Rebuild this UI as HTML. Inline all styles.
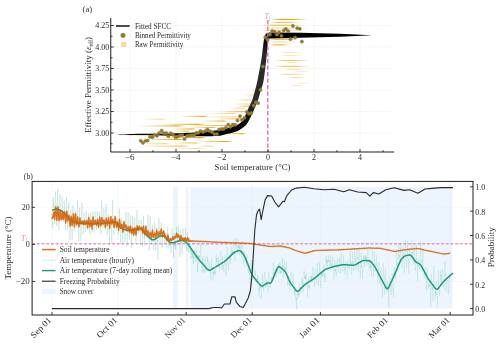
<!DOCTYPE html>
<html><head><meta charset="utf-8"><style>
html,body{margin:0;padding:0;background:#fff;}
svg{display:block;will-change:transform;font-family:"Liberation Serif", serif;}
</style></head><body>
<svg width="500" height="344" viewBox="0 0 500 344">
<rect width="500" height="344" fill="#fff"/>
<line x1="130" y1="18.0" x2="130" y2="152.0" stroke="#e6e6e6" stroke-width="0.6" stroke-dasharray="1.6,1.4"/>
<line x1="176" y1="18.0" x2="176" y2="152.0" stroke="#e6e6e6" stroke-width="0.6" stroke-dasharray="1.6,1.4"/>
<line x1="222" y1="18.0" x2="222" y2="152.0" stroke="#e6e6e6" stroke-width="0.6" stroke-dasharray="1.6,1.4"/>
<line x1="268" y1="18.0" x2="268" y2="152.0" stroke="#e6e6e6" stroke-width="0.6" stroke-dasharray="1.6,1.4"/>
<line x1="314" y1="18.0" x2="314" y2="152.0" stroke="#e6e6e6" stroke-width="0.6" stroke-dasharray="1.6,1.4"/>
<line x1="360" y1="18.0" x2="360" y2="152.0" stroke="#e6e6e6" stroke-width="0.6" stroke-dasharray="1.6,1.4"/>
<line x1="110.75" y1="133" x2="394.0" y2="133" stroke="#e6e6e6" stroke-width="0.6" stroke-dasharray="1.6,1.4"/>
<line x1="110.75" y1="111.5" x2="394.0" y2="111.5" stroke="#e6e6e6" stroke-width="0.6" stroke-dasharray="1.6,1.4"/>
<line x1="110.75" y1="90" x2="394.0" y2="90" stroke="#e6e6e6" stroke-width="0.6" stroke-dasharray="1.6,1.4"/>
<line x1="110.75" y1="68.5" x2="394.0" y2="68.5" stroke="#e6e6e6" stroke-width="0.6" stroke-dasharray="1.6,1.4"/>
<line x1="110.75" y1="47" x2="394.0" y2="47" stroke="#e6e6e6" stroke-width="0.6" stroke-dasharray="1.6,1.4"/>
<line x1="110.75" y1="25.5" x2="394.0" y2="25.5" stroke="#e6e6e6" stroke-width="0.6" stroke-dasharray="1.6,1.4"/>
<defs><linearGradient id="sgL" x1="0" y1="0" x2="1" y2="0"><stop offset="0" stop-color="#e69f00" stop-opacity="0"/><stop offset="0.5" stop-color="#e69f00" stop-opacity="0.6"/><stop offset="0.85" stop-color="#e69f00" stop-opacity="1"/><stop offset="1" stop-color="#e69f00" stop-opacity="0.1"/></linearGradient><linearGradient id="sgC" x1="0" y1="0" x2="1" y2="0"><stop offset="0" stop-color="#e69f00" stop-opacity="0.1"/><stop offset="0.25" stop-color="#e69f00" stop-opacity="0.9"/><stop offset="0.6" stop-color="#e69f00" stop-opacity="0.9"/><stop offset="1" stop-color="#e69f00" stop-opacity="0"/></linearGradient></defs>
<defs><filter id="sb" x="-5%" y="-50%" width="110%" height="200%"><feGaussianBlur stdDeviation="0.4 0.45"/></filter></defs><g filter="url(#sb)">
<rect x="236" y="99.45" width="16" height="1.1" fill="url(#sgL)" opacity="0.56"/>
<rect x="232" y="103.45" width="20" height="1.1" fill="url(#sgL)" opacity="0.48"/>
<rect x="236" y="105.65" width="15" height="1.1" fill="url(#sgL)" opacity="0.80"/>
<rect x="228" y="107.65" width="18" height="1.1" fill="url(#sgL)" opacity="0.48"/>
<rect x="218" y="111.15" width="30" height="1.1" fill="url(#sgL)" opacity="0.80"/>
<rect x="180" y="115.85" width="28" height="1.1" fill="url(#sgL)" opacity="0.88"/>
<rect x="205" y="116.25" width="35" height="1.1" fill="url(#sgL)" opacity="0.48"/>
<rect x="215" y="118.25" width="30" height="1.1" fill="url(#sgL)" opacity="0.80"/>
<rect x="141" y="118.65" width="25" height="1.1" fill="url(#sgL)" opacity="0.40"/>
<rect x="200" y="120.55" width="28" height="1.1" fill="url(#sgL)" opacity="0.80"/>
<rect x="160" y="123.75" width="45" height="1.1" fill="url(#sgL)" opacity="1.00"/>
<rect x="136" y="125.35" width="49" height="1.1" fill="url(#sgL)" opacity="0.96"/>
<rect x="190" y="126.85" width="27" height="1.1" fill="url(#sgL)" opacity="0.80"/>
<rect x="172" y="128.45" width="24" height="1.1" fill="url(#sgL)" opacity="1.00"/>
<rect x="174" y="130.55" width="16" height="1.1" fill="url(#sgL)" opacity="0.80"/>
<rect x="222" y="133.15" width="24" height="1.1" fill="url(#sgL)" opacity="0.96"/>
<rect x="160" y="137.05" width="47" height="1.1" fill="url(#sgL)" opacity="1.00"/>
<rect x="144" y="138.95" width="41" height="1.1" fill="url(#sgL)" opacity="0.96"/>
<rect x="196" y="140.95" width="36" height="1.1" fill="url(#sgL)" opacity="0.96"/>
<rect x="170" y="142.45" width="30" height="1.1" fill="url(#sgL)" opacity="0.72"/>
<rect x="140" y="143.15" width="30" height="1.1" fill="url(#sgL)" opacity="0.48"/>
<rect x="136" y="145.55" width="54" height="1.1" fill="url(#sgL)" opacity="0.72"/>
<rect x="195" y="145.65" width="19" height="1.1" fill="url(#sgL)" opacity="0.48"/>
<rect x="244" y="94.45" width="12" height="1.1" fill="url(#sgL)" opacity="0.48"/>
<rect x="250" y="89.45" width="8" height="1.1" fill="url(#sgL)" opacity="0.40"/>
<rect x="185" y="124.95" width="47" height="1.1" fill="url(#sgL)" opacity="0.72"/>
<rect x="205" y="112.95" width="33" height="1.1" fill="url(#sgL)" opacity="0.48"/>
<rect x="120" y="134.95" width="40" height="1.1" fill="url(#sgL)" opacity="0.40"/>
<rect x="150" y="131.65" width="25" height="1.1" fill="url(#sgL)" opacity="0.48"/>
<rect x="160" y="147.95" width="45" height="1.1" fill="url(#sgL)" opacity="0.40"/>
<rect x="205" y="129.95" width="20" height="1.1" fill="url(#sgL)" opacity="0.56"/>
<rect x="271" y="18.95" width="37" height="1.1" fill="url(#sgC)" opacity="1.00"/>
<rect x="271" y="21.85" width="29" height="1.1" fill="url(#sgC)" opacity="0.75"/>
<rect x="262" y="24.75" width="43" height="1.1" fill="url(#sgC)" opacity="0.75"/>
<rect x="262" y="27.45" width="48" height="1.1" fill="url(#sgC)" opacity="0.44"/>
<rect x="262" y="29.85" width="38" height="1.1" fill="url(#sgC)" opacity="0.50"/>
<rect x="268" y="38.65" width="32" height="1.1" fill="url(#sgC)" opacity="1.00"/>
<rect x="268" y="41.45" width="28" height="1.1" fill="url(#sgC)" opacity="0.44"/>
<rect x="270" y="44.25" width="20" height="1.1" fill="url(#sgC)" opacity="0.88"/>
<rect x="280" y="51.95" width="21" height="1.1" fill="url(#sgC)" opacity="0.31"/>
<rect x="282" y="54.95" width="20" height="1.1" fill="url(#sgC)" opacity="0.28"/>
<rect x="276" y="59.95" width="34" height="1.1" fill="url(#sgC)" opacity="0.62"/>
<rect x="286" y="61.85" width="14" height="1.1" fill="url(#sgC)" opacity="0.28"/>
<rect x="275" y="65.85" width="35" height="1.1" fill="url(#sgC)" opacity="0.69"/>
<rect x="285" y="68.75" width="20" height="1.1" fill="url(#sgC)" opacity="0.38"/>
<rect x="295" y="70.65" width="15" height="1.1" fill="url(#sgC)" opacity="0.25"/>
<rect x="278" y="73.85" width="29" height="1.1" fill="url(#sgC)" opacity="0.38"/>
<rect x="290" y="77.05" width="15" height="1.1" fill="url(#sgC)" opacity="0.44"/>
<rect x="295" y="82.65" width="15" height="1.1" fill="url(#sgC)" opacity="0.25"/>
<rect x="290" y="85.05" width="15" height="1.1" fill="url(#sgC)" opacity="0.25"/>
</g>
<defs><linearGradient id="bg" gradientUnits="userSpaceOnUse" x1="0" y1="30" x2="0" y2="140"><stop offset="0" stop-color="#000"/><stop offset="0.1" stop-color="#050505"/><stop offset="0.22" stop-color="#2a2a2a"/><stop offset="0.68" stop-color="#2a2a2a"/><stop offset="0.86" stop-color="#080808"/><stop offset="1" stop-color="#000"/></linearGradient></defs>
<path d="M118,134.4 C121.67,134.3 131.33,133.97 140,133.8 C148.67,133.63 160.67,133.62 170,133.4 C179.33,133.18 188.33,132.98 196,132.5 C203.67,132.02 211,131.17 216,130.5 C221,129.83 222.67,129.33 226,128.5 C229.33,127.67 233.5,126.53 236,125.5 C238.5,124.47 239.57,123.72 241,122.3 C242.43,120.88 243.38,119.3 244.6,117 C245.82,114.7 247.02,111.33 248.3,108.5 C249.58,105.67 251.18,103 252.3,100 C253.42,97 254.12,93.83 255,90.5 C255.88,87.17 256.55,85.08 257.6,80 C258.65,74.92 260.38,65.67 261.3,60 C262.22,54.33 262.67,49.33 263.1,46 C263.53,42.67 263.62,41.67 263.9,40 C264.18,38.33 264.42,37.07 264.8,36 C265.18,34.93 265.67,34.13 266.2,33.6 C266.73,33.07 267.2,32.98 268,32.8 C268.8,32.62 270.5,32.55 271,32.5 L300,32.7 L340,33.8 L372,35.35 L340,36.7 L300,37.8 L269.5,38.4 L269.5,38.4 C269.28,38.67 268.55,38.4 268.2,40 C267.85,41.6 267.73,44.67 267.4,48 C267.07,51.33 266.82,54.67 266.2,60 C265.58,65.33 264.57,75 263.7,80 C262.83,85 261.95,86.67 261,90 C260.05,93.33 259.03,97 258,100 C256.97,103 256.02,105.17 254.8,108 C253.58,110.83 252.08,114.25 250.7,117 C249.32,119.75 248.12,122.5 246.5,124.5 C244.88,126.5 242.83,127.78 241,129 C239.17,130.22 238.17,130.88 235.5,131.8 C232.83,132.72 228.25,133.78 225,134.5 C221.75,135.22 220.83,135.82 216,136.1 C211.17,136.38 203.67,136.27 196,136.2 C188.33,136.13 179.33,135.88 170,135.7 C160.67,135.52 148.67,135.25 140,135.1 C131.33,134.95 121.67,134.85 118,134.8 Z" fill="url(#bg)"/>
<line x1="267.8" y1="20" x2="267.8" y2="152.0" stroke="#d66fb3" stroke-width="1.3" stroke-dasharray="4.3,2.2"/>
<circle cx="140.8" cy="140.8" r="1.6" fill="#e05e00" stroke="#1b9e77" stroke-width="0.5"/>
<circle cx="143" cy="142.8" r="1.6" fill="#e05e00" stroke="#1b9e77" stroke-width="0.5"/>
<circle cx="145.6" cy="140.8" r="1.6" fill="#e05e00" stroke="#1b9e77" stroke-width="0.5"/>
<circle cx="147.6" cy="140.6" r="1.6" fill="#e05e00" stroke="#1b9e77" stroke-width="0.5"/>
<circle cx="150" cy="136.8" r="1.6" fill="#e05e00" stroke="#1b9e77" stroke-width="0.5"/>
<circle cx="152.4" cy="137.2" r="1.6" fill="#e05e00" stroke="#1b9e77" stroke-width="0.5"/>
<circle cx="154.4" cy="135" r="1.6" fill="#e05e00" stroke="#1b9e77" stroke-width="0.5"/>
<circle cx="157" cy="135.8" r="1.6" fill="#e05e00" stroke="#1b9e77" stroke-width="0.5"/>
<circle cx="159.2" cy="133" r="1.6" fill="#e05e00" stroke="#1b9e77" stroke-width="0.5"/>
<circle cx="161.6" cy="130.6" r="1.6" fill="#e05e00" stroke="#1b9e77" stroke-width="0.5"/>
<circle cx="163.8" cy="133.2" r="1.6" fill="#e05e00" stroke="#1b9e77" stroke-width="0.5"/>
<circle cx="166.2" cy="133.2" r="1.6" fill="#e05e00" stroke="#1b9e77" stroke-width="0.5"/>
<circle cx="168.4" cy="136.2" r="1.6" fill="#e05e00" stroke="#1b9e77" stroke-width="0.5"/>
<circle cx="170.8" cy="133.4" r="1.6" fill="#e05e00" stroke="#1b9e77" stroke-width="0.5"/>
<circle cx="173.2" cy="134.8" r="1.6" fill="#e05e00" stroke="#1b9e77" stroke-width="0.5"/>
<circle cx="175.6" cy="137.2" r="1.6" fill="#e05e00" stroke="#1b9e77" stroke-width="0.5"/>
<circle cx="177.6" cy="136.6" r="1.6" fill="#e05e00" stroke="#1b9e77" stroke-width="0.5"/>
<circle cx="180" cy="135.4" r="1.6" fill="#e05e00" stroke="#1b9e77" stroke-width="0.5"/>
<circle cx="182.4" cy="135" r="1.6" fill="#e05e00" stroke="#1b9e77" stroke-width="0.5"/>
<circle cx="184.5" cy="139" r="1.6" fill="#e05e00" stroke="#1b9e77" stroke-width="0.5"/>
<circle cx="186.9" cy="136" r="1.6" fill="#e05e00" stroke="#1b9e77" stroke-width="0.5"/>
<circle cx="189.3" cy="135.4" r="1.6" fill="#e05e00" stroke="#1b9e77" stroke-width="0.5"/>
<circle cx="191.7" cy="135.2" r="1.6" fill="#e05e00" stroke="#1b9e77" stroke-width="0.5"/>
<circle cx="194" cy="135.2" r="1.6" fill="#e05e00" stroke="#1b9e77" stroke-width="0.5"/>
<circle cx="196.3" cy="132.9" r="1.6" fill="#e05e00" stroke="#1b9e77" stroke-width="0.5"/>
<circle cx="198.4" cy="132.8" r="1.6" fill="#e05e00" stroke="#1b9e77" stroke-width="0.5"/>
<circle cx="200.5" cy="131" r="1.6" fill="#e05e00" stroke="#1b9e77" stroke-width="0.5"/>
<circle cx="203" cy="132" r="1.6" fill="#e05e00" stroke="#1b9e77" stroke-width="0.5"/>
<circle cx="205.5" cy="131" r="1.6" fill="#e05e00" stroke="#1b9e77" stroke-width="0.5"/>
<circle cx="207.5" cy="129.5" r="1.6" fill="#e05e00" stroke="#1b9e77" stroke-width="0.5"/>
<circle cx="209.5" cy="131" r="1.6" fill="#e05e00" stroke="#1b9e77" stroke-width="0.5"/>
<circle cx="212" cy="132" r="1.6" fill="#e05e00" stroke="#1b9e77" stroke-width="0.5"/>
<circle cx="214.5" cy="134" r="1.6" fill="#e05e00" stroke="#1b9e77" stroke-width="0.5"/>
<circle cx="217" cy="134" r="1.6" fill="#e05e00" stroke="#1b9e77" stroke-width="0.5"/>
<circle cx="219" cy="129.5" r="1.6" fill="#e05e00" stroke="#1b9e77" stroke-width="0.5"/>
<circle cx="221.5" cy="129" r="1.6" fill="#e05e00" stroke="#1b9e77" stroke-width="0.5"/>
<circle cx="223.5" cy="129" r="1.6" fill="#e05e00" stroke="#1b9e77" stroke-width="0.5"/>
<circle cx="226" cy="127.5" r="1.6" fill="#e05e00" stroke="#1b9e77" stroke-width="0.5"/>
<circle cx="228.2" cy="124.5" r="1.6" fill="#e05e00" stroke="#1b9e77" stroke-width="0.5"/>
<circle cx="230.5" cy="126.8" r="1.6" fill="#e05e00" stroke="#1b9e77" stroke-width="0.5"/>
<circle cx="232.8" cy="124.5" r="1.6" fill="#e05e00" stroke="#1b9e77" stroke-width="0.5"/>
<circle cx="235.2" cy="124.8" r="1.6" fill="#e05e00" stroke="#1b9e77" stroke-width="0.5"/>
<circle cx="237.5" cy="120.5" r="1.6" fill="#e05e00" stroke="#1b9e77" stroke-width="0.5"/>
<circle cx="240" cy="116.1" r="1.6" fill="#e05e00" stroke="#1b9e77" stroke-width="0.5"/>
<circle cx="242" cy="119.9" r="1.6" fill="#e05e00" stroke="#1b9e77" stroke-width="0.5"/>
<circle cx="244.4" cy="117.8" r="1.6" fill="#e05e00" stroke="#1b9e77" stroke-width="0.5"/>
<circle cx="246.8" cy="111.8" r="1.6" fill="#e05e00" stroke="#1b9e77" stroke-width="0.5"/>
<circle cx="249" cy="113.7" r="1.6" fill="#e05e00" stroke="#1b9e77" stroke-width="0.5"/>
<circle cx="251.3" cy="113" r="1.6" fill="#e05e00" stroke="#1b9e77" stroke-width="0.5"/>
<circle cx="253.7" cy="105.6" r="1.6" fill="#e05e00" stroke="#1b9e77" stroke-width="0.5"/>
<circle cx="255.8" cy="102.3" r="1.6" fill="#e05e00" stroke="#1b9e77" stroke-width="0.5"/>
<circle cx="258.2" cy="103.1" r="1.6" fill="#e05e00" stroke="#1b9e77" stroke-width="0.5"/>
<circle cx="260.5" cy="89.9" r="1.6" fill="#e05e00" stroke="#1b9e77" stroke-width="0.5"/>
<circle cx="262.9" cy="66.5" r="1.6" fill="#e05e00" stroke="#1b9e77" stroke-width="0.5"/>
<circle cx="265.3" cy="37.4" r="1.6" fill="#e05e00" stroke="#1b9e77" stroke-width="0.5"/>
<circle cx="267.6" cy="39.8" r="1.6" fill="#e05e00" stroke="#1b9e77" stroke-width="0.5"/>
<circle cx="270" cy="34.4" r="1.6" fill="#e05e00" stroke="#1b9e77" stroke-width="0.5"/>
<circle cx="272.2" cy="31" r="1.6" fill="#e05e00" stroke="#1b9e77" stroke-width="0.5"/>
<circle cx="274.5" cy="31.7" r="1.6" fill="#e05e00" stroke="#1b9e77" stroke-width="0.5"/>
<circle cx="276.9" cy="34.5" r="1.6" fill="#e05e00" stroke="#1b9e77" stroke-width="0.5"/>
<circle cx="279" cy="32.3" r="1.6" fill="#e05e00" stroke="#1b9e77" stroke-width="0.5"/>
<circle cx="281.4" cy="35.8" r="1.6" fill="#e05e00" stroke="#1b9e77" stroke-width="0.5"/>
<circle cx="283.7" cy="30.5" r="1.6" fill="#e05e00" stroke="#1b9e77" stroke-width="0.5"/>
<circle cx="285.9" cy="28.9" r="1.6" fill="#e05e00" stroke="#1b9e77" stroke-width="0.5"/>
<circle cx="288.3" cy="31.2" r="1.6" fill="#e05e00" stroke="#1b9e77" stroke-width="0.5"/>
<circle cx="290.5" cy="39.2" r="1.6" fill="#e05e00" stroke="#1b9e77" stroke-width="0.5"/>
<circle cx="292.9" cy="25.9" r="1.6" fill="#e05e00" stroke="#1b9e77" stroke-width="0.5"/>
<circle cx="295.1" cy="37.5" r="1.6" fill="#e05e00" stroke="#1b9e77" stroke-width="0.5"/>
<circle cx="297.3" cy="28.2" r="1.6" fill="#e05e00" stroke="#1b9e77" stroke-width="0.5"/>
<circle cx="299.8" cy="28.8" r="1.6" fill="#e05e00" stroke="#1b9e77" stroke-width="0.5"/>
<circle cx="301.9" cy="41.6" r="1.6" fill="#e05e00" stroke="#1b9e77" stroke-width="0.5"/>
<path d="M110.75,18.0 L110.75,152.0 L394.0,152.0" fill="none" stroke="#111" stroke-width="0.95"/>
<line x1="130" y1="152.0" x2="130" y2="149" stroke="#111" stroke-width="0.8"/>
<line x1="153" y1="152.0" x2="153" y2="150.2" stroke="#111" stroke-width="0.8"/>
<line x1="176" y1="152.0" x2="176" y2="149" stroke="#111" stroke-width="0.8"/>
<line x1="199" y1="152.0" x2="199" y2="150.2" stroke="#111" stroke-width="0.8"/>
<line x1="222" y1="152.0" x2="222" y2="149" stroke="#111" stroke-width="0.8"/>
<line x1="245" y1="152.0" x2="245" y2="150.2" stroke="#111" stroke-width="0.8"/>
<line x1="268" y1="152.0" x2="268" y2="149" stroke="#111" stroke-width="0.8"/>
<line x1="291" y1="152.0" x2="291" y2="150.2" stroke="#111" stroke-width="0.8"/>
<line x1="314" y1="152.0" x2="314" y2="149" stroke="#111" stroke-width="0.8"/>
<line x1="337" y1="152.0" x2="337" y2="150.2" stroke="#111" stroke-width="0.8"/>
<line x1="360" y1="152.0" x2="360" y2="149" stroke="#111" stroke-width="0.8"/>
<line x1="383" y1="152.0" x2="383" y2="150.2" stroke="#111" stroke-width="0.8"/>
<line x1="110.75" y1="143.75" x2="112.55" y2="143.75" stroke="#111" stroke-width="0.8"/>
<line x1="110.75" y1="133" x2="113.75" y2="133" stroke="#111" stroke-width="0.8"/>
<line x1="110.75" y1="122.25" x2="112.55" y2="122.25" stroke="#111" stroke-width="0.8"/>
<line x1="110.75" y1="111.5" x2="113.75" y2="111.5" stroke="#111" stroke-width="0.8"/>
<line x1="110.75" y1="100.75" x2="112.55" y2="100.75" stroke="#111" stroke-width="0.8"/>
<line x1="110.75" y1="90" x2="113.75" y2="90" stroke="#111" stroke-width="0.8"/>
<line x1="110.75" y1="79.25" x2="112.55" y2="79.25" stroke="#111" stroke-width="0.8"/>
<line x1="110.75" y1="68.5" x2="113.75" y2="68.5" stroke="#111" stroke-width="0.8"/>
<line x1="110.75" y1="57.75" x2="112.55" y2="57.75" stroke="#111" stroke-width="0.8"/>
<line x1="110.75" y1="47" x2="113.75" y2="47" stroke="#111" stroke-width="0.8"/>
<line x1="110.75" y1="36.25" x2="112.55" y2="36.25" stroke="#111" stroke-width="0.8"/>
<line x1="110.75" y1="25.5" x2="113.75" y2="25.5" stroke="#111" stroke-width="0.8"/>
<text x="129.7" y="160.2" font-size="8" text-anchor="middle" fill="#2b2b2b" textLength="9.6" lengthAdjust="spacingAndGlyphs">−6</text>
<text x="175.7" y="160.2" font-size="8" text-anchor="middle" fill="#2b2b2b" textLength="9.6" lengthAdjust="spacingAndGlyphs">−4</text>
<text x="221.7" y="160.2" font-size="8" text-anchor="middle" fill="#2b2b2b" textLength="9.6" lengthAdjust="spacingAndGlyphs">−2</text>
<text x="268" y="160.2" font-size="8" text-anchor="middle" fill="#2b2b2b">0</text>
<text x="314" y="160.2" font-size="8" text-anchor="middle" fill="#2b2b2b">2</text>
<text x="360" y="160.2" font-size="8" text-anchor="middle" fill="#2b2b2b">4</text>
<text x="109.2" y="135.8" font-size="8" text-anchor="end" fill="#2b2b2b" textLength="14" lengthAdjust="spacingAndGlyphs">3.00</text>
<text x="109.2" y="114.3" font-size="8" text-anchor="end" fill="#2b2b2b" textLength="14" lengthAdjust="spacingAndGlyphs">3.25</text>
<text x="109.2" y="92.8" font-size="8" text-anchor="end" fill="#2b2b2b" textLength="14" lengthAdjust="spacingAndGlyphs">3.50</text>
<text x="109.2" y="71.3" font-size="8" text-anchor="end" fill="#2b2b2b" textLength="14" lengthAdjust="spacingAndGlyphs">3.75</text>
<text x="109.2" y="49.8" font-size="8" text-anchor="end" fill="#2b2b2b" textLength="14" lengthAdjust="spacingAndGlyphs">4.00</text>
<text x="109.2" y="28.3" font-size="8" text-anchor="end" fill="#2b2b2b" textLength="14" lengthAdjust="spacingAndGlyphs">4.25</text>
<text x="252.5" y="170.2" font-size="9" text-anchor="middle" fill="#2b2b2b" textLength="76" lengthAdjust="spacingAndGlyphs">Soil temperature (°C)</text>
<text x="0" y="0" font-size="9" fill="#2b2b2b" text-anchor="middle" transform="translate(91.0 85) rotate(-90)" textLength="96" lengthAdjust="spacingAndGlyphs">Effective Permittivity (<tspan font-style="italic">ε</tspan><tspan font-size="6" dy="1.6">eff</tspan><tspan dy="-1.5">)</tspan></text>
<text x="82.6" y="12.2" font-size="8.5" fill="#2b2b2b" textLength="9.6" lengthAdjust="spacingAndGlyphs">(a)</text>
<text x="264.4" y="19.0" font-size="8" fill="#de8fc2" font-style="italic">T<tspan font-size="5.5" dy="1.3">f</tspan></text>
<line x1="116" y1="26" x2="129.6" y2="26" stroke="#000" stroke-width="1.4"/>
<text x="134.9" y="28.7" font-size="7.6" fill="#2b2b2b" textLength="36.3" lengthAdjust="spacingAndGlyphs">Fitted SFCC</text>
<circle cx="123" cy="35.4" r="2.2" fill="#e05e00" stroke="#1b9e77" stroke-width="0.7"/>
<text x="134.9" y="38" font-size="7.6" fill="#2b2b2b" textLength="56" lengthAdjust="spacingAndGlyphs">Binned Permittivity</text>
<rect x="121.2" y="42.0" width="5" height="5" fill="#f6d9a0"/>
<text x="134.9" y="47.1" font-size="7.6" fill="#2b2b2b" textLength="48.3" lengthAdjust="spacingAndGlyphs">Raw Permittivity</text>
<rect x="173.1" y="186.8" width="4.8" height="121.8" fill="#ecf5fd"/>
<rect x="186.2" y="186.8" width="2.4" height="121.8" fill="#ecf5fd"/>
<rect x="190.5" y="186.8" width="262.1" height="121.8" fill="#ecf5fd"/>
<line x1="52" y1="181.4" x2="52" y2="315.0" stroke="#e6e6e6" stroke-width="0.6" stroke-dasharray="1.6,1.4"/>
<line x1="118" y1="181.4" x2="118" y2="315.0" stroke="#e6e6e6" stroke-width="0.6" stroke-dasharray="1.6,1.4"/>
<line x1="186.2" y1="181.4" x2="186.2" y2="315.0" stroke="#e6e6e6" stroke-width="0.6" stroke-dasharray="1.6,1.4"/>
<line x1="252.2" y1="181.4" x2="252.2" y2="315.0" stroke="#e6e6e6" stroke-width="0.6" stroke-dasharray="1.6,1.4"/>
<line x1="320.4" y1="181.4" x2="320.4" y2="315.0" stroke="#e6e6e6" stroke-width="0.6" stroke-dasharray="1.6,1.4"/>
<line x1="388.6" y1="181.4" x2="388.6" y2="315.0" stroke="#e6e6e6" stroke-width="0.6" stroke-dasharray="1.6,1.4"/>
<line x1="450.2" y1="181.4" x2="450.2" y2="315.0" stroke="#e6e6e6" stroke-width="0.6" stroke-dasharray="1.6,1.4"/>
<line x1="32.1" y1="207.3" x2="473.0" y2="207.3" stroke="#e6e6e6" stroke-width="0.6" stroke-dasharray="1.6,1.4"/>
<line x1="32.1" y1="281.5" x2="473.0" y2="281.5" stroke="#e6e6e6" stroke-width="0.6" stroke-dasharray="1.6,1.4"/>
<polyline points="52,213.83 52.09,216.85 52.18,221.38 52.27,225.78 52.37,227.7 52.46,224.66 52.55,219.62 52.64,215.87 52.73,212.6 52.83,210.72 52.92,209.86 53.01,207.82 53.1,204.08 53.19,199.29 53.28,197.47 53.38,199.82 53.47,202.84 53.56,206.32 53.65,207.14 53.74,207.14 53.83,206.11 53.92,206.13 54.02,205.33 54.11,205.71 54.2,207.83 54.29,211.19 54.38,215.11 54.48,220.98 54.57,223.86 54.66,221.45 54.75,214.39 54.84,208.56 54.93,204.64 55.02,202.67 55.12,202.47 55.21,199.86 55.3,196.43 55.39,193.45 55.48,191.47 55.58,193.32 55.67,197.49 55.76,201.36 55.85,202.76 55.94,203.9 56.03,205.4 56.12,204.44 56.22,205.31 56.31,205.57 56.4,206.99 56.49,211.95 56.58,218.12 56.67,223.14 56.77,225.95 56.86,224.02 56.95,218.27 57.04,213.56 57.13,210.39 57.23,209.32 57.32,208.68 57.41,204.5 57.5,198.49 57.59,191.55 57.68,188.79 57.77,190.97 57.87,197.34 57.96,203.6 58.05,208.11 58.14,210.6 58.23,210.12 58.33,209.73 58.42,210.38 58.51,208.99 58.6,210.72 58.69,214.3 58.78,221.32 58.88,228.28 58.97,230.96 59.06,228.01 59.15,221.67 59.24,217.08 59.33,213.32 59.42,211.47 59.52,210.3 59.61,207.36 59.7,202.44 59.79,196.5 59.88,194.32 59.98,196.44 60.07,202.68 60.16,208.16 60.25,211.11 60.34,212.88 60.43,213.03 60.52,213.99 60.62,214.05 60.71,214.56 60.8,214.51 60.89,216.46 60.98,217.98 61.08,219.46 61.17,220.69 61.26,218.86 61.35,216.22 61.44,215.33 61.53,213.1 61.62,211.73 61.72,210.66 61.81,208.26 61.9,203.38 61.99,198.16 62.08,196.53 62.17,199.32 62.27,203.76 62.36,208.62 62.45,211.59 62.54,212.03 62.63,212.68 62.73,212.2 62.82,213.07 62.91,213.32 63,214.49 63.09,215.96 63.18,219.12 63.27,221.07 63.37,221.86 63.46,220.82 63.55,215.99 63.64,213.69 63.73,210.65 63.83,210.51 63.92,209.12 64.01,208.07 64.1,205.25 64.19,200.95 64.28,200.67 64.38,203.48 64.47,206.94 64.56,210.04 64.65,211.95 64.74,212.15 64.83,213.42 64.92,213.24 65.02,213.41 65.11,213.01 65.2,214.25 65.29,216.21 65.38,222.01 65.47,227.02 65.57,230.15 65.66,228.19 65.75,222.95 65.84,218.32 65.93,215.34 66.03,214.12 66.12,212.5 66.21,209.42 66.3,203.46 66.39,197.62 66.48,196.71 66.58,198.85 66.67,203.75 66.76,209.37 66.85,213.69 66.94,214 67.03,214.44 67.12,214.29 67.22,213.23 67.31,214.11 67.4,215.79 67.49,218.68 67.58,222.71 67.67,227.98 67.77,229.9 67.86,228 67.95,222.8 68.04,217.83 68.13,216.56 68.22,215.14 68.32,214.41 68.41,212.28 68.5,208.26 68.59,203.94 68.68,202.82 68.78,204.7 68.87,209.04 68.96,213.23 69.05,216.66 69.14,218.32 69.23,219.05 69.33,218.83 69.42,217.95 69.51,218.87 69.6,221.5 69.69,224.7 69.78,230.61 69.88,237.06 69.97,240.35 70.06,238.6 70.15,232.61 70.24,228.49 70.33,224.35 70.42,223.48 70.52,222.41 70.61,220.26 70.7,216.99 70.79,213.06 70.88,209.9 70.97,210.81 71.07,216.46 71.16,220.36 71.25,223.12 71.34,224.87 71.43,223.92 71.53,222.39 71.62,222.67 71.71,222.77 71.8,224.43 71.89,227.77 71.98,232.68 72.08,237.51 72.17,240.14 72.26,236.9 72.35,229.91 72.44,224.96 72.53,221.77 72.62,220.67 72.72,218.73 72.81,215.95 72.9,211.34 72.99,206.56 73.08,205.01 73.17,206.55 73.27,211.37 73.36,215.89 73.45,220.03 73.54,220.08 73.63,221.23 73.73,221.38 73.82,221.53 73.91,220.58 74,221.35 74.09,223.81 74.18,226.79 74.28,230.12 74.37,231.43 74.46,231.09 74.55,228.11 74.64,223.67 74.73,221.59 74.83,219.42 74.92,216.39 75.01,214.89 75.1,213.95 75.19,211.85 75.28,210.11 75.38,210.64 75.47,214.08 75.56,216.59 75.65,218.09 75.74,218.73 75.83,219.06 75.92,219.86 76.02,220.42 76.11,220.69 76.2,220.61 76.29,222.26 76.38,223.77 76.48,226.79 76.57,226.83 76.66,225.93 76.75,223.97 76.84,221.14 76.93,221.38 77.03,221.72 77.12,219.85 77.21,216.91 77.3,211.19 77.39,202.76 77.48,200.17 77.58,203.08 77.67,209.71 77.76,215.04 77.85,218.53 77.94,219.98 78.03,221.44 78.12,221.88 78.22,221.98 78.31,223.24 78.4,224.55 78.49,227.38 78.58,231.26 78.67,238.09 78.77,241.35 78.86,239.65 78.95,234.67 79.04,229.6 79.13,226.66 79.23,224.88 79.32,223.1 79.41,219.94 79.5,215.77 79.59,210.46 79.68,207.83 79.78,209.87 79.87,215.03 79.96,221.55 80.05,225.01 80.14,226.24 80.23,226.27 80.33,225.44 80.42,225.38 80.51,226.01 80.6,227.24 80.69,229.89 80.78,234.56 80.88,239.83 80.97,240.9 81.06,238.4 81.15,232.55 81.24,228.37 81.33,224.83 81.42,223.71 81.52,223.04 81.61,218.98 81.7,212.14 81.79,205.5 81.88,202.47 81.98,204.73 82.07,211.89 82.16,219.79 82.25,223.29 82.34,224.63 82.43,224.23 82.53,224.55 82.62,223.57 82.71,222.71 82.8,224.58 82.89,225.5 82.98,229.08 83.08,233.15 83.17,234.59 83.26,233.64 83.35,232.12 83.44,229.1 83.53,226.88 83.62,224.86 83.72,223.81 83.81,222.75 83.9,219.83 83.99,215.19 84.08,212.78 84.18,214.06 84.27,218.09 84.36,221.48 84.45,223.73 84.54,224.79 84.63,224.77 84.72,224.78 84.82,224.94 84.91,224.86 85,225.75 85.09,228.1 85.18,230.06 85.28,231.72 85.37,231.11 85.46,230.6 85.55,227.35 85.64,224.66 85.73,224.34 85.83,224.27 85.92,223.22 86.01,219.87 86.1,216.18 86.19,212.04 86.28,210.95 86.38,214.36 86.47,218.2 86.56,221.05 86.65,222.22 86.74,223.06 86.83,223.23 86.93,222.47 87.02,222.66 87.11,221.88 87.2,223.32 87.29,225.06 87.38,227.39 87.47,228.59 87.57,229.72 87.66,228.98 87.75,227.21 87.84,225.59 87.93,223.8 88.03,222.29 88.12,222.31 88.21,220.73 88.3,218.42 88.39,216.52 88.48,214.04 88.58,214.78 88.67,217.8 88.76,220.79 88.85,222.13 88.94,223.64 89.03,224.07 89.12,223.25 89.22,222.65 89.31,223.4 89.4,224.7 89.49,224.88 89.58,228.64 89.68,231.97 89.77,234.31 89.86,232.84 89.95,229.91 90.04,226.53 90.13,226.98 90.22,226.02 90.32,226.25 90.41,223.61 90.5,220.16 90.59,215.07 90.68,213.12 90.78,215.64 90.87,218.55 90.96,223.03 91.05,225.44 91.14,225.55 91.23,225.5 91.33,225.29 91.42,225.35 91.51,225.03 91.6,225.38 91.69,226.86 91.78,228.93 91.88,231 91.97,232.42 92.06,231.96 92.15,228.02 92.24,225.47 92.33,223.49 92.43,222.02 92.52,221.8 92.61,219.38 92.7,217.02 92.79,212.65 92.88,211.37 92.97,213.1 93.07,216.61 93.16,220.89 93.25,223.09 93.34,224.57 93.43,224.91 93.53,224.26 93.62,224.35 93.71,224.55 93.8,226.2 93.89,227.02 93.98,229.51 94.08,230.87 94.17,232.68 94.26,230.89 94.35,227.16 94.44,224.95 94.53,224.56 94.62,222.82 94.72,221.35 94.81,219.28 94.9,215.76 94.99,213.22 95.08,211.48 95.18,212.58 95.27,216.39 95.36,218.97 95.45,221.27 95.54,221.46 95.63,221 95.72,219.92 95.82,221.65 95.91,221.65 96,222.59 96.09,223.73 96.18,225.66 96.28,227.58 96.37,229.97 96.46,228.58 96.55,225.89 96.64,223.75 96.73,221.98 96.83,222.21 96.92,222.15 97.01,219.63 97.1,215.44 97.19,211.84 97.28,211.56 97.38,211.21 97.47,215.48 97.56,218.27 97.65,221.3 97.74,221.5 97.83,221.76 97.93,220.92 98.02,220.47 98.11,221.84 98.2,223.44 98.29,224.65 98.38,226.4 98.47,227.54 98.57,228.56 98.66,227.77 98.75,225.64 98.84,223.63 98.93,221.68 99.03,221.13 99.12,220.36 99.21,219.48 99.3,217.59 99.39,213.88 99.48,211.77 99.58,213.54 99.67,216.98 99.76,220.09 99.85,222.29 99.94,222.51 100.03,223.41 100.12,223.56 100.22,223.93 100.31,223.95 100.4,224.56 100.49,225.86 100.58,228.99 100.68,232.11 100.77,233.98 100.86,232.68 100.95,228.48 101.04,225.6 101.13,222.84 101.22,221.43 101.32,219.78 101.41,214.85 101.5,209.19 101.59,203.17 101.68,200.44 101.78,203.18 101.87,209.5 101.96,214.96 102.05,218.5 102.14,219.73 102.23,220.43 102.33,219.81 102.42,220.24 102.51,220.56 102.6,221.23 102.69,222.13 102.78,224.53 102.88,225.34 102.97,226.74 103.06,226.27 103.15,224.76 103.24,223.44 103.33,221.98 103.43,221.22 103.52,220.71 103.61,218.63 103.7,214.64 103.79,209.03 103.88,207.55 103.97,210.59 104.07,216 104.16,220.51 104.25,221.9 104.34,223.72 104.43,223.96 104.53,222.14 104.62,222.56 104.71,221.53 104.8,221.45 104.89,222.53 104.98,226.04 105.08,228.43 105.17,229.88 105.26,230.18 105.35,228.9 105.44,226.44 105.53,224.77 105.62,222.84 105.72,220.79 105.81,217.69 105.9,212.19 105.99,206.07 106.08,204.09 106.18,206.28 106.27,212.48 106.36,218.89 106.45,222.77 106.54,224.96 106.63,225.62 106.72,225.41 106.82,225.64 106.91,224.83 107,224.72 107.09,227.3 107.18,230.85 107.28,234.92 107.37,235.33 107.46,233.39 107.55,229.16 107.64,224.97 107.73,221.19 107.83,220.09 107.92,220.21 108.01,219.41 108.1,217.1 108.19,215.11 108.28,214.85 108.38,213.72 108.47,215.82 108.56,218.3 108.65,220.06 108.74,221.88 108.83,222.9 108.93,223.16 109.02,223.36 109.11,223.91 109.2,225.28 109.29,228.55 109.38,234.91 109.47,242.43 109.57,244.9 109.66,242.03 109.75,235.95 109.84,231.12 109.93,227.54 110.03,226.95 110.12,224.95 110.21,222.86 110.3,219.64 110.39,216.99 110.48,216.27 110.58,216.35 110.67,218.65 110.76,221.73 110.85,222.83 110.94,222.28 111.03,223.23 111.12,223.58 111.22,223.89 111.31,223.46 111.4,226.07 111.49,229.25 111.58,235.85 111.68,241.31 111.77,243.37 111.86,240.72 111.95,233.9 112.04,228.54 112.13,225.18 112.22,222.61 112.32,220.73 112.41,216.63 112.5,210.96 112.59,203.65 112.68,200.25 112.78,204.15 112.87,212.56 112.96,220.29 113.05,223.91 113.14,225.43 113.23,226.89 113.33,226.7 113.42,225.79 113.51,225.72 113.6,227.03 113.69,228.25 113.78,230.28 113.88,232.74 113.97,234.83 114.06,232.56 114.15,228.76 114.24,225.48 114.33,223.88 114.43,222.63 114.52,222.27 114.61,220.35 114.7,218.08 114.79,215.19 114.88,215.12 114.97,215.99 115.07,217.47 115.16,219.13 115.25,220.1 115.34,221.1 115.43,219.99 115.53,219.23 115.62,218.97 115.71,220.94 115.8,222.28 115.89,223.29 115.98,225.75 116.08,229.46 116.17,230.22 116.26,229.05 116.35,227.92 116.44,226.37 116.53,225.73 116.63,224.75 116.72,225.62 116.81,225.64 116.9,223.91 116.99,222.13 117.08,219.52 117.17,221.01 117.27,223.12 117.36,225.57 117.45,227.34 117.54,227.59 117.63,226.47 117.73,226.84 117.82,226.35 117.91,226.17 118,226.67 118.09,228.11 118.18,229.16 118.28,233.14 118.37,234.75 118.46,234.43 118.55,233.14 118.64,230.49 118.73,227.5 118.83,225.95 118.92,223.87 119.01,220.9 119.1,216.53 119.19,210.26 119.28,208.57 119.38,209.81 119.47,215.18 119.56,219.92 119.65,222.62 119.74,223.89 119.83,224.03 119.92,223.88 120.02,222.85 120.11,223.05 120.2,226.21 120.29,230.72 120.38,236.64 120.48,242.39 120.57,244.22 120.66,243.11 120.75,237.98 120.84,233.17 120.93,230.13 121.03,228.9 121.12,227.48 121.21,225.39 121.3,221.17 121.39,217.29 121.48,217.51 121.58,219.18 121.67,222.8 121.76,226.78 121.85,229.44 121.94,229.46 122.03,229.61 122.13,230.44 122.22,230.71 122.31,230.85 122.4,233.19 122.49,234.7 122.58,238.21 122.67,241.49 122.77,244.28 122.86,241.16 122.95,237.03 123.04,233.25 123.13,231.77 123.23,231.25 123.32,231.39 123.41,228.38 123.5,226.03 123.59,222.66 123.68,220.77 123.78,222.63 123.87,225.13 123.96,226.58 124.05,228.16 124.14,227.85 124.23,227.72 124.33,228.23 124.42,228.63 124.51,230 124.6,231.35 124.69,232.81 124.78,236.66 124.88,240.68 124.97,241.96 125.06,240.44 125.15,235.53 125.24,229.91 125.33,228.07 125.42,226.8 125.52,225.76 125.61,223.01 125.7,218.65 125.79,213.48 125.88,212.17 125.98,214.95 126.07,220.64 126.16,225.99 126.25,227.87 126.34,229.04 126.43,229.28 126.53,229.61 126.62,228.68 126.71,230.04 126.8,231.85 126.89,234.01 126.98,237.91 127.08,243.29 127.17,245.77 127.26,242.88 127.35,237.57 127.44,232.04 127.53,229.48 127.63,227.46 127.72,225.99 127.81,223.82 127.9,220.86 127.99,214.77 128.08,212.07 128.18,213.82 128.27,219.8 128.36,223.93 128.45,226.55 128.54,227.79 128.63,227.46 128.73,226.9 128.82,226.65 128.91,225.17 129,225.76 129.09,228.42 129.18,233.45 129.28,238.56 129.37,239.64 129.46,237.27 129.55,233.05 129.64,228.94 129.73,226.23 129.82,224.4 129.92,224.06 130.01,222.01 130.1,218.38 130.19,214.86 130.28,214.8 130.38,216.53 130.47,220.69 130.56,223.37 130.65,225.94 130.74,226.27 130.83,226.46 130.93,228.51 131.02,229.15 131.11,228.81 131.2,230.66 131.29,234.35 131.38,241.09 131.48,246.89 131.57,248.32 131.66,245.4 131.75,239.28 131.84,233.6 131.93,231.14 132.03,229.66 132.12,228.73 132.21,225 132.3,220.94 132.39,217.48 132.48,215.75 132.57,218.05 132.67,223.04 132.76,228.94 132.85,230.81 132.94,231.69 133.03,232.2 133.12,232.67 133.22,232.17 133.31,232.24 133.4,232.44 133.49,233.42 133.58,234.93 133.68,235.8 133.77,236.52 133.86,236.27 133.95,233.56 134.04,231.53 134.13,230.88 134.23,229.27 134.32,228.21 134.41,224.78 134.5,221.3 134.59,218.41 134.68,217.78 134.78,219.47 134.87,224.46 134.96,228.67 135.05,231.08 135.14,233.1 135.23,232.17 135.32,232.85 135.42,232.62 135.51,233.5 135.6,234.34 135.69,235.3 135.78,238.17 135.88,241.58 135.97,242.75 136.06,241.57 136.15,237.91 136.24,233.22 136.33,232 136.43,231.27 136.52,229.57 136.61,225.89 136.7,220.54 136.79,213.63 136.88,210.05 136.98,212.55 137.07,219.62 137.16,224.3 137.25,228.54 137.34,229.3 137.43,228.72 137.53,229.65 137.62,229.44 137.71,228.32 137.8,228.42 137.89,229.91 137.98,232.2 138.07,233.33 138.17,234.25 138.26,233.99 138.35,231.8 138.44,230.5 138.53,229.47 138.62,228.47 138.72,227.42 138.81,226.17 138.9,224.04 138.99,221.31 139.08,219.94 139.18,221.76 139.27,224.1 139.36,226.81 139.45,228.87 139.54,229.7 139.63,231.44 139.73,230.66 139.82,231.12 139.91,230.71 140,233.28 140.09,236.83 140.18,239.23 140.28,242.71 140.37,245.09 140.46,243.74 140.55,239.96 140.64,235.8 140.73,233.66 140.82,232.9 140.92,231.73 141.01,230.5 141.1,225.49 141.19,222.54 141.28,220.2 141.38,222.42 141.47,225.6 141.56,228.06 141.65,230.22 141.74,230.28 141.83,229.82 141.93,228.73 142.02,228.81 142.11,229.32 142.2,231.66 142.29,234.28 142.38,239.66 142.48,244.56 142.57,246.7 142.66,245.06 142.75,241.12 142.84,236.39 142.93,233.54 143.03,232.08 143.12,230.76 143.21,227.27 143.3,223.36 143.39,218.02 143.48,216.2 143.57,217.93 143.67,223.44 143.76,228.64 143.85,231.23 143.94,234.02 144.03,234.68 144.12,236.15 144.22,236.9 144.31,236.39 144.4,236.96 144.49,238.87 144.58,241.56 144.68,244.41 144.77,245.46 144.86,242.86 144.95,239.94 145.04,235.7 145.13,234.54 145.23,233.33 145.32,232.3 145.41,231.18 145.5,229.74 145.59,226.87 145.68,224.86 145.78,225.11 145.87,225.7 145.96,227.03 146.05,229.6 146.14,229.48 146.23,230.38 146.32,229.62 146.42,230.14 146.51,230.16 146.6,230.9 146.69,232.53 146.78,235.7 146.88,237.73 146.97,238.77 147.06,237.45 147.15,236.4 147.24,234.8 147.33,234.61 147.43,233.97 147.52,233.95 147.61,229.06 147.7,223.09 147.79,217.62 147.88,214.72 147.98,217.11 148.07,223.44 148.16,228.53 148.25,232.36 148.34,235.89 148.43,237.36 148.53,236.75 148.62,236.27 148.71,236.17 148.8,238.36 148.89,240.09 148.98,243.47 149.07,248.31 149.17,250.91 149.26,248.99 149.35,244.3 149.44,239.55 149.53,236.93 149.62,234.11 149.72,233.14 149.81,229.08 149.9,223.28 149.99,218.11 150.08,216.14 150.18,218.45 150.27,226.09 150.36,233.48 150.45,236.76 150.54,237.67 150.63,238.16 150.73,237.16 150.82,238.47 150.91,236.78 151,236.83 151.09,238.12 151.18,240.32 151.28,242.96 151.37,244.4 151.46,243.43 151.55,242.22 151.64,238.62 151.73,237.54 151.82,236.48 151.92,235.84 152.01,234.11 152.1,229.97 152.19,225.82 152.28,224.93 152.38,227.08 152.47,230.57 152.56,235.88 152.65,239.86 152.74,239.64 152.83,240.19 152.93,242.22 153.02,242.82 153.11,242.97 153.2,243.51 153.29,244.39 153.38,246.44 153.48,248.38 153.57,249.98 153.66,248.58 153.75,245.82 153.84,242.65 153.93,241.22 154.03,239.64 154.12,238.07 154.21,235.68 154.3,230.56 154.39,225.19 154.48,222.9 154.57,225.49 154.67,231.13 154.76,236.25 154.85,239.98 154.94,240.41 155.03,241.77 155.12,241.78 155.22,241.12 155.31,240.69 155.4,241.11 155.49,243 155.58,245.48 155.68,249.6 155.77,250.38 155.86,247.12 155.95,243.28 156.04,238.69 156.13,236.9 156.23,236.85 156.32,236.46 156.41,233.63 156.5,230.07 156.59,228.26 156.68,227.09 156.78,228.55 156.87,232.6 156.96,237.47 157.05,240.15 157.14,240.85 157.23,241.18 157.32,241.54 157.42,240.89 157.51,239.91 157.6,241.67 157.69,244.16 157.78,249.7 157.88,255.74 157.97,260.1 158.06,256.61 158.15,250.37 158.24,244.48 158.33,241.32 158.43,240.28 158.52,238.02 158.61,233.84 158.7,226.78 158.79,219.94 158.88,217.63 158.98,220.35 159.07,225.63 159.16,231.02 159.25,234.38 159.34,236.12 159.43,236.03 159.53,235.91 159.62,234.52 159.71,233.69 159.8,235.9 159.89,235.92 159.98,238.55 160.07,241.8 160.17,242.91 160.26,241.02 160.35,238.06 160.44,235.35 160.53,233.69 160.62,231.5 160.72,230.7 160.81,228.56 160.9,225.61 160.99,223.08 161.08,222.44 161.18,224.53 161.27,227.11 161.36,230.59 161.45,233.12 161.54,234.65 161.63,235.88 161.73,235.77 161.82,235.6 161.91,236.18 162,236.48 162.09,239.22 162.18,243.16 162.28,247.51 162.37,248.26 162.46,245.61 162.55,241.1 162.64,237.6 162.73,235.9 162.82,234.8 162.92,234.13 163.01,232.77 163.1,231.91 163.19,230.46 163.28,230.4 163.38,232.37 163.47,233.66 163.56,233.75 163.65,233.85 163.74,233.08 163.83,232.32 163.93,233.44 164.02,233.69 164.11,232.6 164.2,234.09 164.29,236.73 164.38,239.23 164.48,241.67 164.57,242.78 164.66,241.78 164.75,239.46 164.84,237.72 164.93,237.07 165.03,237.26 165.12,237.8 165.21,237.3 165.3,234.42 165.39,232.54 165.48,232.04 165.57,232.65 165.67,235.28 165.76,236.8 165.85,237.18 165.94,238.78 166.03,239.47 166.12,239.71 166.22,240.46 166.31,241.28 166.4,242.42 166.49,242.16 166.58,244.45 166.68,247.12 166.77,247.74 166.86,246.65 166.95,244.68 167.04,241.58 167.13,239.1 167.23,239.84 167.32,238.52 167.41,235.54 167.5,232.33 167.59,229.03 167.68,226.94 167.78,229.3 167.87,232.72 167.96,235.59 168.05,237.89 168.14,239.42 168.23,239.28 168.32,239.7 168.42,239.73 168.51,241.98 168.6,241.99 168.69,244.04 168.78,245.62 168.88,247.26 168.97,248.59 169.06,248.51 169.15,247.76 169.24,246.39 169.33,244.95 169.43,244.07 169.52,244.04 169.61,243.64 169.7,243.28 169.79,242.05 169.88,242.15 169.98,243.94 170.07,245.41 170.16,245.48 170.25,245.25 170.34,244.35 170.43,245.57 170.53,244.82 170.62,245.67 170.71,245.99 170.8,247.72 170.89,249.33 170.98,250.78 171.07,252.29 171.17,252.99 171.26,252.12 171.35,249.68 171.44,247.74 171.53,247.71 171.62,245.46 171.72,244.22 171.81,240.49 171.9,235.63 171.99,230.95 172.08,228.46 172.18,231.23 172.27,235.04 172.36,240.6 172.45,242.83 172.54,244.31 172.63,244.64 172.73,242.61 172.82,241.99 172.91,242.14 173,244.58 173.09,247.07 173.18,251.14 173.28,254.19 173.37,257.09 173.46,256.5 173.55,252.19 173.64,247.96 173.73,244.25 173.82,243.67 173.92,244.48 174.01,242.64 174.1,239.72 174.19,235.98 174.28,233.28 174.38,235.89 174.47,238.7 174.56,242.05 174.65,244.27 174.74,245.66 174.83,246.06 174.93,246.22 175.02,245.45 175.11,244.29 175.2,245.02 175.29,245.83 175.38,247.25 175.48,248.9 175.57,249.67 175.66,247 175.75,243.26 175.84,239.51 175.93,238.19 176.03,237.74 176.12,238.34 176.21,235.17 176.3,231.32 176.39,228.47 176.48,226.76 176.57,228.2 176.67,233.21 176.76,236.37 176.85,237.53 176.94,237.4 177.03,237.99 177.12,238.35 177.22,237.38 177.31,236.72 177.4,237.88 177.49,239.57 177.58,241.1 177.68,243.75 177.77,245.19 177.86,242.97 177.95,240.78 178.04,239.27 178.13,237.74 178.23,235.52 178.32,234.5 178.41,233.18 178.5,231.07 178.59,225.82 178.68,226.34 178.78,227.22 178.87,231.72 178.96,236.17 179.05,238.97 179.14,239.91 179.23,239.28 179.32,239.85 179.42,239.33 179.51,237.44 179.6,241.09 179.69,244.2 179.78,249.89 179.88,253.75 179.97,256.88 180.06,256 180.15,252.55 180.24,248.15 180.33,244.59 180.43,243.2 180.52,240.5 180.61,237.5 180.7,234.87 180.79,231.22 180.88,229.86 180.97,231.13 181.07,235.61 181.16,239.36 181.25,240.91 181.34,242.51 181.43,242.05 181.53,241.8 181.62,242.53 181.71,241.52 181.8,242.55 181.89,243.74 181.98,247.68 182.08,253.09 182.17,254.25 182.26,252.64 182.35,247.87 182.44,243.17 182.53,239.93 182.63,240.05 182.72,240.87 182.81,238.91 182.9,234.4 182.99,230.85 183.08,228.7 183.18,231.16 183.27,235.45 183.36,239.44 183.45,242.12 183.54,242.42 183.63,242.24 183.72,240.73 183.82,240.32 183.91,239.09 184,239.51 184.09,239.74 184.18,241.59 184.28,243.85 184.37,243.48 184.46,242.1 184.55,239.65 184.64,238.82 184.73,239.44 184.83,239.65 184.92,238.51 185.01,237.9 185.1,233.27 185.19,231.17 185.28,229.05 185.38,228.17 185.47,234.2 185.56,238.95 185.65,239.93 185.74,240.88 185.83,240.93 185.93,241.1 186.02,239.75 186.11,239.18 186.2,240.37 186.29,241.9 186.38,245.18 186.47,247.54 186.57,250.76 186.66,249.06 186.75,247.05 186.84,243.16 186.93,240.77 187.03,241.46 187.12,239.91 187.21,239.02 187.3,236.57 187.39,233.04 187.48,231.65 187.58,232.46 187.67,234.74 187.76,238.05 187.85,240.23 187.94,240.37 188.03,239.81 188.13,240.33 188.22,240.43 188.31,241.61 188.4,245.12 188.49,247.44 188.58,249.87 188.68,252.32 188.77,252.65 188.86,250.67 188.95,247.21 189.04,244.55 189.13,242.85 189.22,243.08 189.32,242.21 189.41,241.02 189.5,238.03 189.59,237.82 189.68,237.56 189.78,240.42 189.87,243.37 189.96,246.84 190.05,247.72 190.14,248.9 190.23,251.77 190.33,250.43 190.42,251.58 190.51,253.25 190.6,253.97 190.69,255.36 190.78,257.76 190.88,258.19 190.97,259.08 191.06,257.47 191.15,255.39 191.24,253.47 191.33,252.57 191.43,252.33 191.52,252.37 191.61,249.92 191.7,250.6 191.79,250.24 191.88,250.24 191.97,250.44 192.07,251.82 192.16,253.81 192.25,255.03 192.34,253.4 192.43,254.29 192.53,257.49 192.62,255.32 192.71,256.38 192.8,257.37 192.89,258.32 192.98,261.76 193.08,262.44 193.17,263.49 193.26,264.15 193.35,261.76 193.44,259.25 193.53,258.13 193.63,256.96 193.72,258.07 193.81,255.72 193.9,254.65 193.99,250.98 194.08,250.76 194.18,251.56 194.27,250.7 194.36,252.78 194.45,252.8 194.54,252.87 194.63,254.91 194.72,253.69 194.82,252.56 194.91,254.38 195,255.1 195.09,257.91 195.18,259.86 195.28,260.48 195.37,261.17 195.46,261.94 195.55,261.4 195.64,259.81 195.73,258.88 195.83,258.18 195.92,256.83 196.01,257.87 196.1,255.69 196.19,252.02 196.28,250.44 196.38,252.38 196.47,255.43 196.56,257.37 196.65,257.8 196.74,258.36 196.83,256.48 196.93,254.99 197.02,256.12 197.11,255.65 197.2,257.24 197.29,260.66 197.38,264.61 197.47,267.97 197.57,272.15 197.66,271.53 197.75,267.8 197.84,265.65 197.93,264.32 198.03,262.41 198.12,262.01 198.21,261.06 198.3,257.4 198.39,256.03 198.48,255.25 198.58,255.46 198.67,254.88 198.76,255.91 198.85,256.85 198.94,257.55 199.03,256.44 199.13,257.58 199.22,256.31 199.31,256.36 199.4,258.71 199.49,258.7 199.58,259.38 199.68,262.2 199.77,262.48 199.86,261.93 199.95,261.48 200.04,262.16" fill="none" stroke="#1b9e77" stroke-opacity="0.25" stroke-width="0.6"/>
<polyline points="200.04,262.16 200.13,258.9 200.22,257.68 200.32,255.88 200.41,252.82 200.5,248.7 200.59,244.41 200.68,243.67 200.78,244.65 200.87,249.01 200.96,253.48 201.05,255.03 201.14,256.49 201.23,259.3 201.33,260.13 201.42,259.63 201.51,259.9 201.6,260.21 201.69,263.07 201.78,268.13 201.88,271.22 201.97,273 202.06,273.07 202.15,268.85 202.24,265.77 202.33,262.57 202.43,260.85 202.52,259.84 202.61,261.81 202.7,259.7 202.79,257.35 202.88,256.07 202.97,257.07 203.07,260.2 203.16,262.59 203.25,266.58 203.34,267.5 203.43,269.66 203.53,270.17 203.62,271.07 203.71,269.31 203.8,269.77 203.89,270.68 203.98,271.94 204.08,270.88 204.17,272.93 204.26,271.98 204.35,270.15 204.44,268.66 204.53,267.75 204.63,267.98 204.72,265.84 204.81,263.35 204.9,261.39 204.99,259.05 205.08,257.61 205.18,258.42 205.27,260.44 205.36,263.33 205.45,266.7 205.54,266.26 205.63,268.7 205.72,270.06 205.82,269.68 205.91,270.89 206,269.75 206.09,268.76 206.18,269.08 206.28,270.68 206.37,271.4 206.46,270.27 206.55,268.93 206.64,264.87 206.73,264.9 206.83,263 206.92,262.2 207.01,261.41 207.1,259.22 207.19,256.72 207.28,255.43 207.38,256.51 207.47,259.03 207.56,261.39 207.65,261.25 207.74,261.01 207.83,260.43 207.93,261.54 208.02,259.44 208.11,261.58 208.2,261.76 208.29,261.81 208.38,263.69 208.47,266.5 208.57,267.82 208.66,269.13 208.75,268.67 208.84,269.57 208.93,270.71 209.03,270.29 209.12,271.54 209.21,270.24 209.3,267.76 209.39,263.8 209.48,262.26 209.58,264.57 209.67,265.76 209.76,269.3 209.85,271.35 209.94,272.37 210.03,269.77 210.13,269.77 210.22,270.69 210.31,269.77 210.4,271.08 210.49,270.13 210.58,274.51 210.68,277.39 210.77,280.24 210.86,276.4 210.95,273.84 211.04,270.32 211.13,269.47 211.22,267.42 211.32,265.87 211.41,267.16 211.5,263.31 211.59,259.45 211.68,257.86 211.78,258.04 211.87,262.76 211.96,267.9 212.05,268.71 212.14,267.26 212.23,269.07 212.33,270.59 212.42,271.67 212.51,273.12 212.6,272.96 212.69,274.55 212.78,275.89 212.88,277.46 212.97,280.3 213.06,278.01 213.15,277.65 213.24,274.61 213.33,271.92 213.43,272.1 213.52,273.84 213.61,273.58 213.7,270.69 213.79,269.77 213.88,270.83 213.97,270.59 214.07,270.73 214.16,273.1 214.25,273.8 214.34,272.49 214.43,271.92 214.53,270.83 214.62,271.09 214.71,271.08 214.8,272.69 214.89,273.93 214.98,272.61 215.08,273.92 215.17,275.29 215.26,275.2 215.35,275.28 215.44,273.36 215.53,271.29 215.63,271.78 215.72,269.26 215.81,264.2 215.9,261.81 215.99,256.91 216.08,254.68 216.18,254.47 216.27,256.54 216.36,258.63 216.45,260.3 216.54,261.68 216.63,259.04 216.73,260.18 216.82,258.8 216.91,257.61 217,259.4 217.09,260.81 217.18,261.28 217.28,266.24 217.37,266.36 217.46,265.77 217.55,263.77 217.64,263.44 217.73,261.57 217.83,262.26 217.92,260.8 218.01,261.32 218.1,258.79 218.19,256.7 218.28,258.39 218.38,259.45 218.47,261.14 218.56,265.43 218.65,266.6 218.74,265.73 218.83,266.6 218.93,264.94 219.02,266.25 219.11,267.6 219.2,267.27 219.29,267.38 219.38,269.31 219.48,271.13 219.57,270.58 219.66,270.29 219.75,265.57 219.84,263.09 219.93,261.38 220.03,260.41 220.12,260.2 220.21,257.48 220.3,256.37 220.39,254.13 220.48,252.39 220.58,251.52 220.67,252.03 220.76,254.44 220.85,254.36 220.94,254.99 221.03,256.56 221.13,257.94 221.22,259.91 221.31,259.48 221.4,258.87 221.49,261.63 221.58,264.46 221.68,268.5 221.77,269.61 221.86,269.86 221.95,268.16 222.04,266.44 222.13,265.39 222.23,264.87 222.32,264.04 222.41,262.27 222.5,260.24 222.59,256.06 222.68,256.6 222.78,257.63 222.87,261.88 222.96,264.52 223.05,265.72 223.14,268.77 223.23,268.24 223.33,266.33 223.42,265.19 223.51,264.56 223.6,267.62 223.69,268.58 223.78,271.15 223.88,271.33 223.97,272.28 224.06,272.01 224.15,272.13 224.24,269.11 224.33,268.47 224.43,267.9 224.52,265.59 224.61,263.97 224.7,261.22 224.79,255.74 224.88,255.32 224.98,256.77 225.07,258.2 225.16,258.37 225.25,261.33 225.34,261.95 225.43,263.18 225.53,264.75 225.62,263.8 225.71,264.53 225.8,265.03 225.89,266.69 225.98,269.76 226.08,273.21 226.17,276.01 226.26,274.19 226.35,269.95 226.44,265.79 226.53,263.83 226.62,261.34 226.72,259.41 226.81,257.1 226.9,252.81 226.99,248.86 227.08,246.3 227.18,250.29 227.27,255.34 227.36,258.99 227.45,260.61 227.54,263.91 227.63,264.19 227.73,263.74 227.82,263.77 227.91,263.79 228,265.64 228.09,265.99 228.18,269.61 228.28,269.45 228.37,270.54 228.46,268.16 228.55,268.63 228.64,266.38 228.73,265.03 228.83,265.34 228.92,265.97 229.01,263.02 229.1,260.38 229.19,256.29 229.28,255.28 229.38,255.68 229.47,256.86 229.56,257.49 229.65,257.81 229.74,257.06 229.83,257.67 229.93,259.42 230.02,256.72 230.11,256.4 230.2,256.71 230.29,259.04 230.38,260.77 230.48,263.79 230.57,263.85 230.66,263.23 230.75,259.98 230.84,256.6 230.93,255.19 231.03,253.94 231.12,251.22 231.21,250.75 231.3,249.06 231.39,246.68 231.48,246.95 231.58,249.38 231.67,250.03 231.76,250.98 231.85,254.1 231.94,256.3 232.03,255.37 232.12,253.78 232.22,252.91 232.31,252.22 232.4,250.65 232.49,251.59 232.58,251.45 232.68,251.55 232.77,253.5 232.86,251.96 232.95,250.32 233.04,249.69 233.13,249.84 233.23,248.86 233.32,248.13 233.41,245.33 233.5,244.64 233.59,242.28 233.68,239.43 233.78,240.84 233.87,244.91 233.96,248.47 234.05,252.54 234.14,254.93 234.23,254.34 234.33,254.19 234.42,252.5 234.51,252.79 234.6,253.79 234.69,258.7 234.78,261.26 234.88,261.21 234.97,261.54 235.06,260.41 235.15,256 235.24,252.31 235.33,250.33 235.43,249.99 235.52,248.87 235.61,245.79 235.7,243.55 235.79,239.36 235.88,237.24 235.98,237.17 236.07,239.88 236.16,244.24 236.25,244.3 236.34,245.24 236.43,246.6 236.53,246.34 236.62,246.85 236.71,245.61 236.8,248.11 236.89,250.8 236.98,253.13 237.08,253.04 237.17,252.77 237.26,253.23 237.35,253.42 237.44,251.86 237.53,252.24 237.62,250.74 237.72,249.55 237.81,247.51 237.9,244.64 237.99,239.06 238.08,238.68 238.18,241.94 238.27,244 238.36,245.61 238.45,248.06 238.54,248.03 238.63,245.28 238.73,246.48 238.82,246.78 238.91,246.23 239,249.73 239.09,251.22 239.18,252.48 239.28,255.04 239.37,254.83 239.46,252.88 239.55,251.06 239.64,248.18 239.73,246.36 239.83,247.92 239.92,248.42 240.01,248.27 240.1,247.1 240.19,245.7 240.28,246.67 240.38,247.52 240.47,251.91 240.56,252.53 240.65,253.28 240.74,251.93 240.83,251.65 240.93,252.38 241.02,254.25 241.11,253.38 241.2,254.1 241.29,254.97 241.38,256.3 241.48,257.22 241.57,258.46 241.66,255.3 241.75,253.23 241.84,251.19 241.93,249.18 242.03,247.38 242.12,245.07 242.21,246.17 242.3,242.07 242.39,241.54 242.48,241.27 242.58,242.21 242.67,243.68 242.76,247.8 242.85,251.7 242.94,251.23 243.03,251.17 243.12,252.69 243.22,253.22 243.31,255.84 243.4,255.94 243.49,258.16 243.58,259.12 243.68,264.55 243.77,264.81 243.86,260.82 243.95,258.09 244.04,255.51 244.13,256.56 244.23,255.42 244.32,254.75 244.41,254.19 244.5,253.96 244.59,251.45 244.68,251.71 244.78,253.53 244.87,255.64 244.96,258.09 245.05,259.55 245.14,259.05 245.23,260.9 245.33,259.29 245.42,260.96 245.51,262.3 245.6,262.57 245.69,262.24 245.78,263 245.88,264.74 245.97,266.29 246.06,266.36 246.15,266.76 246.24,265.2 246.33,265.01 246.43,262.67 246.52,263.03 246.61,261.62 246.7,258.31 246.79,256.85 246.88,256.47 246.98,254.34 247.07,257.7 247.16,258.95 247.25,262.26 247.34,266.33 247.43,265.97 247.53,266.23 247.62,266.05 247.71,266.65 247.8,267.9 247.89,270.19 247.98,269.9 248.08,272.96 248.17,272.25 248.26,272.28 248.35,272.91 248.44,272.97 248.53,271.26 248.62,270.11 248.72,269.16 248.81,268.21 248.9,268.08 248.99,264.7 249.08,264.65 249.18,266.39 249.27,269.07 249.36,271.5 249.45,274.51 249.54,275.57 249.63,276.79 249.73,277.51 249.82,279.75 249.91,277.2 250,279.93 250.09,281.56 250.18,284.65 250.28,287.11 250.37,286.42 250.46,284.37 250.55,279.87 250.64,277.16 250.73,273.32 250.83,274.26 250.92,273.71 251.01,271.57 251.1,267.56 251.19,263.28 251.28,260.53 251.38,261.63 251.47,265.39 251.56,268.69 251.65,269.1 251.74,269.89 251.83,269.33 251.93,269.97 252.02,272.69 252.11,273.64 252.2,273.84 252.29,272.78 252.38,272.63 252.48,272.31 252.57,274.29 252.66,272.96 252.75,271.86 252.84,269.99 252.93,269.58 253.03,271.17 253.12,269.77 253.21,267.88 253.3,264.23 253.39,262.53 253.48,260.12 253.58,260.43 253.67,262.21 253.76,263.82 253.85,266.63 253.94,271.05 254.03,270.33 254.12,271.95 254.22,272.6 254.31,271.51 254.4,272.06 254.49,273.14 254.58,274.34 254.68,279.02 254.77,277.7 254.86,277.71 254.95,276.6 255.04,274.43 255.13,273.91 255.23,274.83 255.32,274.8 255.41,274.65 255.5,274.22 255.59,270.2 255.68,271.65 255.78,275.51 255.87,278.56 255.96,281.49 256.05,280.67 256.14,281.05 256.23,280.29 256.33,279.77 256.42,281.22 256.51,280.37 256.6,280.84 256.69,279.44 256.78,280.91 256.88,282.78 256.97,282.83 257.06,281.57 257.15,282.83 257.24,280.16 257.33,278.3 257.43,277.15 257.52,278.49 257.61,280.32 257.7,279 257.79,276.21 257.88,274.97 257.98,277.5 258.07,278.63 258.16,282.66 258.25,285.76 258.34,286.39 258.43,287.43 258.52,288.45 258.62,290.43 258.71,289.04 258.8,291.36 258.89,292.3 258.98,293.79 259.08,296.59 259.17,297.48 259.26,295.01 259.35,290.32 259.44,286.69 259.53,287.15 259.62,288.96 259.72,289.13 259.81,289.4 259.9,286.68 259.99,284.42 260.08,283.8 260.18,283.34 260.27,284.21 260.36,286.37 260.45,287.17 260.54,286.34 260.63,287.07 260.73,286.86 260.82,288.28 260.91,288.34 261,289.14 261.09,291.41 261.18,294.73 261.27,297.65 261.37,298.86 261.46,298.25 261.55,295.31 261.64,293.32 261.73,288.9 261.83,287.22 261.92,285.54 262.01,283.65 262.1,279.6 262.19,275.27 262.28,274.61 262.38,276.36 262.47,278.4 262.56,283.43 262.65,286.58 262.74,286.51 262.83,287.68 262.93,286.64 263.02,287.97 263.11,287.54 263.2,286.97 263.29,287.48 263.38,288.24 263.48,290.4 263.57,291.46 263.66,290.6 263.75,287.9 263.84,281.39 263.93,280.54 264.02,277.66 264.12,277.5 264.21,277.74 264.3,275.91 264.39,273.05 264.48,271.84 264.58,272.89 264.67,274.79 264.76,276.5 264.85,276.84 264.94,279.09 265.03,279.35 265.12,280.71 265.22,280.46 265.31,280.63 265.4,281.03 265.49,282.65 265.58,285.36 265.68,287.4 265.77,287.33 265.86,285.6 265.95,286.06 266.04,284.1 266.13,282.75 266.23,284.08 266.32,284.69 266.41,283.71 266.5,280.42 266.59,280.47 266.68,279.53 266.77,281.34 266.87,283.8 266.96,284.52 267.05,284.28 267.14,285.37 267.23,285.97 267.33,285.6 267.42,284.03 267.51,282.17 267.6,282.4 267.69,281.64 267.78,284.61 267.88,287.96 267.97,292.38 268.06,292.61 268.15,289.94 268.24,287.05 268.33,281.56 268.43,280.26 268.52,279.22 268.61,278.59 268.7,276.1 268.79,273.35 268.88,272.08 268.98,274.56 269.07,279.99 269.16,281.94 269.25,283.33 269.34,282.39 269.43,284.75 269.52,286.42 269.62,287.32 269.71,285.69 269.8,286.11 269.89,286.2 269.98,287.01 270.08,287.54 270.17,288.53 270.26,287.6 270.35,287.84 270.44,287.32 270.53,286.41 270.62,285.91 270.72,284.76 270.81,284.52 270.9,281.99 270.99,280.05 271.08,278.28 271.18,277.17 271.27,280.43 271.36,281.02 271.45,282.97 271.54,283.8 271.63,281.58 271.73,280.22 271.82,279.4 271.91,278.21 272,276.9 272.09,278.33 272.18,278.86 272.27,280.25 272.37,280.02 272.46,279.83 272.55,277.71 272.64,276.59 272.73,276.59 272.83,276.03 272.92,274.41 273.01,270.88 273.1,267.64 273.19,264.37 273.28,262.31 273.38,262.82 273.47,267.02 273.56,273.43 273.65,274.79 273.74,275.81 273.83,276.3 273.93,272.85 274.02,272.9 274.11,271.87 274.2,273.8 274.29,273.82 274.38,273.54 274.48,274.07 274.57,274.6 274.66,273.43 274.75,272.41 274.84,269.78 274.93,268.96 275.02,269.59 275.12,271.53 275.21,271.15 275.3,269.42 275.39,268.7 275.48,268.81 275.58,271.47 275.67,274.44 275.76,275.74 275.85,276.77 275.94,277.05 276.03,277.15 276.12,276.99 276.22,275.56 276.31,272.48 276.4,271.85 276.49,269.96 276.58,271.48 276.68,273.02 276.77,271.49 276.86,271.53 276.95,270.81 277.04,269.18 277.13,270.17 277.23,271.87 277.32,269.72 277.41,270.29 277.5,269.73 277.59,269.06 277.68,269.52 277.77,268.64 277.87,268.43 277.96,267.91 278.05,267.17 278.14,267.02 278.23,265.02 278.33,263.63 278.42,264.54 278.51,264.6 278.6,266.33 278.69,266.07 278.78,268.68 278.88,271.84 278.97,273.74 279.06,271.63 279.15,269.45 279.24,266.19 279.33,264.39 279.43,263.7 279.52,264.23 279.61,262.98 279.7,263.29 279.79,262.61 279.88,262.27 279.98,262.95 280.07,264.97 280.16,267.52 280.25,269.43 280.34,270.13 280.43,271.25 280.52,271.34 280.62,272.84 280.71,272.66 280.8,270.22 280.89,272.49 280.98,273.58 281.08,273.11 281.17,273.29 281.26,271.6 281.35,273.12 281.44,272.58 281.53,269.81 281.62,270.03 281.72,268.71 281.81,269.44 281.9,265.18 281.99,259.27 282.08,258.07 282.18,259 282.27,261.54 282.36,261.69 282.45,264.05 282.54,266.99 282.63,264.82 282.73,266.48 282.82,265.86 282.91,268.98 283,270.29 283.09,271.36 283.18,274.99 283.27,278.01 283.37,278.3 283.46,278.19 283.55,275.2 283.64,270.77 283.73,272.13 283.83,271.04 283.92,269.65 284.01,268.88 284.1,264.85 284.19,261.01 284.28,259.53 284.38,260.01 284.47,262.5 284.56,266.16 284.65,266.89 284.74,268.16 284.83,269.2 284.93,267.96 285.02,268.42 285.11,267.36 285.2,269.31 285.29,270.78 285.38,272.18 285.48,271.95 285.57,272.97 285.66,271.7 285.75,271.59 285.84,270.46 285.93,268.94 286.02,269.93 286.12,270.28 286.21,267.92 286.3,266.55 286.39,263.08 286.48,261.4 286.58,263.21 286.67,265.71 286.76,268.43 286.85,270.27 286.94,273.19 287.03,275.46 287.12,275.27 287.22,277.43 287.31,277.43 287.4,278.22 287.49,279.85 287.58,281.01 287.68,284.92 287.77,285.5 287.86,283.52 287.95,284.31 288.04,282.92 288.13,282 288.23,277.84 288.32,278.58 288.41,278.25 288.5,276.89 288.59,275.54 288.68,276.5 288.77,277.5 288.87,281.2 288.96,282.57 289.05,283.48 289.14,285.37 289.23,285.97 289.33,284.24 289.42,284.69 289.51,284.41 289.6,284.3 289.69,286.59 289.78,289.01 289.88,290.18 289.97,290.26 290.06,291.18 290.15,286.07 290.24,283.45 290.33,282.5 290.43,282.43 290.52,280.03 290.61,278.04 290.7,275.56 290.79,273.73 290.88,271.66 290.98,271.59 291.07,275.95 291.16,280.21 291.25,282.37 291.34,282.28 291.43,283.03 291.52,283.24 291.62,284.36 291.71,282.78 291.8,283.33 291.89,283.8 291.98,283.47 292.08,284.94 292.17,285.56 292.26,284.65 292.35,284.18 292.44,281.46 292.53,280.93 292.62,281.28 292.72,281.24 292.81,281.57 292.9,278.15 292.99,274.26 293.08,273.82 293.18,275.53 293.27,280.48 293.36,283.32 293.45,283.42 293.54,285.02 293.63,284.13 293.73,282.38 293.82,285.85 293.91,286.33 294,287.62 294.09,288.96 294.18,292.3 294.27,293.71 294.37,295.66 294.46,293.73 294.55,290.77 294.64,291.52 294.73,292.7 294.83,292.85 294.92,292.37 295.01,290.99 295.1,287.5 295.19,286.72 295.28,286.25 295.38,287.98 295.47,291.06 295.56,294.79 295.65,296.75 295.74,298.13 295.83,296.63 295.93,297.19 296.02,299.82 296.11,298.94 296.2,299.52 296.29,302.18 296.38,306.08 296.48,309.73 296.57,308.82 296.66,307.96 296.75,303.26 296.84,299.26 296.93,298.21 297.02,296.94 297.12,297.09 297.21,299.39 297.3,297.46 297.39,295.24 297.48,292.39 297.58,292.52 297.67,293.77 297.76,295.55 297.85,295.53 297.94,295.14 298.03,294.86 298.12,293.46 298.22,291.53 298.31,289.71 298.4,290.66 298.49,291.45 298.58,294 298.68,296.62 298.77,296.64 298.86,296.71 298.95,293.3 299.04,294.76 299.13,295.27 299.23,294.28 299.32,291.99 299.41,291.1 299.5,286.5 299.59,283.23 299.68,283.12 299.77,284.05 299.87,285.45 299.96,288.56 300.05,288.25 300.14,288.98 300.23,288.35 300.33,287.18 300.42,287.71 300.51,286.37 300.6,289.14 300.69,288.98 300.78,292.6 300.88,292.3 300.97,293.5 301.06,291.24 301.15,288.15 301.24,287.1 301.33,287.16 301.43,285.01 301.52,285.84 301.61,283.38 301.7,281.2 301.79,279.19 301.88,278.81 301.98,277.57 302.07,282.11 302.16,285.09 302.25,285.83 302.34,285.02 302.43,283.03 302.52,281.41 302.62,282.25 302.71,281.93 302.8,281.65 302.89,283 302.98,288.32 303.08,291.4 303.17,292.28 303.26,292.62 303.35,289.91 303.44,286.86 303.53,284.26 303.62,281.41 303.72,279.13 303.81,276.91 303.9,273.83 303.99,271.28 304.08,270.76 304.18,272.68 304.27,276.37 304.36,278.27 304.45,277.49 304.54,277.8 304.63,277.04 304.73,276.56 304.82,276.53 304.91,275.28 305,274.66 305.09,275.67 305.18,277.43 305.27,278.27 305.37,279.88 305.46,279.41 305.55,277.22 305.64,276.46 305.73,278.47 305.83,277.38 305.92,278.3 306.01,278.36 306.1,277.21 306.19,272.81 306.28,273.94 306.38,275.61 306.47,278.68 306.56,281.56 306.65,284.2 306.74,284.99 306.83,284.97 306.93,286.65 307.02,285.71 307.11,284.36 307.2,286.33 307.29,288.89 307.38,293.1 307.48,294.71 307.57,297.41 307.66,296.57 307.75,295.65 307.84,291 307.93,289.42 308.03,288.1 308.12,285.28 308.21,283.11 308.3,282.55 308.39,279.81 308.48,277.91 308.57,279.91 308.67,283.16 308.76,286.23 308.85,286.21 308.94,286.48 309.03,287.8 309.13,286.85 309.22,285.78 309.31,286.75 309.4,289.1 309.49,288.34 309.58,286.4 309.68,286.14 309.77,285.59 309.86,284.82 309.95,284.13 310.04,282.53 310.13,280.8 310.23,280.63 310.32,279.09 310.41,278.47 310.5,276.67 310.59,279.03 310.68,279.55 310.78,278.93 310.87,278.78 310.96,279.31 311.05,277.89 311.14,277.34 311.23,276.62 311.32,277.91 311.42,277.49 311.51,276.6 311.6,275.75 311.69,275.72 311.78,278.03 311.88,280.29 311.97,282.99 312.06,281.36 312.15,280.6 312.24,278.9 312.33,277.68 312.43,274.51 312.52,272.17 312.61,271.54 312.7,270.49 312.79,267.65 312.88,267.25 312.98,268.16 313.07,270.91 313.16,273.09 313.25,276.14 313.34,277.3 313.43,277.18 313.53,276.8 313.62,277.52 313.71,277.93 313.8,277.33 313.89,280.4 313.98,282.15 314.07,283.67 314.17,286.19 314.26,286.67 314.35,284.83 314.44,283.9 314.53,281.49 314.63,280.08 314.72,276.53 314.81,276.83 314.9,272.22 314.99,270.82 315.08,268.74 315.18,268.58 315.27,270.71 315.36,273.31 315.45,275.44 315.54,278.27 315.63,278.86 315.73,279.96 315.82,279.11 315.91,279.94 316,280.51 316.09,280.72 316.18,282.03 316.28,283.49 316.37,284.37 316.46,284.05 316.55,281.64 316.64,279.04 316.73,278.96 316.82,276.13 316.92,274.46 317.01,274.5 317.1,267.78 317.19,263.53 317.28,262.95 317.38,262.4 317.47,269.22 317.56,269.13 317.65,272.95 317.74,275.74 317.83,277.09 317.93,276.78 318.02,277.18 318.11,275.95 318.2,277.94 318.29,278.26 318.38,280.99 318.48,285.58 318.57,285.6 318.66,283.68 318.75,280.62 318.84,275.84 318.93,275.52 319.03,275.01 319.12,272.2 319.21,270.5 319.3,266.74 319.39,262.97 319.48,261.8 319.57,262.31 319.67,266.62 319.76,268.59 319.85,271.57 319.94,272.23 320.03,273.56 320.13,272.92 320.22,272.29 320.31,270.84 320.4,272.61 320.49,275.62 320.58,281.34 320.68,286.13 320.77,287.77 320.86,285.92 320.95,283.04 321.04,279.84 321.13,279.75 321.23,279.9 321.32,277.94 321.41,275.68 321.5,275.31 321.59,273.39 321.68,271.95 321.78,274.18 321.87,275.55 321.96,276.95 322.05,277.32 322.14,275.12 322.23,276.27 322.32,274.63 322.42,273.83 322.51,272.8 322.6,274.04 322.69,274.53 322.78,275.6 322.88,274.6 322.97,275.01 323.06,272.59 323.15,271.82 323.24,271.19 323.33,270.49 323.43,272.63 323.52,272.45 323.61,271.31 323.7,268.34 323.79,264.72 323.88,264.39 323.98,267.1 324.07,268.53 324.16,272.81 324.25,275.11 324.34,276.86 324.43,277.44 324.53,275.68 324.62,274 324.71,276.19 324.8,277.22 324.89,276.78 324.98,279.74 325.07,281.95 325.17,280.72 325.26,276.52 325.35,271.71 325.44,269.51 325.53,267.95 325.63,266.92 325.72,266.61 325.81,265.96 325.9,260.86 325.99,257.96 326.08,255.85 326.18,255.61 326.27,257.76 326.36,260.29 326.45,261.62 326.54,260.59 326.63,260.41 326.73,263.3 326.82,262.15 326.91,260.22 327,261.17 327.09,262.79 327.18,264.62 327.28,264.48 327.37,266.43 327.46,265.06 327.55,262.65 327.64,261.02 327.73,260.45 327.82,261.13 327.92,261.36 328.01,259.77 328.1,258.22 328.19,255.34 328.28,255.21 328.38,254.87 328.47,256.08 328.56,260.14 328.65,260.23 328.74,260.76 328.83,261.05 328.93,260.7 329.02,260.36 329.11,262.36 329.2,259.8 329.29,262.08 329.38,266.76 329.48,268.56 329.57,269.39 329.66,269.7 329.75,270.46 329.84,267.41 329.93,266.59 330.03,265.8 330.12,265.65 330.21,263.91 330.3,261.44 330.39,257.35 330.48,255.82 330.57,256.5 330.67,259.16 330.76,262.28 330.85,264.04 330.94,263.35 331.03,265.64 331.13,265.52 331.22,263.79 331.31,265.27 331.4,264.65 331.49,265.87 331.58,266.78 331.68,268.1 331.77,268.76 331.86,267.61 331.95,266.73 332.04,268.45 332.13,265 332.23,264.75 332.32,264.66 332.41,261.76 332.5,257.42 332.59,257.43 332.68,255.7 332.78,259.63 332.87,263.08 332.96,265.72 333.05,267.77 333.14,269.05 333.23,270.55 333.32,270.93 333.42,270.92 333.51,270.93 333.6,273.28 333.69,275.54 333.78,276.53 333.88,278.21 333.97,279.6 334.06,277.31 334.15,273.84 334.24,269.82 334.33,267.73 334.43,267.25 334.52,267.34 334.61,265.03 334.7,263.94 334.79,259.78 334.88,261.87 334.98,264.39 335.07,268.32 335.16,270.75 335.25,268.82 335.34,269.17 335.43,269.34 335.53,271.53 335.62,269.42 335.71,271.55 335.8,271.8 335.89,274.07 335.98,273.35 336.07,276.35 336.17,277.04 336.26,276.33 336.35,273.15 336.44,268.58 336.53,267.85 336.63,267.65 336.72,267.39 336.81,266.98 336.9,265.78 336.99,262.94 337.08,259.75 337.18,258.77 337.27,262.68 337.36,265.59 337.45,266.78 337.54,266.5 337.63,266.45 337.73,266.27 337.82,265.59 337.91,264.45 338,267.95 338.09,269.69 338.18,271.56 338.28,272.79 338.37,273.06 338.46,272.4 338.55,270 338.64,266.51 338.73,264.57 338.82,263.08 338.92,260.71 339.01,260.81 339.1,258.8 339.19,259.28 339.28,256.89 339.38,257.48 339.47,260.72 339.56,262.35 339.65,261.63 339.74,260.74 339.83,260.87 339.93,261.17 340.02,260.89 340.11,262 340.2,264.04 340.29,266.01 340.38,268.87 340.48,271.6 340.57,273.57 340.66,273.08 340.75,269.64 340.84,266.9 340.93,264.38 341.03,261.43 341.12,259.1 341.21,258.2 341.3,255.69 341.39,254.42 341.48,252.92 341.57,255.26 341.67,259.9 341.76,263.87 341.85,264.56 341.94,264.77 342.03,264.91 342.13,263.47 342.22,263.89 342.31,264.99 342.4,264.77 342.49,268.23 342.58,269.54 342.68,271.14 342.77,271.55 342.86,269.52 342.95,267.78 343.04,265.64 343.13,266.37 343.23,266.27 343.32,266.02 343.41,264.06 343.5,259.66 343.59,256.84 343.68,254.47 343.78,256.69 343.87,259.06 343.96,263.41 344.05,265.53 344.14,266.91 344.23,267.1 344.32,267.14 344.42,267.71 344.51,268.61 344.6,267.83 344.69,268.98 344.78,273.36 344.88,274.28 344.97,274.21 345.06,272.36 345.15,268.81 345.24,268.76 345.33,267.76 345.43,267.35 345.52,268.59 345.61,269.56 345.7,264.8 345.79,262.35 345.88,261.21 345.98,262.84 346.07,266.46 346.16,269.22 346.25,272.72 346.34,273.81 346.43,274 346.53,275.16 346.62,275.81 346.71,275.88 346.8,276.05 346.89,278.25 346.98,279.15 347.07,279.35 347.17,278.13 347.26,276.84 347.35,274.23 347.44,273.18 347.53,272.63 347.63,269.27 347.72,268.31 347.81,267.21 347.9,264.33 347.99,259.86 348.08,259.92 348.18,260.11 348.27,261.32 348.36,262.6 348.45,264.14 348.54,265.96 348.63,267.51 348.73,267.64 348.82,265.94 348.91,264.96 349,264.43 349.09,265.42 349.18,265.31 349.28,267.82 349.37,269.72 349.46,268.51 349.55,266.8 349.64,263.43 349.73,260.31 349.82,258.87 349.92,259.53 350.01,258.91 350.1,255 350.19,252.99 350.28,250.99 350.38,254.55 350.47,258.76 350.56,261.51 350.65,264.48 350.74,264.24 350.83,263.25 350.93,261.47 351.02,261.89 351.11,261.88 351.2,263.09 351.29,264.87 351.38,270.57 351.48,274.08 351.57,275 351.66,274.83 351.75,272.58 351.84,269.15 351.93,264.6 352.03,262.7 352.12,262.41 352.21,260.26 352.3,258.62 352.39,252.95 352.48,252.08 352.57,253 352.67,258.59 352.76,262.09 352.85,265.51 352.94,265.48 353.03,263.9 353.13,262.56 353.22,261.86 353.31,260.64 353.4,263.04 353.49,266.16 353.58,268.81 353.68,269.94 353.77,270.93 353.86,269.05 353.95,268.55 354.04,266.71 354.13,265.98 354.23,264.74 354.32,261.35 354.41,258.69 354.5,254.35 354.59,251.73 354.68,250.54 354.78,251.07 354.87,253.95 354.96,259.1 355.05,259.74 355.14,259.4 355.23,259.45 355.32,258.74 355.42,258.36 355.51,259.2 355.6,262.48 355.69,261.96 355.78,264.93 355.88,268.19 355.97,269.6 356.06,268.14 356.15,264.79 356.24,263.34 356.33,261.11 356.43,260.13 356.52,259.14 356.61,257.04 356.7,252.99 356.79,250.14 356.88,248.3 356.98,250.42 357.07,254.59 357.16,257.29 357.25,258.62 357.34,258.31 357.43,258.95 357.53,258.19 357.62,256.98 357.71,257.44 357.8,259.52 357.89,259.71 357.98,265.96 358.07,270.3 358.17,272.14 358.26,271.79 358.35,267.8 358.44,263.21 358.53,263.74 358.63,261.2 358.72,259.96 358.81,258.85 358.9,253.81 358.99,249.81 359.08,248.59 359.18,253.39 359.27,256.09 359.36,259.65 359.45,262.61 359.54,263.54 359.63,262.2 359.73,262.75 359.82,262.85 359.91,263.37 360,265.96 360.09,269.34 360.18,273.47 360.28,277.73 360.37,277.95 360.46,275.88 360.55,272.04 360.64,267.66 360.73,265.42 360.82,263.11 360.92,263.8 361.01,264.05 361.1,259.43 361.19,255.57 361.28,253.22 361.38,256.5 361.47,260.99 361.56,264.74 361.65,266.5 361.74,267.36 361.83,266.13 361.93,266.87 362.02,265.75 362.11,266.23 362.2,267.26 362.29,270.38 362.38,273.46 362.48,278.1 362.57,278.22 362.66,277.11 362.75,272.91 362.84,269.49 362.93,267.31 363.03,267.36 363.12,264.06 363.21,263.62 363.3,260.48 363.39,260.77 363.48,257.6 363.57,256.78 363.67,255.79 363.76,259.01 363.85,258 363.94,258.46 364.03,257.92 364.13,255.75 364.22,255.48 364.31,256.5 364.4,257.34 364.49,260.39 364.58,262.95 364.68,266.19 364.77,267.21 364.86,266.38 364.95,265.76 365.04,263.31 365.13,261.8 365.23,260.23 365.32,258.82 365.41,260.04 365.5,257.51 365.59,255.22 365.68,254.62 365.78,254.65 365.87,258.34 365.96,256.4 366.05,257.6 366.14,258.86 366.23,257.57 366.32,256.9 366.42,257.59 366.51,259.79 366.6,259.23 366.69,258.32 366.78,261.4 366.88,265.25 366.97,265.68 367.06,262.13 367.15,262.32 367.24,260.46 367.33,260.95 367.43,260.29 367.52,258.93 367.61,256.37 367.7,254.87 367.79,253.02 367.88,248.63 367.98,249.15 368.07,255.21 368.16,258.23 368.25,258.57 368.34,259.49 368.43,259.68 368.53,259.71 368.62,259.21 368.71,258.94 368.8,259.66 368.89,262.34 368.98,265 369.07,268.59 369.17,270.3 369.26,270.49 369.35,267.33 369.44,263.77 369.53,262.46 369.63,262.05 369.72,262.68 369.81,261.81 369.9,261.55 369.99,260.48 370.08,259.12 370.18,259.72 370.27,263.5 370.36,266.61 370.45,267.95 370.54,266.71 370.63,264.64 370.73,265.28 370.82,266.41 370.91,267.52 371,266.73 371.09,269.58 371.18,271.39 371.28,274.53 371.37,276.27 371.46,274.14 371.55,270.9 371.64,265.95 371.73,263.49 371.82,260.55 371.92,260.21 372.01,258.02 372.1,255.23 372.19,251.39 372.28,248.77 372.38,251.4 372.47,255.57 372.56,260.73 372.65,263.79 372.74,263.73 372.83,264.23 372.93,264.58 373.02,264.41 373.11,265.76 373.2,269.24 373.29,270.92 373.38,274.05 373.48,275.03 373.57,276.73 373.66,274.74 373.75,268.48 373.84,265.65 373.93,264.6 374.03,262.89 374.12,261.77 374.21,259.11 374.3,257.58 374.39,252.93 374.48,251.52 374.57,255.67 374.67,259.01 374.76,262.68 374.85,264.38 374.94,263.81 375.03,264.28 375.13,265.2 375.22,264.24 375.31,265.04 375.4,267.54 375.49,270.24 375.58,270.25 375.68,271.19 375.77,270.34 375.86,271.32 375.95,270.64 376.04,270.14 376.13,268.26 376.23,266.45 376.32,265.89 376.41,264.07 376.5,259.41 376.59,255.77 376.68,255.07 376.78,257.56 376.87,260.76 376.96,262.36 377.05,264.79 377.14,266.39 377.23,266.76 377.32,266.72 377.42,266.31 377.51,267.7 377.6,269.51 377.69,272.73 377.78,276.37 377.88,280.8 377.97,283.61 378.06,280.7 378.15,274.86 378.24,270.54 378.33,269.94 378.43,269.43 378.52,270.87 378.61,269.65 378.7,267.3 378.79,263.41 378.88,262.02 378.98,265.42 379.07,268.73 379.16,272.37 379.25,274.97 379.34,275.82 379.43,275.99 379.53,276.45 379.62,277.54 379.71,278.33 379.8,279.66 379.89,280.94 379.98,281.68 380.07,283.21 380.17,282.95 380.26,283.72 380.35,279.57 380.44,278.01 380.53,280.36 380.63,279.48 380.72,277.24 380.81,275.26 380.9,273.44 380.99,269.48 381.08,268.68 381.18,270.7 381.27,274.27 381.36,282.08 381.45,284.35 381.54,284.56 381.63,284.25 381.73,284.86 381.82,285.43 381.91,286.44 382,287.88 382.09,288.36 382.18,293.02 382.28,296.86 382.37,298.44 382.46,294.79 382.55,290.02 382.64,285.35 382.73,283.14 382.83,280.25 382.92,279.25 383.01,276.97 383.1,271.34 383.19,266.09 383.28,263.22 383.38,266.83 383.47,268.68 383.56,273.09 383.65,274.01 383.74,275 383.83,276.86 383.93,276.55 384.02,277.17 384.11,276.5 384.2,280.79 384.29,284.81 384.38,290.84 384.48,294.01 384.57,294.96 384.66,294.61 384.75,290 384.84,285.59 384.93,283.66 385.03,280.96 385.12,280.87 385.21,278.49 385.3,274.96 385.39,269.67 385.48,268.48 385.58,269.86 385.67,275.95 385.76,281.93 385.85,285.79 385.94,287.58 386.03,288.75 386.13,285.45 386.22,286.7 386.31,286.51 386.4,287.3 386.49,288 386.58,287.92 386.68,289.11 386.77,290.94 386.86,292.25 386.95,290.03 387.04,287.57 387.13,288.73 387.23,287.26 387.32,289.29 387.41,287.45 387.5,283.28 387.59,281.34 387.68,281.93 387.78,281.15 387.87,285.92 387.96,288.1 388.05,291.38 388.14,291.24 388.23,289.11 388.33,289.54 388.42,290.46 388.51,292.83 388.6,296.02 388.69,298.97 388.78,302.46 388.88,305.91 388.97,307.16 389.06,303.73 389.15,298.55 389.24,290.78 389.33,288.26 389.43,286.79 389.52,288.78 389.61,287.49 389.7,283.33 389.79,280.31 389.88,276.9 389.98,277.4 390.07,278.24 390.16,283.13 390.25,285.54 390.34,284.55 390.43,284.49 390.53,285.55 390.62,285.94 390.71,286.15 390.8,285.88 390.89,286.82 390.98,290.12 391.08,294.68 391.17,294.99 391.26,291.71 391.35,289.33 391.44,284.49 391.53,283.6 391.63,282.62 391.72,282.43 391.81,282.31 391.9,279.41 391.99,276.37 392.08,273.18 392.18,273.56 392.27,277.69 392.36,282.69 392.45,286.06 392.54,289.35 392.63,289.42 392.73,289.16 392.82,289.88 392.91,289.32 393,289.72 393.09,289.74 393.18,293.74 393.28,295.31 393.37,297.02 393.46,293.17 393.55,290.67 393.64,285.66 393.73,284.38 393.83,280.99 393.92,279.17 394.01,278.65 394.1,274.46 394.19,271.26 394.28,268.99 394.38,267.04 394.47,270.15 394.56,273.23 394.65,273.22 394.74,274.42 394.83,273.37 394.93,271.94 395.02,271.78 395.11,270.77 395.2,274.18 395.29,273.1 395.38,275.81 395.48,278.94 395.57,277.1 395.66,273.83 395.75,272.4 395.84,269.75 395.93,268.97 396.03,269.62 396.12,268.08 396.21,264.64 396.3,257.82 396.39,254.61 396.48,251.88 396.58,253.84 396.67,257.62 396.76,259.1 396.85,263.23 396.94,265.33 397.03,266.5 397.12,264.89 397.22,264.28 397.31,263.53 397.4,263.7 397.49,263.57 397.58,266.37 397.68,269.02 397.77,270.51 397.86,268.75 397.95,267.97 398.04,265.88 398.13,260.9 398.23,259.22 398.32,257.87 398.41,256.31 398.5,251.19 398.59,245.83 398.68,242.73 398.78,245.79 398.87,250.2 398.96,254.09 399.05,255.89 399.14,257.71 399.23,257.31 399.33,255.21 399.42,256.05 399.51,255.17 399.6,256.27 399.69,257.87 399.78,261.27 399.88,264.52 399.97,264.56 400.06,263.38 400.15,259.68 400.24,259.92 400.33,259.23 400.43,260.14 400.52,258.36 400.61,252.96 400.7,250.37 400.79,245.59 400.88,243.47 400.98,245.62 401.07,251.16 401.16,256.24 401.25,256.76 401.34,259.18 401.43,258.72 401.53,258.13 401.62,260.29 401.71,261.34 401.8,261.63 401.89,260.68 401.98,263.47 402.08,266.91 402.17,267.96 402.26,265.01 402.35,261.13 402.44,256.85 402.53,255.55 402.62,255.78 402.72,256.23 402.81,253.62 402.9,251.19 402.99,248.99 403.08,247.01 403.18,248.04 403.27,253.57 403.36,256.38 403.45,258.92 403.54,258.83 403.63,258.9 403.73,256.61 403.82,256.49 403.91,257.91 404,261.54 404.09,264.84 404.18,268.88 404.28,272.31 404.37,272.87 404.46,270.75 404.55,267.55 404.64,262.84 404.73,261.78 404.83,259.27 404.92,255.69 405.01,251.97 405.1,245.9 405.19,240.01 405.28,239.66 405.38,241.31 405.47,245.83 405.56,251.24 405.65,255.12 405.74,255.35 405.83,257.26 405.93,257.68 406.02,257.56 406.11,257.99 406.2,257.25 406.29,258.39 406.38,261.97 406.48,266.73 406.57,267.98 406.66,265.95 406.75,263.07 406.84,260.96 406.93,259.5 407.03,259.7 407.12,257.56 407.21,254.14 407.3,249.66 407.39,244.09 407.48,241.05 407.58,245.24 407.67,249.81 407.76,253.1 407.85,256.34 407.94,259.62 408.03,259.83 408.12,261.24 408.22,260.44 408.31,259.57 408.4,259.67 408.49,261.49 408.58,267.36 408.68,269.61 408.77,273.27 408.86,270 408.95,265.57 409.04,262.75 409.13,261.13 409.23,260.17 409.32,256.9 409.41,255.47 409.5,251.13 409.59,251.21 409.68,249.35 409.78,250.73 409.87,252.12 409.96,254.22 410.05,254.14 410.14,255.99 410.23,255.71 410.33,256.33 410.42,255.32 410.51,254.57 410.6,256.87 410.69,256.86 410.78,256.93 410.88,260.06 410.97,259.83 411.06,258.34 411.15,257.23 411.24,254.03 411.33,253.91 411.43,252.35 411.52,253.2 411.61,252.37 411.7,247.42 411.79,242.53 411.88,239.5 411.98,242.03 412.07,248.38 412.16,251.07 412.25,255.02 412.34,254.54 412.43,253.95 412.53,251.99 412.62,254.98 412.71,255.25 412.8,256.5 412.89,257.17 412.98,261 413.08,260.93 413.17,262.29 413.26,264.25 413.35,261.47 413.44,259.37 413.53,258.98 413.62,257.25 413.72,256.29 413.81,255.15 413.9,251.25 413.99,247.27 414.08,244.9 414.18,247.46 414.27,252.22 414.36,258.45 414.45,261.94 414.54,262.67 414.63,259.91 414.73,261.04 414.82,262.15 414.91,261.09 415,259.98 415.09,261.08 415.18,266.45 415.28,269.52 415.37,271.08 415.46,269.77 415.55,267.39 415.64,263.63 415.73,261.3 415.83,259.47 415.92,260.33 416.01,259.01 416.1,254.35 416.19,247.73 416.28,244.63 416.38,247.64 416.47,251.67 416.56,257.48 416.65,260.68 416.74,262.18 416.83,263.38 416.93,264.1 417.02,263.02 417.11,262.61 417.2,267.14 417.29,268.34 417.38,272.51 417.48,278.98 417.57,281.02 417.66,277.7 417.75,270.93 417.84,266.88 417.93,265.39 418.03,265.91 418.12,265.2 418.21,265.43 418.3,262.36 418.39,260.77 418.48,259.07 418.58,260.06 418.67,262.77 418.76,265.72 418.85,265.31 418.94,267.24 419.03,266.62 419.12,265.25 419.22,264.99 419.31,263.1 419.4,263.73 419.49,265.19 419.58,266.77 419.68,269.42 419.77,269.86 419.86,268.98 419.95,265.18 420.04,263.45 420.13,261.28 420.23,260.03 420.32,258.76 420.41,256.32 420.5,249.63 420.59,242.79 420.68,240.5 420.78,243.66 420.87,249.4 420.96,255.48 421.05,260.14 421.14,262.07 421.23,262.53 421.33,261.45 421.42,260.44 421.51,260.08 421.6,261.52 421.69,263.58 421.78,266.41 421.88,269.23 421.97,271.5 422.06,270.74 422.15,268.54 422.24,266.53 422.33,264.43 422.43,262.35 422.52,261.87 422.61,259.71 422.7,254.76 422.79,249.22 422.88,249.97 422.98,251.37 423.07,256.35 423.16,261.64 423.25,263.12 423.34,264.57 423.43,267.34 423.53,268.67 423.62,269.52 423.71,270.28 423.8,271.1 423.89,273.55 423.98,275.38 424.08,277.02 424.17,278.14 424.26,278.3 424.35,276.49 424.44,275.24 424.53,271.36 424.62,272.25 424.72,274.5 424.81,274.64 424.9,271.66 424.99,267.87 425.08,267 425.18,266.82 425.27,270.32 425.36,272.07 425.45,274.73 425.54,277.01 425.63,274.51 425.73,274.94 425.82,274.09 425.91,272.36 426,273.26 426.09,275.98 426.18,282.28 426.28,285.6 426.37,289.42 426.46,289.86 426.55,285.55 426.64,281.47 426.73,278.6 426.83,275.74 426.92,275.25 427.01,273.46 427.1,270.58 427.19,269.74 427.28,268.74 427.38,270.98 427.47,276.92 427.56,278.85 427.65,279.54 427.74,279.9 427.83,279.27 427.93,280.17 428.02,279.69 428.11,281.79 428.2,283.89 428.29,285.24 428.38,285.53 428.48,287.19 428.57,288.46 428.66,286.32 428.75,285.43 428.84,285.07 428.93,284.5 429.03,285.92 429.12,286.71 429.21,284.32 429.3,282.5 429.39,279.36 429.48,279.07 429.58,278.56 429.67,281.39 429.76,283.39 429.85,285.43 429.94,285.43 430.03,283.49 430.12,285.61 430.22,285.17 430.31,286.73 430.4,288.52 430.49,291.82 430.58,298.42 430.68,303.39 430.77,307.02 430.86,302.66 430.95,298.69 431.04,293.57 431.13,290.42 431.23,288.86 431.32,287.87 431.41,287.5 431.5,281.12 431.59,276.99 431.68,274.13 431.78,277.28 431.87,280.6 431.96,284.81 432.05,286.37 432.14,288.01 432.23,289.44 432.33,288.85 432.42,288.81 432.51,286.94 432.6,288.66 432.69,292.12 432.78,295.39 432.88,301.12 432.97,300.35 433.06,296.13 433.15,290.2 433.24,285.74 433.33,283.56 433.43,282.43 433.52,281.32 433.61,280 433.7,275.48 433.79,269.7 433.88,266.43 433.98,271.38 434.07,272.99 434.16,277.18 434.25,281.78 434.34,283.64 434.43,283.13 434.53,283.49 434.62,284.88 434.71,286.66 434.8,286.46 434.89,289.01 434.98,291.85 435.08,295.91 435.17,298.92 435.26,297.5 435.35,293.32 435.44,291.68 435.53,292.68 435.62,292.78 435.72,291.95 435.81,292.53 435.9,286.93 435.99,283.57 436.08,280.83 436.18,282.9 436.27,287.54 436.36,293.7 436.45,294.94 436.54,295.27 436.63,293.58 436.73,294.31 436.82,293.61 436.91,294.06 437,293.77 437.09,295.42 437.18,300.37 437.28,304.01 437.37,306.48 437.46,305.28 437.55,300.77 437.64,294.98 437.73,293.96 437.83,292.89 437.92,292.73 438.01,287.33 438.1,280.66 438.19,273.12 438.28,269.98 438.38,273.65 438.47,279.37 438.56,283.99 438.65,286.92 438.74,289.05 438.83,289.01 438.93,289.63 439.02,289.84 439.11,287.08 439.2,287.5 439.29,290.77 439.38,292.76 439.48,295.25 439.57,295.71 439.66,294 439.75,292.89 439.84,290.11 439.93,287.37 440.03,282.74 440.12,281.41 440.21,277.52 440.3,272.8 440.39,271.28 440.48,271.19 440.58,270.27 440.67,274.52 440.76,278.04 440.85,278.83 440.94,280.61 441.03,278.9 441.12,277.64 441.22,276.09 441.31,274.99 441.4,277.61 441.49,278.28 441.58,280.67 441.68,283.59 441.77,285.92 441.86,284.18 441.95,281.88 442.04,277.77 442.13,274.37 442.23,273.14 442.32,272.88 442.41,270.92 442.5,269.8 442.59,270.48 442.68,269.14 442.78,270.4 442.87,274.43 442.96,275.72 443.05,276.01 443.14,275.33 443.23,276.27 443.33,277.23 443.42,277.3 443.51,277.61 443.6,280.35 443.69,283.22 443.78,284.28 443.88,287.34 443.97,288.93 444.06,288.75 444.15,285.76 444.24,282.4 444.33,280.34 444.43,277.31 444.52,276.28 444.61,273.09 444.7,269.46 444.79,263.6 444.88,261.16 444.98,262.3 445.07,266.01 445.16,271.69 445.25,274.02 445.34,275.94 445.43,275.07 445.53,275.55 445.62,273.7 445.71,273.44 445.8,274.64 445.89,278.46 445.98,283.62 446.08,288.63 446.17,292.16 446.26,290.41 446.35,286.31 446.44,282.78 446.53,280.07 446.62,278.62 446.72,278.54 446.81,277.29 446.9,276.58 446.99,276.67 447.08,277.18 447.18,277.32 447.27,277.11 447.36,278.41 447.45,279.08 447.54,280.87 447.63,280.49 447.73,280.27 447.82,281.21 447.91,280.57 448,281.27 448.09,285.07 448.18,289.7 448.28,293.37 448.37,294.87 448.46,292.1 448.55,289.63 448.64,286.7 448.73,285.11 448.83,283.43 448.92,282.47 449.01,280.58 449.1,278.36 449.19,277.38 449.28,276.44 449.38,275.25 449.47,276.46 449.56,276.76 449.65,277.13 449.74,278.39 449.83,279.01 449.93,278.2 450.02,278.48 450.11,277.45 450.2,276.98" fill="none" stroke="#1b9e77" stroke-opacity="0.19" stroke-width="0.55"/>
<line x1="32.1" y1="243.8" x2="473.0" y2="243.8" stroke="#d45fa5" stroke-opacity="0.6" stroke-width="1.4" stroke-dasharray="3,1.7"/>
<polyline points="52,210.35 53,210.05 54,209.59 55,209.14 56,208.86 57,208.89 58,209.21 59,209.66 60,210.11 61,210.55 62,211.18 63,212 64,213 65,214 66,215 67,216 68,216.98 69,217.91 70,218.79 71,219.62 72,220.46 73,221.3 74,222.08 75,222.61 76,222.88 77,222.95 78,223.02 79,223.09 80,223.16 81,223.23 82,223.29 83,223.36 84,223.43 85,223.48 86,223.52 87,223.54 88,223.56 89,223.59 90,223.61 91,223.63 92,223.65 93,223.67 94,223.69 95,223.71 96,223.74 97,223.76 98,223.78 99,223.76 100,223.7 101,223.6 102,223.5 103,223.4 104,223.3 105,223.2 106,223.1 107,223 108,222.89 109,222.78 110,222.67 111,222.56 112,222.44 113,222.33 114,222.22 115,222.11 116,222.48 117,223.32 118,224.65 119,225.97 120,227.03 121,227.82 122,228.34 123,228.86 124,229.38 125,229.78 126,230.07 127,230.23 128,230.29 129,230.25 130,230.1 131,229.95 132,229.8 133,229.65 134,229.48 135,229.3 136,229.1 137,228.9 138,228.7 139,228.5 140,228.63 141,229.1 142,230.01 143,231.02 144,232.15 145,233.27 146,234.37 147,235.42 148,236.45 149,237.47 150,238.41 151,239.25 152,239.69 153,239.83 154,239.67 155,239.28 156,238.67 157,237.83 158,237.15 159,236.62 160,236.25 161,235.88 162,235.74 163,235.83 164,236.17 165,236.83 166,237.83 167,239.17 168,240.47 169,241.75 170,242.54 171,242.87 172,242.75 173,242.62 174,242.43 175,242.17 176,241.83 177,241.5 178,241.17 179,240.83 180,240.62 181,240.52 182,240.55 183,240.57 184,240.87 185,241.45 186,242.3 187,243.15 188,244.22 189,245.5 190,247 191,248.5 192,250 193,251.5 194,252.96 195,254.37 196,255.71 197,257.04 198,258.36 199,259.68 200,260.93 201,262.11 202,263.23 203,264.34 204,265.45 205,266.57 206,267.68 207,268.8 208,269.8 209,270.24 210,270.13 211,269.58 212,269.02 213,268.47 214,267.91 215,267.36 216,266.78 217,266.18 218,265.55 219,264.92 220,264.3 221,263.68 222,263.05 223,262.43 224,261.8 225,261.12 226,260.32 227,259.4 228,258.4 229,257.4 230,256.4 231,255.4 232,254.4 233,253.4 234,252.6 235,252 236,251.6 237,251.2 238,250.8 239,250.4 240,250.56 241,251.28 242,252.55 243,253.83 244,255.24 245,257.09 246,259.38 247,261.99 248,264.59 249,267.19 250,269.79 251,272.4 252,274.54 253,276.23 254,277.46 255,278.69 256,279.93 257,281.16 258,282.39 259,283.62 260,284.85 261,285.77 262,286.06 263,285.72 264,285.07 265,284.42 266,283.77 267,283.27 268,283.04 269,283.1 270,283.3 271,282.62 272,281.05 273,278.6 274,276.14 275,273.69 276,271.24 277,268.79 278,267.1 279,266.51 280,267.02 281,267.85 282,268.68 283,269.52 284,270.35 285,271.44 286,273.06 287,275.2 288,277.6 289,280 290,282.05 291,283.74 292,285.08 293,286.41 294,287.75 295,289.09 296,290.43 297,291.29 298,291.35 299,290.61 300,289.56 301,288.51 302,287.45 303,286.4 304,285.36 305,284.47 306,283.71 307,283.08 308,282.46 309,281.83 310,281.21 311,280.58 312,279.95 313,279.33 314,278.68 315,277.96 316,277.16 317,276.29 318,275.42 319,274.55 320,273.68 321,272.81 322,271.95 323,271.08 324,270.26 325,269.62 326,269.15 327,268.8 328,268.45 329,268.1 330,267.75 331,267.4 332,267.05 333,266.74 334,266.47 335,266.26 336,266.05 337,265.85 338,265.65 339,265.45 340,265.25 341,265.04 342,264.84 343,264.71 344,264.67 345,264.71 346,264.77 347,264.84 348,264.9 349,264.96 350,265.03 351,265.09 352,265.15 353,265.21 354,265.15 355,264.87 356,264.39 357,263.82 358,263.25 359,262.68 360,262.11 361,261.54 362,260.97 363,260.61 364,260.47 365,260.54 366,260.6 367,260.67 368,260.74 369,260.81 370,261.12 371,261.86 372,263.02 373,264.35 374,265.67 375,267.19 376,268.89 377,270.77 378,272.66 379,274.54 380,276.43 381,278.32 382,280.21 383,282.12 384,284.02 385,285.92 386,287.83 387,288.78 388,288.39 389,286.65 390,284.5 391,282.35 392,280.2 393,278.05 394,275.88 395,273.63 396,271.3 397,268.91 398,266.52 399,264.14 400,261.79 401,259.92 402,258.5 403,257.5 404,256.6 405,255.97 406,255.6 407,255.39 408,255.18 409,254.96 410,254.92 411,255.44 412,256.52 413,258 414,259.48 415,260.87 416,261.93 417,262.66 418,263.17 419,263.68 420,264.38 421,265.53 422,267.15 423,269.04 424,270.93 425,272.82 426,274.72 427,276.61 428,278.32 429,279.86 430,281.21 431,282.57 432,283.93 433,285.28 434,286.64 435,287.99 436,289.09 437,289.3 438,288.64 439,287.37 440,286.1 441,284.82 442,283.55 443,282.27 444,281.12 445,280.1 446,279.19 447,278.29 448,277.39 449,276.48 450,275.58 451,274.68 452,273.77 453,273.17" fill="none" stroke="#1b9e77" stroke-width="1.5" stroke-linejoin="round"/>
<polyline points="52,217.49 52.09,218.28 52.18,218.59 52.27,218.1 52.37,218.53 52.46,218.49 52.55,218.39 52.64,216.65 52.73,217.23 52.83,216.63 52.92,216.51 53.01,216.24 53.1,216.06 53.19,215.08 53.28,214.24 53.38,214.17 53.47,214.4 53.56,213 53.65,212.96 53.74,213.43 53.83,212.63 53.92,211.86 54.02,213.25 54.11,213.57 54.2,215.38 54.29,217.41 54.38,217.65 54.48,218.15 54.57,219.39 54.66,219.47 54.75,218.7 54.84,218.12 54.93,216.91 55.02,215.2 55.12,214.09 55.21,212.59 55.3,210.6 55.39,209.33 55.48,209.25 55.58,207.55 55.67,207.16 55.76,206.98 55.85,206.96 55.94,207.66 56.03,209.13 56.12,209.53 56.22,212.19 56.31,213.03 56.4,215.42 56.49,216.16 56.58,218.18 56.67,219.89 56.77,220.01 56.86,220.17 56.95,220.44 57.04,219.31 57.13,218.84 57.23,216.58 57.32,216.35 57.41,214.37 57.5,213.36 57.59,211.83 57.68,209.68 57.77,209.52 57.87,207.61 57.96,206.61 58.05,206.99 58.14,210 58.23,209.86 58.33,210.73 58.42,212.5 58.51,213.44 58.6,216.08 58.69,216.8 58.78,219.38 58.88,219.58 58.97,219.04 59.06,220.78 59.15,219.97 59.24,220 59.33,219.93 59.42,217.8 59.52,217.31 59.61,215.28 59.7,213.43 59.79,212.41 59.88,210.75 59.98,210.7 60.07,210.43 60.16,210.04 60.25,210.56 60.34,211.36 60.43,211.78 60.52,213.92 60.62,214.76 60.71,216.86 60.8,216.85 60.89,218.59 60.98,219.18 61.08,218.71 61.17,219.32 61.26,219.21 61.35,219.82 61.44,219.42 61.53,219.09 61.62,218.59 61.72,217.07 61.81,215.16 61.9,214.89 61.99,214.28 62.08,212.97 62.17,213.17 62.27,212.2 62.36,211.96 62.45,211.82 62.54,211.84 62.63,212.78 62.73,213.62 62.82,215.24 62.91,216.41 63,217.25 63.09,218.35 63.18,219.42 63.27,218.54 63.37,219.12 63.46,219.43 63.55,218.99 63.64,218.85 63.73,217.69 63.83,216.79 63.92,216.32 64.01,215.31 64.1,213.35 64.19,212.74 64.28,211.76 64.38,213.01 64.47,211.56 64.56,211.45 64.65,211.89 64.74,211.99 64.83,213.2 64.92,214.84 65.02,215.33 65.11,216.63 65.2,218.26 65.29,218.4 65.38,221.49 65.47,222.01 65.57,223.15 65.66,222.55 65.75,223.06 65.84,222.25 65.93,220.74 66.03,221.01 66.12,218.68 66.21,216.73 66.3,215.06 66.39,213.83 66.48,213.32 66.58,211.99 66.67,211.49 66.76,211.63 66.85,211.03 66.94,211.66 67.03,212.44 67.12,214.14 67.22,215.86 67.31,217.39 67.4,217.54 67.49,218.88 67.58,220.14 67.67,220.16 67.77,220.68 67.86,221.08 67.95,219.69 68.04,220.42 68.13,220.21 68.22,219.6 68.32,218.23 68.41,217.58 68.5,216.79 68.59,216.37 68.68,215.9 68.78,215.42 68.87,215.98 68.96,215.75 69.05,215.32 69.14,216 69.23,217.93 69.33,217.52 69.42,218.85 69.51,220.22 69.6,220.94 69.69,222.43 69.78,223.98 69.88,224.69 69.97,225.5 70.06,226.3 70.15,226.63 70.24,225.93 70.33,224.82 70.42,223.85 70.52,222.26 70.61,222.55 70.7,219.81 70.79,219.78 70.88,218.89 70.97,216.52 71.07,217.23 71.16,217.05 71.25,216.18 71.34,217.51 71.43,217.2 71.53,218.5 71.62,219.7 71.71,221.21 71.8,223.07 71.89,223.9 71.98,225.17 72.08,225.21 72.17,224.81 72.26,225.47 72.35,224.96 72.44,223.71 72.53,224.32 72.62,222.82 72.72,221.49 72.81,219.39 72.9,218.32 72.99,217 73.08,215.77 73.17,215 73.27,213.6 73.36,215.36 73.45,215 73.54,214.62 73.63,216.39 73.73,217.56 73.82,219.55 73.91,219.77 74,221.74 74.09,222.77 74.18,225.54 74.28,225.69 74.37,226.93 74.46,226.05 74.55,226.74 74.64,224.75 74.73,224.49 74.83,222.87 74.92,219.49 75.01,218.24 75.1,217.32 75.19,215.93 75.28,214.92 75.38,213.74 75.47,213.41 75.56,214.14 75.65,214.67 75.74,214.37 75.83,215.73 75.92,217.5 76.02,218.97 76.11,220.28 76.2,221.63 76.29,222.66 76.38,223.11 76.48,223.59 76.57,224.67 76.66,224.67 76.75,223.53 76.84,222.98 76.93,223.69 77.03,222.49 77.12,222.16 77.21,221.38 77.3,220.28 77.39,218.92 77.48,217.67 77.58,217.67 77.67,216.68 77.76,218.42 77.85,218.12 77.94,218.32 78.03,218.81 78.12,219.99 78.22,220.97 78.31,222.22 78.4,223.18 78.49,223.26 78.58,224.34 78.67,225.1 78.77,225.54 78.86,226.02 78.95,226.87 79.04,226.77 79.13,224.93 79.23,225.49 79.32,224.22 79.41,222.17 79.5,221.45 79.59,220.73 79.68,220.3 79.78,218.72 79.87,217.7 79.96,218.76 80.05,217.83 80.14,219.37 80.23,220.45 80.33,220.59 80.42,221.86 80.51,223.13 80.6,223.5 80.69,223.48 80.78,223.23 80.88,223.8 80.97,223.53 81.06,224.18 81.15,224.06 81.24,223.59 81.33,222.54 81.42,222.43 81.52,222.81 81.61,223.11 81.7,222 81.79,221.5 81.88,220.84 81.98,221.12 82.07,220.82 82.16,221.22 82.25,221.25 82.34,222.13 82.43,221.11 82.53,222.44 82.62,222.19 82.71,221.65 82.8,222.82 82.89,222.38 82.98,222.66 83.08,223.62 83.17,223.5 83.26,224.4 83.35,224.67 83.44,224.7 83.53,224.39 83.62,221.68 83.72,223.05 83.81,222.07 83.9,222.96 83.99,221.77 84.08,221.69 84.18,221.93 84.27,220.34 84.36,221.17 84.45,221.15 84.54,220.46 84.63,221.85 84.72,221.82 84.82,221.95 84.91,222.18 85,224.71 85.09,223.86 85.18,223.64 85.28,224.31 85.37,224.21 85.46,224.37 85.55,223.86 85.64,222.79 85.73,223.61 85.83,223 85.92,222.14 86.01,221.49 86.1,221.21 86.19,221.27 86.28,220.99 86.38,221.04 86.47,221.13 86.56,220.95 86.65,221.58 86.74,220.43 86.83,221.2 86.93,221.34 87.02,220.96 87.11,221.64 87.2,223.27 87.29,224.48 87.38,226.36 87.47,227.24 87.57,227.95 87.66,227.44 87.75,227.38 87.84,227.91 87.93,225.06 88.03,224.34 88.12,223.82 88.21,222.2 88.3,221.34 88.39,220.29 88.48,219.1 88.58,218.42 88.67,217.3 88.76,217.52 88.85,217.49 88.94,218.16 89.03,219.22 89.12,219.32 89.22,221.18 89.31,223.2 89.4,224.13 89.49,224.07 89.58,224.01 89.68,225.94 89.77,225.55 89.86,225.9 89.95,226.69 90.04,224.65 90.13,225.97 90.22,225.08 90.32,224.69 90.41,223.4 90.5,223.38 90.59,221.75 90.68,221.83 90.78,221.81 90.87,219.87 90.96,220.58 91.05,220.9 91.14,220.47 91.23,220.84 91.33,221.93 91.42,222.49 91.51,222.38 91.6,224.19 91.69,226.04 91.78,226.09 91.88,226.79 91.97,228.67 92.06,229.07 92.15,227.01 92.24,226.66 92.33,226.51 92.43,224.34 92.52,223.8 92.61,222.16 92.7,221.75 92.79,218.68 92.88,217.87 92.97,217.47 93.07,217.87 93.16,217.35 93.25,216.78 93.34,218.7 93.43,219.74 93.53,220.16 93.62,221.51 93.71,223.43 93.8,224.54 93.89,224.14 93.98,224.67 94.08,224.14 94.17,224.39 94.26,223.92 94.35,223.99 94.44,223.65 94.53,223.88 94.62,223.8 94.72,223 94.81,222.7 94.9,220.87 94.99,221.83 95.08,220.81 95.18,220.36 95.27,220.48 95.36,221.33 95.45,221.42 95.54,220.59 95.63,220.33 95.72,220.74 95.82,221.53 95.91,222.95 96,222.05 96.09,222.4 96.18,223.71 96.28,224.24 96.37,225.14 96.46,225.25 96.55,225.43 96.64,223.8 96.73,223.08 96.83,222.41 96.92,223.29 97.01,222.9 97.1,221.52 97.19,221.78 97.28,221.33 97.38,221 97.47,220.49 97.56,219.5 97.65,220.19 97.74,219.68 97.83,219.88 97.93,220.91 98.02,221.48 98.11,223.05 98.2,223.74 98.29,224.86 98.38,225.32 98.47,226.71 98.57,226.92 98.66,226.7 98.75,227.24 98.84,226.72 98.93,224.43 99.03,224.75 99.12,223.27 99.21,222.16 99.3,221.45 99.39,221.3 99.48,219.94 99.58,219.3 99.67,217.17 99.76,217.08 99.85,218.09 99.94,217.3 100.03,218.64 100.12,219.21 100.22,222.43 100.31,223.38 100.4,223.71 100.49,224.12 100.58,224.44 100.68,224.85 100.77,225.82 100.86,225.33 100.95,225.85 101.04,224.78 101.13,223.76 101.22,224.11 101.32,222.65 101.41,221.65 101.5,220.51 101.59,219 101.68,219.81 101.78,218.33 101.87,219.21 101.96,217.59 102.05,217.54 102.14,218.85 102.23,219.52 102.33,219.71 102.42,219.95 102.51,221.91 102.6,221.31 102.69,222.25 102.78,222.76 102.88,222.85 102.97,223.89 103.06,223.37 103.15,224.05 103.24,224.1 103.33,222.43 103.43,222.25 103.52,222.4 103.61,221.95 103.7,221.97 103.79,219.94 103.88,221.05 103.97,221.14 104.07,220.83 104.16,220.25 104.25,220.56 104.34,220.82 104.43,221.67 104.53,221.02 104.62,222.08 104.71,221.62 104.8,223.45 104.89,222.59 104.98,224.67 105.08,226.11 105.17,225.7 105.26,227.54 105.35,226.89 105.44,227.02 105.53,225.68 105.62,224.53 105.72,223.48 105.81,222.25 105.9,221.01 105.99,221.17 106.08,219.42 106.18,217.94 106.27,218.39 106.36,218.4 106.45,218.93 106.54,219.99 106.63,219.47 106.72,221.31 106.82,222.56 106.91,222.87 107,223.01 107.09,222.06 107.18,223.68 107.28,225.27 107.37,223.16 107.46,223.75 107.55,223.91 107.64,223.6 107.73,223.13 107.83,220.94 107.92,221.66 108.01,221.68 108.1,219.9 108.19,220.06 108.28,220.85 108.38,219.4 108.47,218.81 108.56,217.36 108.65,218.91 108.74,219.91 108.83,220.23 108.93,220.85 109.02,222.99 109.11,222.08 109.2,222.93 109.29,224.82 109.38,225.93 109.47,227.36 109.57,227.91 109.66,228.45 109.75,227.99 109.84,227.06 109.93,226.64 110.03,226.17 110.12,223.99 110.21,223.24 110.3,221.51 110.39,219.47 110.48,219.24 110.58,218.67 110.67,217.57 110.76,216.63 110.85,217.04 110.94,216.29 111.03,217.06 111.12,219.31 111.22,220.59 111.31,221.95 111.4,222.53 111.49,223.12 111.58,223.45 111.68,223.96 111.77,224.06 111.86,223.73 111.95,223.85 112.04,222.52 112.13,222.71 112.22,223.06 112.32,222.69 112.41,221.24 112.5,220.75 112.59,219.41 112.68,219.6 112.78,219.8 112.87,219.1 112.96,220.59 113.05,220.62 113.14,220.88 113.23,220.91 113.33,222.14 113.42,221.34 113.51,223.43 113.6,224.16 113.69,224.43 113.78,226.19 113.88,226.45 113.97,226.28 114.06,227.67 114.15,225.9 114.24,226.18 114.33,226.08 114.43,223.29 114.52,223.95 114.61,221.94 114.7,220.65 114.79,218.69 114.88,218.8 114.97,217.36 115.07,216.77 115.16,216.82 115.25,216.58 115.34,218.74 115.43,217.62 115.53,218.65 115.62,219.98 115.71,222.23 115.8,223.76 115.89,224.52 115.98,224.85 116.08,225.96 116.17,226.42 116.26,226.83 116.35,227.05 116.44,226.31 116.53,225.27 116.63,226.6 116.72,225.88 116.81,225.26 116.9,224.67 116.99,223.7 117.08,222.2 117.17,222.25 117.27,221.96 117.36,221.8 117.45,221.71 117.54,222.49 117.63,222.92 117.73,223.16 117.82,223.96 117.91,223.64 118,225.74 118.09,226.94 118.18,226.78 118.28,227.78 118.37,229.49 118.46,229.44 118.55,230.56 118.64,229.63 118.73,228.83 118.83,227.07 118.92,224.96 119.01,224.29 119.1,222.96 119.19,221.71 119.28,220.31 119.38,219.18 119.47,219.51 119.56,219.56 119.65,219.54 119.74,220.26 119.83,220.7 119.92,221.82 120.02,222.67 120.11,223.81 120.2,224.86 120.29,226.09 120.38,228.13 120.48,227.53 120.57,227.44 120.66,227.94 120.75,228.04 120.84,227.97 120.93,226.89 121.03,226.08 121.12,226.6 121.21,225.12 121.3,225.21 121.39,224.58 121.48,225.39 121.58,225.32 121.67,224.42 121.76,224.09 121.85,224.11 121.94,224.2 122.03,224.93 122.13,224.65 122.22,226.35 122.31,226.93 122.4,229.02 122.49,229.51 122.58,230.77 122.67,230.98 122.77,232.07 122.86,230.99 122.95,231.59 123.04,231.69 123.13,230.46 123.23,229.77 123.32,228.36 123.41,227.84 123.5,225.74 123.59,225.29 123.68,223.75 123.78,222.65 123.87,222.91 123.96,221.65 124.05,221.84 124.14,222.06 124.23,222.47 124.33,223.48 124.42,225.23 124.51,226.59 124.6,227.38 124.69,227.11 124.78,226.98 124.88,227.52 124.97,227.53 125.06,228.11 125.15,228.57 125.24,226.46 125.33,227.4 125.42,225.9 125.52,226.23 125.61,226.12 125.7,225.03 125.79,224.86 125.88,225.93 125.98,225.79 126.07,225.71 126.16,225.52 126.25,226.73 126.34,225.86 126.43,225.88 126.53,227.77 126.62,227.45 126.71,228.13 126.8,229.75 126.89,229.62 126.98,230.01 127.08,230.27 127.17,230 127.26,230.99 127.35,230.64 127.44,229.71 127.53,229.69 127.63,229.89 127.72,228.68 127.81,228.6 127.9,229.1 127.99,227.96 128.08,226.53 128.18,227.03 128.27,227.26 128.36,226.88 128.45,227.32 128.54,227.08 128.63,227.53 128.73,228.33 128.82,228.02 128.91,229.23 129,229.83 129.09,230.22 129.18,231.67 129.28,231.83 129.37,230.93 129.46,232.09 129.55,231.99 129.64,232.03 129.73,231.49 129.82,231.28 129.92,230.41 130.01,228.87 130.1,228.29 130.19,227.42 130.28,226.5 130.38,226.23 130.47,226.33 130.56,225.99 130.65,226.92 130.74,227.43 130.83,228.4 130.93,229.54 131.02,230.51 131.11,231.3 131.2,232.17 131.29,232.15 131.38,233.69 131.48,233.83 131.57,233.37 131.66,233.23 131.75,233.1 131.84,232.95 131.93,232.37 132.03,232.69 132.12,231.9 132.21,230.81 132.3,230.38 132.39,230.44 132.48,229.34 132.57,229.12 132.67,228.05 132.76,228.12 132.85,228 132.94,229.93 133.03,228.8 133.12,230.72 133.22,231.74 133.31,231.57 133.4,233.35 133.49,234.26 133.58,234.42 133.68,235.27 133.77,234.69 133.86,234.35 133.95,234.5 134.04,233.55 134.13,232.74 134.23,231.66 134.32,232.64 134.41,229.96 134.5,229.65 134.59,229.17 134.68,229.41 134.78,228.53 134.87,228.25 134.96,227.68 135.05,227.62 135.14,228.65 135.23,229.17 135.32,230.98 135.42,231.15 135.51,232.72 135.6,232.89 135.69,233.11 135.78,233.18 135.88,234.5 135.97,233.65 136.06,234.71 136.15,235.26 136.24,233.47 136.33,233.48 136.43,232.09 136.52,230.67 136.61,230.1 136.7,229.43 136.79,229.11 136.88,228.42 136.98,226.33 137.07,226.42 137.16,225.86 137.25,226.13 137.34,225.72 137.43,226.49 137.53,227.64 137.62,228.35 137.71,227.95 137.8,228.77 137.89,228.59 137.98,230.56 138.07,229.65 138.17,230.24 138.26,230.34 138.35,229.92 138.44,229.52 138.53,228.78 138.62,229.91 138.72,228.51 138.81,228 138.9,228.39 138.99,226.62 139.08,226.38 139.18,226.11 139.27,226.5 139.36,226.29 139.45,226.54 139.54,226.52 139.63,227.66 139.73,228.1 139.82,227.04 139.91,228.27 140,228.78 140.09,229.52 140.18,228.22 140.28,229.39 140.37,228.89 140.46,229.46 140.55,229.52 140.64,228.82 140.73,229.43 140.82,228.75 140.92,228.97 141.01,229.38 141.1,228.62 141.19,228.66 141.28,228.08 141.38,229.4 141.47,228.4 141.56,227.27 141.65,227.74 141.74,227.53 141.83,227.64 141.93,227.15 142.02,227.25 142.11,228.91 142.2,229.35 142.29,229.98 142.38,231.08 142.48,231.68 142.57,232.82 142.66,232.69 142.75,233.24 142.84,230.7 142.93,231.83 143.03,231.49 143.12,231.23 143.21,229.2 143.3,227.87 143.39,228.18 143.48,227.12 143.57,225.83 143.67,226.29 143.76,227.24 143.85,227.39 143.94,228.2 144.03,228.04 144.12,231.14 144.22,230.45 144.31,231.71 144.4,231.72 144.49,233.99 144.58,234.23 144.68,234.99 144.77,234.85 144.86,234.38 144.95,234.41 145.04,232.49 145.13,233.7 145.23,232.94 145.32,231.48 145.41,230.97 145.5,230.58 145.59,230.2 145.68,228.64 145.78,227.81 145.87,226.78 145.96,226.06 146.05,227.28 146.14,227.74 146.23,228.4 146.32,228.9 146.42,230.18 146.51,230.82 146.6,231.58 146.69,232.75 146.78,233.76 146.88,234.27 146.97,234.95 147.06,233.77 147.15,235.46 147.24,233.96 147.33,234.97 147.43,234.1 147.52,234.65 147.61,232.92 147.7,231.77 147.79,232.53 147.88,231.54 147.98,230.96 148.07,230.72 148.16,230.79 148.25,230.97 148.34,231.82 148.43,231.82 148.53,232.69 148.62,233.43 148.71,234.94 148.8,235.29 148.89,235.48 148.98,236.51 149.07,236.62 149.17,237.27 149.26,237.42 149.35,236.26 149.44,236.88 149.53,236.14 149.62,234.74 149.72,234.11 149.81,234.11 149.9,234.38 149.99,233.5 150.08,233.18 150.18,233.2 150.27,232.23 150.36,232.19 150.45,232.91 150.54,232.73 150.63,233.27 150.73,233.13 150.82,234.59 150.91,234.18 151,234.65 151.09,235.58 151.18,236.86 151.28,237.71 151.37,238.16 151.46,238.15 151.55,236.4 151.64,236.53 151.73,236.32 151.82,235.63 151.92,233.92 152.01,234.6 152.1,232.85 152.19,231.35 152.28,231.28 152.38,230.6 152.47,229.86 152.56,231.04 152.65,231.41 152.74,230.86 152.83,231.93 152.93,233.72 153.02,234.34 153.11,236.49 153.2,235.64 153.29,237.25 153.38,237.06 153.48,236.2 153.57,237.09 153.66,237.51 153.75,236.6 153.84,235.54 153.93,235.9 154.03,236.21 154.12,234.02 154.21,234.93 154.3,234.34 154.39,234.02 154.48,233.64 154.57,233.41 154.67,233.87 154.76,233.47 154.85,232.94 154.94,234.02 155.03,233.23 155.12,234.52 155.22,234.4 155.31,235.15 155.4,235.41 155.49,236.64 155.58,236.59 155.68,237.98 155.77,237.75 155.86,238.07 155.95,236.32 156.04,236.32 156.13,235.44 156.23,234.95 156.32,233.97 156.41,233.21 156.5,231.16 156.59,230.97 156.68,231.42 156.78,229.76 156.87,231.26 156.96,231.04 157.05,231.8 157.14,232.06 157.23,232.84 157.32,233.33 157.42,233.85 157.51,234.47 157.6,235.33 157.69,235.31 157.78,235.56 157.88,235.29 157.97,235.8 158.06,234.79 158.15,235.84 158.24,235.74 158.33,235.04 158.43,235.69 158.52,235.46 158.61,234.27 158.7,233.92 158.79,232.98 158.88,231.88 158.98,232.33 159.07,231.92 159.16,232.23 159.25,231.58 159.34,232.05 159.43,231.77 159.53,232.37 159.62,232.12 159.71,232.52 159.8,233.62 159.89,233.27 159.98,233.77 160.07,234.25 160.17,234.47 160.26,235.1 160.35,233.06 160.44,234.04 160.53,233.92 160.62,233.3 160.72,231.62 160.81,231.51 160.9,231.03 160.99,229.94 161.08,228.97 161.18,229.7 161.27,228.95 161.36,230.16 161.45,229.93 161.54,231.9 161.63,231.96 161.73,232 161.82,232.74 161.91,233.39 162,234.57 162.09,236 162.18,235.68 162.28,236.68 162.37,235.57 162.46,236.09 162.55,237.03 162.64,235.19 162.73,236.35 162.82,235.68 162.92,233.36 163.01,232.55 163.1,232.18 163.19,232.41 163.28,231.35 163.38,231.6 163.47,231.8 163.56,231.02 163.65,231.02 163.74,230.72 163.83,231.69 163.93,231.92 164.02,234.08 164.11,233.54 164.2,233.88 164.29,235.33 164.38,235.42 164.48,234.26 164.57,235.46 164.66,234.91 164.75,235.45 164.84,236.63 164.93,236.12 165.03,236.98 165.12,236.88 165.21,238.05 165.3,236.38 165.39,235.64 165.48,235.65 165.57,235.55 165.67,236.33 165.76,236.19 165.85,236.5 165.94,236.71 166.03,237.11 166.12,237.54 166.22,237.88 166.31,238.7 166.4,239.75 166.49,239.65 166.58,239.37 166.68,239.08 166.77,239.59 166.86,240.35 166.95,239.32 167.04,239.95 167.13,239.67 167.23,239.27 167.32,238.24 167.41,238.65 167.5,237.89 167.59,236.61 167.68,236.68 167.78,236.53 167.87,234.93 167.96,236.5 168.05,234.87 168.14,235.73 168.23,235.54 168.32,236.78 168.42,236.68 168.51,238.87 168.6,239.51 168.69,239.79 168.78,239.77 168.88,240.82 168.97,239.93 169.06,241.16 169.15,240.86 169.24,241.07 169.33,240.58 169.43,240.21 169.52,239.98 169.61,239.48 169.7,239.69 169.79,240.01 169.88,239.79 169.98,239.5 170.07,239.56 170.16,238.96 170.25,238.86 170.34,238.56 170.43,239.12 170.53,238.65 170.62,239.57 170.71,239.28 170.8,239.11 170.89,240.88 170.98,240.06 171.07,240.34 171.17,240.19 171.26,241.08 171.35,239.87 171.44,240.43 171.53,240.34 171.62,239.2 171.72,238.87 171.81,239.36 171.9,239.13 171.99,239.35 172.08,239.64 172.18,238.91 172.27,238.27 172.36,238.29 172.45,238.15 172.54,238.08 172.63,237.87 172.73,238.56 172.82,236.49 172.91,237.73 173,238.62 173.09,238.84 173.18,238.6 173.28,238.71 173.37,239.1 173.46,239.32 173.55,239.7 173.64,239.23 173.73,238.36 173.82,238.89 173.92,238.44 174.01,238.97 174.1,238.38 174.19,238.63 174.28,237.76 174.38,237.94 174.47,236.72 174.56,236.61 174.65,236.61 174.74,237.44 174.83,237.98 174.93,238.44 175.02,237.63 175.11,237.77 175.2,237.34 175.29,237.19 175.38,237.77 175.48,237.72 175.57,237.25 175.66,236.59 175.75,237.24 175.84,235.87 175.93,235.2 176.03,236.96 176.12,236.13 176.21,235.02 176.3,234.92 176.39,234.13 176.48,234.94 176.57,233.08 176.67,233.62 176.76,234.1 176.85,233.57 176.94,234.51 177.03,233.47 177.12,234.44 177.22,235 177.31,235.39 177.4,236.1 177.49,236.26 177.58,237.26 177.68,236.35 177.77,237.02 177.86,236.92 177.95,236.29 178.04,236.43 178.13,236.1 178.23,235.26 178.32,234.83 178.41,235.23 178.5,235.09 178.59,235.26 178.68,235 178.78,236.43 178.87,236.54 178.96,236.66 179.05,236.4 179.14,236.4 179.23,237.13 179.32,237.05 179.42,237.28 179.51,236.15 179.6,238.49 179.69,238.31 179.78,239.77 179.88,238.91 179.97,240.12 180.06,241.26 180.15,241.2 180.24,240.98 180.33,240.92 180.43,240.04 180.52,239.57 180.61,236.77 180.7,237.83 180.79,237.09 180.88,235.69 180.97,235.54 181.07,237.09 181.16,236.49 181.25,236.79 181.34,237.99 181.43,237.6 181.53,238.3 181.62,238.37 181.71,239.06 181.8,239.49 181.89,238.82 181.98,237.72 182.08,239.73 182.17,239.26 182.26,238.89 182.35,239.78 182.44,237.88 182.53,239.3 182.63,238.5 182.72,240.29 182.81,239.57 182.9,238.64 182.99,239.51 183.08,239.48 183.18,239.79 183.27,240.11 183.36,239.21 183.45,240.09 183.54,240.05 183.63,239.46 183.72,238.66 183.82,238.6 183.91,239.11 184,239.29 184.09,238.38 184.18,238.32 184.28,239.88 184.37,238.16 184.46,238.83 184.55,238.1 184.64,237.85 184.73,239.26 184.83,239.27 184.92,239.86 185.01,240.59 185.1,238.76 185.19,239.7 185.28,239.4 185.38,237.7 185.47,238.33 185.56,240.05 185.65,238.78 185.74,239.07 185.83,238.98 185.93,239.22 186.02,238.68 186.11,239.3 186.2,239.89 186.29,239.32 186.38,239.33 186.47,240.18 186.57,240.2 186.66,240.41 186.75,241.4 186.84,241.3 186.93,239.87 187.03,239.46 187.12,239.96 187.21,238.49 187.3,239.1 187.39,239.77 187.48,239.18 187.58,237.92 187.67,237.61 187.76,239.13 187.85,238.94 187.94,238.59 188.03,238.95 188.13,238.72 188.22,238.2 188.31,240.06 188.4,240.32 188.49,240.54 188.58,240.48 188.68,241.3 188.77,240.56 188.86,241.02 188.95,240.26 189.04,240.78 189.13,241.19 189.22,241.09 189.32,240.97 189.41,240.85 189.5,240.73 189.59,240.62 189.68,240.53 189.78,240.47 189.87,240.44 189.96,240.45 190.05,240.48 190.14,240.54 190.23,240.63 190.33,240.75 190.42,240.88 190.51,241.02 190.6,241.14 190.69,241.25 190.78,241.34 190.88,241.41 190.97,241.46 191.06,241.47 191.15,241.46 191.24,241.41 191.33,241.35 191.43,241.26 191.52,241.16 191.61,241.05 191.7,240.95 191.79,240.85 191.88,240.77 191.97,240.71 192.07,240.68 192.16,240.67 192.25,240.69 192.34,240.74 192.43,240.8 192.53,240.89 192.62,240.99 192.71,241.09 192.8,241.14 192.89,241.18 192.98,241.22 193.08,241.25 193.17,241.26 193.26,241.27 193.35,241.27 193.44,241.25 193.53,241.23 193.63,241.2 193.72,241.16 193.81,241.13 193.9,241.09 193.99,241.06 194.08,241.03 194.18,241.01 194.27,241 194.36,241 194.45,241.01 194.54,241.03 194.63,241.05 194.72,241.09 194.82,241.12 194.91,241.16 195,241.23 195.09,241.3 195.18,241.35 195.28,241.39 195.37,241.42 195.46,241.42 195.55,241.42 195.64,241.39 195.73,241.36 195.83,241.31 195.92,241.26 196.01,241.2 196.1,241.14 196.19,241.09 196.28,241.05 196.38,241.02 196.47,241 196.56,241 196.65,241.01 196.74,241.04 196.83,241.07 196.93,241.12 197.02,241.17 197.11,241.23 197.2,241.29 197.29,241.34 197.38,241.39 197.47,241.42 197.57,241.44 197.66,241.45 197.75,241.44 197.84,241.42 197.93,241.39 198.03,241.35 198.12,241.3 198.21,241.26 198.3,241.21 198.39,241.17 198.48,241.13 198.58,241.11 198.67,241.09 198.76,241.09 198.85,241.1 198.94,241.13 199.03,241.16 199.13,241.2 199.22,241.24 199.31,241.28 199.4,241.36 199.49,241.43 199.58,241.49 199.68,241.53 199.77,241.56 199.86,241.57 199.95,241.55 200.04,241.53 200.13,241.49 200.22,241.44 200.32,241.38 200.41,241.32 200.5,241.26 200.59,241.2 200.68,241.15 200.78,241.11 200.87,241.09 200.96,241.09 201.05,241.1 201.14,241.13 201.23,241.18 201.33,241.24 201.42,241.3 201.51,241.38 201.6,241.42 201.69,241.47 201.78,241.51 201.88,241.54 201.97,241.57 202.06,241.58 202.15,241.57 202.24,241.56 202.33,241.54 202.43,241.51 202.52,241.47 202.61,241.43 202.7,241.39 202.79,241.35 202.88,241.32 202.97,241.3 203.07,241.29 203.16,241.29 203.25,241.3 203.34,241.32 203.43,241.35 203.53,241.39 203.62,241.44 203.71,241.49 203.8,241.56 203.89,241.63 203.98,241.69 204.08,241.74 204.17,241.77 204.26,241.79 204.35,241.78 204.44,241.76 204.53,241.72 204.63,241.67 204.72,241.61 204.81,241.54 204.9,241.47 204.99,241.41 205.08,241.36 205.18,241.32 205.27,241.3 205.36,241.29 205.45,241.31 205.54,241.34 205.63,241.39 205.72,241.45 205.82,241.52 205.91,241.6 206,241.65 206.09,241.7 206.18,241.74 206.28,241.78 206.37,241.8 206.46,241.81 206.55,241.81 206.64,241.8 206.73,241.77 206.83,241.74 206.92,241.7 207.01,241.65 207.1,241.61 207.19,241.56 207.28,241.53 207.38,241.5 207.47,241.49 207.56,241.49 207.65,241.5 207.74,241.52 207.83,241.56 207.93,241.6 208.02,241.65 208.11,241.71 208.2,241.75 208.29,241.79 208.38,241.83 208.47,241.86 208.57,241.88 208.66,241.89 208.75,241.89 208.84,241.88 208.93,241.86 209.03,241.83 209.12,241.8 209.21,241.76 209.3,241.72 209.39,241.69 209.48,241.66 209.58,241.64 209.67,241.63 209.76,241.63 209.85,241.64 209.94,241.66 210.03,241.69 210.13,241.73 210.22,241.77 210.31,241.82 210.4,241.85 210.49,241.88 210.58,241.9 210.68,241.93 210.77,241.94 210.86,241.95 210.95,241.95 211.04,241.94 211.13,241.93 211.22,241.91 211.32,241.89 211.41,241.87 211.5,241.85 211.59,241.83 211.68,241.81 211.78,241.8 211.87,241.79 211.96,241.79 212.05,241.8 212.14,241.82 212.23,241.84 212.33,241.86 212.42,241.89 212.51,241.93 212.6,241.96 212.69,242 212.78,242.03 212.88,242.05 212.97,242.07 213.06,242.08 213.15,242.08 213.24,242.07 213.33,242.06 213.43,242.03 213.52,242.01 213.61,241.98 213.7,241.95 213.79,241.93 213.88,241.9 213.97,241.89 214.07,241.88 214.16,241.88 214.25,241.89 214.34,241.91 214.43,241.93 214.53,241.96 214.62,242 214.71,242.04 214.8,242.12 214.89,242.21 214.98,242.28 215.08,242.33 215.17,242.37 215.26,242.39 215.35,242.38 215.44,242.35 215.53,242.31 215.63,242.24 215.72,242.17 215.81,242.09 215.9,242.01 215.99,241.94 216.08,241.88 216.18,241.83 216.27,241.8 216.36,241.79 216.45,241.81 216.54,241.85 216.63,241.9 216.73,241.97 216.82,242.06 216.91,242.15 217,242.2 217.09,242.25 217.18,242.3 217.28,242.33 217.37,242.35 217.46,242.37 217.55,242.36 217.64,242.35 217.73,242.32 217.83,242.29 217.92,242.25 218.01,242.2 218.1,242.16 218.19,242.11 218.28,242.08 218.38,242.05 218.47,242.04 218.56,242.04 218.65,242.05 218.74,242.07 218.83,242.11 218.93,242.15 219.02,242.2 219.11,242.26 219.2,242.3 219.29,242.34 219.38,242.38 219.48,242.4 219.57,242.42 219.66,242.43 219.75,242.43 219.84,242.42 219.93,242.4 220.03,242.38 220.12,242.34 220.21,242.31 220.3,242.27 220.39,242.24 220.48,242.21 220.58,242.19 220.67,242.18 220.76,242.18 220.85,242.19 220.94,242.2 221.03,242.23 221.13,242.27 221.22,242.31 221.31,242.35 221.4,242.38 221.49,242.42 221.58,242.44 221.68,242.47 221.77,242.48 221.86,242.49 221.95,242.49 222.04,242.48 222.13,242.46 222.23,242.44 222.32,242.42 222.41,242.39 222.5,242.36 222.59,242.33 222.68,242.31 222.78,242.3 222.87,242.29 222.96,242.29 223.05,242.29 223.14,242.31 223.23,242.33 223.33,242.36 223.42,242.39 223.51,242.43 223.6,242.51 223.69,242.59 223.78,242.66 223.88,242.71 223.97,242.75 224.06,242.76 224.15,242.75 224.24,242.73 224.33,242.68 224.43,242.62 224.52,242.55 224.61,242.47 224.7,242.39 224.79,242.32 224.88,242.26 224.98,242.21 225.07,242.18 225.16,242.18 225.25,242.19 225.34,242.23 225.43,242.28 225.53,242.35 225.62,242.43 225.71,242.51 225.8,242.58 225.89,242.65 225.98,242.7 226.08,242.75 226.17,242.78 226.26,242.79 226.35,242.79 226.44,242.76 226.53,242.72 226.62,242.67 226.72,242.61 226.81,242.55 226.9,242.49 226.99,242.43 227.08,242.37 227.18,242.34 227.27,242.31 227.36,242.31 227.45,242.32 227.54,242.35 227.63,242.39 227.73,242.45 227.82,242.52 227.91,242.59 228,242.66 228.09,242.73 228.18,242.78 228.28,242.83 228.37,242.86 228.46,242.87 228.55,242.86 228.64,242.84 228.73,242.8 228.83,242.75 228.92,242.69 229.01,242.63 229.1,242.57 229.19,242.51 229.28,242.46 229.38,242.42 229.47,242.4 229.56,242.39 229.65,242.4 229.74,242.43 229.83,242.48 229.93,242.53 230.02,242.6 230.11,242.67 230.2,242.75 230.29,242.82 230.38,242.89 230.48,242.93 230.57,242.97 230.66,242.98 230.75,242.97 230.84,242.95 230.93,242.91 231.03,242.85 231.12,242.78 231.21,242.71 231.3,242.64 231.39,242.57 231.48,242.52 231.58,242.47 231.67,242.45 231.76,242.44 231.85,242.46 231.94,242.49 232.03,242.54 232.12,242.6 232.22,242.67 232.31,242.75 232.4,242.79 232.49,242.82 232.58,242.85 232.68,242.87 232.77,242.89 232.86,242.9 232.95,242.9 233.04,242.89 233.13,242.87 233.23,242.85 233.32,242.82 233.41,242.79 233.5,242.76 233.59,242.74 233.68,242.71 233.78,242.7 233.87,242.69 233.96,242.69 234.05,242.69 234.14,242.71 234.23,242.73 234.33,242.76 234.42,242.8 234.51,242.83 234.6,242.9 234.69,242.97 234.78,243.03 234.88,243.08 234.97,243.11 235.06,243.12 235.15,243.11 235.24,243.09 235.33,243.05 235.43,243 235.52,242.94 235.61,242.87 235.7,242.81 235.79,242.75 235.88,242.69 235.98,242.66 236.07,242.63 236.16,242.63 236.25,242.64 236.34,242.67 236.43,242.71 236.53,242.77 236.62,242.84 236.71,242.91 236.8,242.94 236.89,242.96 236.98,242.98 237.08,242.99 237.17,243 237.26,243.01 237.35,243.01 237.44,243.01 237.53,243 237.62,242.99 237.72,242.97 237.81,242.95 237.9,242.94 237.99,242.92 238.08,242.91 238.18,242.9 238.27,242.89 238.36,242.9 238.45,242.9 238.54,242.91 238.63,242.93 238.73,242.95 238.82,242.97 238.91,242.99 239,243.06 239.09,243.12 239.18,243.18 239.28,243.22 239.37,243.25 239.46,243.26 239.55,243.25 239.64,243.23 239.73,243.2 239.83,243.15 239.92,243.09 240.01,243.03 240.1,242.97 240.19,242.92 240.28,242.87 240.38,242.83 240.47,242.81 240.56,242.81 240.65,242.82 240.74,242.85 240.83,242.89 240.93,242.94 241.02,243.01 241.11,243.07 241.2,243.12 241.29,243.15 241.38,243.19 241.48,243.22 241.57,243.23 241.66,243.24 241.75,243.24 241.84,243.23 241.93,243.21 242.03,243.18 242.12,243.15 242.21,243.11 242.3,243.08 242.39,243.05 242.48,243.02 242.58,243 242.67,242.99 242.76,242.99 242.85,242.99 242.94,243.01 243.03,243.04 243.12,243.07 243.22,243.11 243.31,243.15 243.4,243.22 243.49,243.28 243.58,243.34 243.68,243.38 243.77,243.41 243.86,243.42 243.95,243.41 244.04,243.39 244.13,243.36 244.23,243.31 244.32,243.25 244.41,243.19 244.5,243.14 244.59,243.08 244.68,243.03 244.78,243 244.87,242.98 244.96,242.97 245.05,242.98 245.14,243.01 245.23,243.05 245.33,243.11 245.42,243.17 245.51,243.24 245.6,243.27 245.69,243.3 245.78,243.33 245.88,243.35 245.97,243.37 246.06,243.38 246.15,243.38 246.24,243.37 246.33,243.35 246.43,243.33 246.52,243.3 246.61,243.28 246.7,243.25 246.79,243.22 246.88,243.2 246.98,243.18 247.07,243.18 247.16,243.18 247.25,243.18 247.34,243.2 247.43,243.22 247.53,243.25 247.62,243.28 247.71,243.32 247.8,243.36 247.89,243.4 247.98,243.44 248.08,243.46 248.17,243.48 248.26,243.49 248.35,243.49 248.44,243.48 248.53,243.46 248.62,243.43 248.72,243.39 248.81,243.36 248.9,243.32 248.99,243.29 249.08,243.26 249.18,243.24 249.27,243.22 249.36,243.22 249.45,243.23 249.54,243.25 249.63,243.28 249.73,243.31 249.82,243.35 249.91,243.4 250,243.46 250.09,243.54 250.18,243.6 250.28,243.66 250.37,243.69 250.46,243.72 250.55,243.72 250.64,243.71 250.73,243.69 250.83,243.65 250.92,243.61 251.01,243.56 251.1,243.51 251.19,243.47 251.28,243.43 251.38,243.41 251.47,243.4 251.56,243.41 251.65,243.43 251.74,243.47 251.83,243.52 251.93,243.59 252.02,243.66 252.11,243.74 252.2,243.83 252.29,243.93 252.38,244.01 252.48,244.07 252.57,244.12 252.66,244.14 252.75,244.15 252.84,244.13 252.93,244.09 253.03,244.04 253.12,243.98 253.21,243.91 253.3,243.85 253.39,243.78 253.48,243.73 253.58,243.7 253.67,243.68 253.76,243.68 253.85,243.71 253.94,243.76 254.03,243.82 254.12,243.9 254.22,243.99 254.31,244.09 254.4,244.14 254.49,244.19 254.58,244.24 254.68,244.28 254.77,244.31 254.86,244.33 254.95,244.34 255.04,244.34 255.13,244.33 255.23,244.31 255.32,244.29 255.41,244.27 255.5,244.24 255.59,244.22 255.68,244.2 255.78,244.19 255.87,244.19 255.96,244.2 256.05,244.22 256.14,244.25 256.23,244.29 256.33,244.34 256.42,244.39 256.51,244.44 256.6,244.48 256.69,244.52 256.78,244.56 256.88,244.59 256.97,244.61 257.06,244.63 257.15,244.64 257.24,244.65 257.33,244.65 257.43,244.64 257.52,244.63 257.61,244.62 257.7,244.61 257.79,244.6 257.88,244.59 257.98,244.59 258.07,244.59 258.16,244.6 258.25,244.62 258.34,244.65 258.43,244.68 258.52,244.71 258.62,244.75 258.71,244.79 258.8,244.83 258.89,244.87 258.98,244.9 259.08,244.93 259.17,244.95 259.26,244.97 259.35,244.98 259.44,244.99 259.53,244.99 259.62,244.98 259.72,244.98 259.81,244.97 259.9,244.96 259.99,244.95 260.08,244.95 260.18,244.95 260.27,244.95 260.36,244.96 260.45,244.98 260.54,245 260.63,245.03 260.73,245.06 260.82,245.1 260.91,245.14 261,245.21 261.09,245.28 261.18,245.35 261.27,245.4 261.37,245.44 261.46,245.46 261.55,245.47 261.64,245.45 261.73,245.43 261.83,245.39 261.92,245.35 262.01,245.3 262.1,245.25 262.19,245.21 262.28,245.17 262.38,245.15 262.47,245.14 262.56,245.14 262.65,245.17 262.74,245.2 262.83,245.26 262.93,245.32 263.02,245.39 263.11,245.47 263.2,245.56 263.29,245.64 263.38,245.72 263.48,245.78 263.57,245.83 263.66,245.85 263.75,245.85 263.84,245.84 263.93,245.8 264.02,245.75 264.12,245.7 264.21,245.63 264.3,245.57 264.39,245.51 264.48,245.46 264.58,245.43 264.67,245.41 264.76,245.41 264.85,245.44 264.94,245.48 265.03,245.54 265.12,245.62 265.22,245.7 265.31,245.8 265.4,245.83 265.49,245.85 265.58,245.88 265.68,245.9 265.77,245.92 265.86,245.94 265.95,245.95 266.04,245.96 266.13,245.96 266.23,245.96 266.32,245.96 266.41,245.96 266.5,245.96 266.59,245.96 266.68,245.96 266.77,245.96 266.87,245.97 266.96,245.98 267.05,246 267.14,246.02 267.23,246.04 267.33,246.07 267.42,246.1 267.51,246.13 267.6,246.18 267.69,246.23 267.78,246.27 267.88,246.31 267.97,246.34 268.06,246.36 268.15,246.37 268.24,246.37 268.33,246.36 268.43,246.34 268.52,246.32 268.61,246.29 268.7,246.27 268.79,246.24 268.88,246.23 268.98,246.22 269.07,246.22 269.16,246.22 269.25,246.24 269.34,246.27 269.43,246.31 269.52,246.35 269.62,246.4 269.71,246.46 269.8,246.5 269.89,246.53 269.98,246.57 270.08,246.58 270.17,246.59 270.26,246.59 270.35,246.58 270.44,246.57 270.53,246.54 270.62,246.52 270.72,246.49 270.81,246.46 270.9,246.43 270.99,246.4 271.08,246.37 271.18,246.35 271.27,246.34 271.36,246.33 271.45,246.33 271.54,246.34 271.63,246.35 271.73,246.36 271.82,246.38 271.91,246.4 272,246.48 272.09,246.55 272.18,246.61 272.27,246.66 272.37,246.69 272.46,246.69 272.55,246.68 272.64,246.64 272.73,246.59 272.83,246.52 272.92,246.44 273.01,246.35 273.1,246.26 273.19,246.18 273.28,246.11 273.38,246.06 273.47,246.02 273.56,246.01 273.65,246.01 273.74,246.04 273.83,246.09 273.93,246.15 274.02,246.22 274.11,246.29 274.2,246.31 274.29,246.33 274.38,246.34 274.48,246.35 274.57,246.36 274.66,246.36 274.75,246.35 274.84,246.34 274.93,246.32 275.02,246.29 275.12,246.27 275.21,246.24 275.3,246.21 275.39,246.19 275.48,246.16 275.58,246.14 275.67,246.13 275.76,246.12 275.85,246.12 275.94,246.12 276.03,246.13 276.12,246.15 276.22,246.17 276.31,246.18 276.4,246.2 276.49,246.21 276.58,246.22 276.68,246.23 276.77,246.23 276.86,246.23 276.95,246.22 277.04,246.21 277.13,246.19 277.23,246.18 277.32,246.15 277.41,246.13 277.5,246.11 277.59,246.08 277.68,246.06 277.77,246.05 277.87,246.04 277.96,246.03 278.05,246.03 278.14,246.03 278.23,246.04 278.33,246.05 278.42,246.06 278.51,246.07 278.6,246.14 278.69,246.2 278.78,246.25 278.88,246.28 278.97,246.3 279.06,246.31 279.15,246.29 279.24,246.26 279.33,246.22 279.43,246.16 279.52,246.09 279.61,246.02 279.7,245.95 279.79,245.88 279.88,245.82 279.98,245.78 280.07,245.76 280.16,245.77 280.25,245.8 280.34,245.84 280.43,245.9 280.52,245.97 280.62,246.06 280.71,246.14 280.8,246.24 280.89,246.34 280.98,246.42 281.08,246.49 281.17,246.54 281.26,246.57 281.35,246.58 281.44,246.57 281.53,246.53 281.62,246.49 281.72,246.43 281.81,246.36 281.9,246.3 281.99,246.24 282.08,246.19 282.18,246.16 282.27,246.14 282.36,246.15 282.45,246.18 282.54,246.23 282.63,246.3 282.73,246.38 282.82,246.48 282.91,246.58 283,246.67 283.09,246.75 283.18,246.82 283.27,246.88 283.37,246.93 283.46,246.95 283.55,246.96 283.64,246.95 283.73,246.93 283.83,246.9 283.92,246.85 284.01,246.8 284.1,246.75 284.19,246.71 284.28,246.67 284.38,246.65 284.47,246.64 284.56,246.65 284.65,246.68 284.74,246.72 284.83,246.78 284.93,246.85 285.02,246.94 285.11,247.02 285.2,247.06 285.29,247.1 285.38,247.14 285.48,247.17 285.57,247.19 285.66,247.22 285.75,247.23 285.84,247.24 285.93,247.25 286.02,247.25 286.12,247.25 286.21,247.24 286.3,247.24 286.39,247.24 286.48,247.24 286.58,247.24 286.67,247.25 286.76,247.27 286.85,247.29 286.94,247.32 287.03,247.35 287.12,247.38 287.22,247.42 287.31,247.46 287.4,247.52 287.49,247.58 287.58,247.63 287.68,247.68 287.77,247.71 287.86,247.73 287.95,247.75 288.04,247.75 288.13,247.74 288.23,247.73 288.32,247.71 288.41,247.68 288.5,247.66 288.59,247.64 288.68,247.62 288.77,247.62 288.87,247.62 288.96,247.63 289.05,247.65 289.14,247.69 289.23,247.73 289.33,247.78 289.42,247.84 289.51,247.9 289.6,247.97 289.69,248.03 289.78,248.09 289.88,248.14 289.97,248.18 290.06,248.22 290.15,248.26 290.24,248.28 290.33,248.3 290.43,248.3 290.52,248.3 290.61,248.29 290.7,248.29 290.79,248.28 290.88,248.29 290.98,248.3 291.07,248.33 291.16,248.37 291.25,248.42 291.34,248.48 291.43,248.55 291.52,248.64 291.62,248.73 291.71,248.82 291.8,248.94 291.89,249.05 291.98,249.16 292.08,249.25 292.17,249.32 292.26,249.37 292.35,249.41 292.44,249.42 292.53,249.42 292.62,249.41 292.72,249.38 292.81,249.35 292.9,249.32 292.99,249.29 293.08,249.27 293.18,249.27 293.27,249.29 293.36,249.32 293.45,249.38 293.54,249.45 293.63,249.54 293.73,249.64 293.82,249.76 293.91,249.88 294,249.99 294.09,250.09 294.18,250.19 294.27,250.27 294.37,250.34 294.46,250.39 294.55,250.43 294.64,250.45 294.73,250.45 294.83,250.44 294.92,250.43 295.01,250.4 295.1,250.36 295.19,250.33 295.28,250.3 295.38,250.29 295.47,250.29 295.56,250.31 295.65,250.35 295.74,250.4 295.83,250.46 295.93,250.54 296.02,250.63 296.11,250.72 296.2,250.77 296.29,250.81 296.38,250.85 296.48,250.89 296.57,250.92 296.66,250.95 296.75,250.97 296.84,250.99 296.93,251.01 297.02,251.02 297.12,251.03 297.21,251.04 297.3,251.05 297.39,251.06 297.48,251.07 297.58,251.09 297.67,251.11 297.76,251.13 297.85,251.16 297.94,251.19 298.03,251.23 298.12,251.27 298.22,251.32 298.31,251.36 298.4,251.43 298.49,251.5 298.58,251.56 298.68,251.61 298.77,251.66 298.86,251.69 298.95,251.71 299.04,251.72 299.13,251.72 299.23,251.71 299.32,251.7 299.41,251.68 299.5,251.66 299.59,251.65 299.68,251.64 299.77,251.64 299.87,251.65 299.96,251.67 300.05,251.7 300.14,251.74 300.23,251.8 300.33,251.86 300.42,251.93 300.51,252 300.6,252.09 300.69,252.18 300.78,252.26 300.88,252.33 300.97,252.38 301.06,252.41 301.15,252.43 301.24,252.43 301.33,252.42 301.43,252.39 301.52,252.36 301.61,252.32 301.7,252.28 301.79,252.24 301.88,252.22 301.98,252.2 302.07,252.2 302.16,252.22 302.25,252.26 302.34,252.31 302.43,252.38 302.52,252.45 302.62,252.54 302.71,252.64 302.8,252.71 302.89,252.79 302.98,252.85 303.08,252.91 303.17,252.96 303.26,252.99 303.35,253.01 303.44,253.02 303.53,253.01 303.62,253 303.72,252.98 303.81,252.95 303.9,252.93 303.99,252.91 304.08,252.9 304.18,252.89 304.27,252.9 304.36,252.92 304.45,252.95 304.54,253 304.63,253.06 304.73,253.12 304.82,253.2 304.91,253.27 305,253.36 305.09,253.39 305.18,253.41 305.27,253.42 305.37,253.41 305.46,253.4 305.55,253.36 305.64,253.32 305.73,253.25 305.83,253.18 305.92,253.1 306.01,253.02 306.1,252.93 306.19,252.85 306.28,252.78 306.38,252.72 306.47,252.67 306.56,252.64 306.65,252.62 306.74,252.62 306.83,252.63 306.93,252.65 307.02,252.68 307.11,252.71 307.2,252.76 307.29,252.81 307.38,252.85 307.48,252.87 307.57,252.87 307.66,252.86 307.75,252.82 307.84,252.77 307.93,252.69 308.03,252.6 308.12,252.51 308.21,252.4 308.3,252.3 308.39,252.2 308.48,252.11 308.57,252.04 308.67,251.98 308.76,251.95 308.85,251.93 308.94,251.94 309.03,251.96 309.13,251.99 309.22,252.04 309.31,252.09 309.4,252.15 309.49,252.19 309.58,252.23 309.68,252.25 309.77,252.26 309.86,252.24 309.95,252.21 310.04,252.15 310.13,252.08 310.23,251.99 310.32,251.89 310.41,251.79 310.5,251.68 310.59,251.58 310.68,251.49 310.78,251.42 310.87,251.36 310.96,251.33 311.05,251.31 311.14,251.32 311.23,251.34 311.32,251.38 311.42,251.42 311.51,251.48 311.6,251.52 311.69,251.56 311.78,251.59 311.88,251.61 311.97,251.61 312.06,251.59 312.15,251.56 312.24,251.5 312.33,251.43 312.43,251.35 312.52,251.26 312.61,251.17 312.7,251.08 312.79,250.99 312.88,250.9 312.98,250.84 313.07,250.78 313.16,250.75 313.25,250.73 313.34,250.73 313.43,250.75 313.53,250.78 313.62,250.82 313.71,250.86 313.8,250.89 313.89,250.91 313.98,250.92 314.07,250.93 314.17,250.92 314.26,250.91 314.35,250.87 314.44,250.83 314.53,250.77 314.63,250.7 314.72,250.63 314.81,250.55 314.9,250.48 314.99,250.4 315.08,250.36 315.18,250.32 315.27,250.3 315.36,250.29 315.45,250.3 315.54,250.31 315.63,250.34 315.73,250.38 315.82,250.43 315.91,250.47 316,250.51 316.09,250.53 316.18,250.56 316.28,250.58 316.37,250.59 316.46,250.59 316.55,250.58 316.64,250.57 316.73,250.54 316.82,250.51 316.92,250.48 317.01,250.44 317.1,250.41 317.19,250.37 317.28,250.34 317.38,250.32 317.47,250.31 317.56,250.3 317.65,250.3 317.74,250.31 317.83,250.33 317.93,250.35 318.02,250.38 318.11,250.41 318.2,250.43 318.29,250.45 318.38,250.47 318.48,250.48 318.57,250.49 318.66,250.49 318.75,250.48 318.84,250.47 318.93,250.45 319.03,250.43 319.12,250.41 319.21,250.38 319.3,250.36 319.39,250.33 319.48,250.31 319.57,250.29 319.67,250.28 319.76,250.28 319.85,250.28 319.94,250.28 320.03,250.29 320.13,250.31 320.22,250.33 320.31,250.35 320.4,250.37 320.49,250.39 320.58,250.41 320.68,250.42 320.77,250.43 320.86,250.43 320.95,250.42 321.04,250.41 321.13,250.39 321.23,250.37 321.32,250.35 321.41,250.32 321.5,250.29 321.59,250.27 321.68,250.25 321.78,250.23 321.87,250.22 321.96,250.21 322.05,250.21 322.14,250.22 322.23,250.23 322.32,250.25 322.42,250.27 322.51,250.29 322.6,250.34 322.69,250.39 322.78,250.43 322.88,250.46 322.97,250.48 323.06,250.49 323.15,250.48 323.24,250.45 323.33,250.42 323.43,250.37 323.52,250.32 323.61,250.26 323.7,250.2 323.79,250.15 323.88,250.1 323.98,250.07 324.07,250.04 324.16,250.03 324.25,250.04 324.34,250.05 324.43,250.09 324.53,250.13 324.62,250.18 324.71,250.23 324.8,250.29 324.89,250.35 324.98,250.39 325.07,250.43 325.17,250.45 325.26,250.46 325.35,250.45 325.44,250.42 325.53,250.38 325.63,250.32 325.72,250.26 325.81,250.2 325.9,250.13 325.99,250.07 326.08,250.02 326.18,249.98 326.27,249.95 326.36,249.94 326.45,249.94 326.54,249.97 326.63,250 326.73,250.05 326.82,250.11 326.91,250.17 327,250.23 327.09,250.29 327.18,250.35 327.28,250.39 327.37,250.41 327.46,250.42 327.55,250.41 327.64,250.38 327.73,250.33 327.82,250.27 327.92,250.21 328.01,250.14 328.1,250.06 328.19,250 328.28,249.94 328.38,249.9 328.47,249.87 328.56,249.86 328.65,249.86 328.74,249.89 328.83,249.93 328.93,249.98 329.02,250.04 329.11,250.1 329.2,250.17 329.29,250.24 329.38,250.29 329.48,250.34 329.57,250.36 329.66,250.37 329.75,250.36 329.84,250.33 329.93,250.28 330.03,250.22 330.12,250.15 330.21,250.07 330.3,250 330.39,249.93 330.48,249.87 330.57,249.82 330.67,249.79 330.76,249.78 330.85,249.79 330.94,249.81 331.03,249.85 331.13,249.91 331.22,249.97 331.31,250.04 331.4,250.07 331.49,250.1 331.58,250.12 331.68,250.14 331.77,250.15 331.86,250.15 331.95,250.14 332.04,250.13 332.13,250.11 332.23,250.08 332.32,250.05 332.41,250.01 332.5,249.98 332.59,249.95 332.68,249.92 332.78,249.9 332.87,249.88 332.96,249.88 333.05,249.88 333.14,249.89 333.23,249.9 333.32,249.93 333.42,249.95 333.51,249.98 333.6,250.01 333.69,250.04 333.78,250.07 333.88,250.09 333.97,250.1 334.06,250.1 334.15,250.09 334.24,250.08 334.33,250.05 334.43,250.02 334.52,249.99 334.61,249.95 334.7,249.91 334.79,249.88 334.88,249.85 334.98,249.83 335.07,249.81 335.16,249.8 335.25,249.8 335.34,249.82 335.43,249.83 335.53,249.86 335.62,249.89 335.71,249.92 335.8,249.94 335.89,249.96 335.98,249.98 336.07,249.99 336.17,250 336.26,250 336.35,250 336.44,249.98 336.53,249.97 336.63,249.94 336.72,249.92 336.81,249.89 336.9,249.86 336.99,249.84 337.08,249.81 337.18,249.79 337.27,249.78 337.36,249.78 337.45,249.78 337.54,249.78 337.63,249.8 337.73,249.81 337.82,249.84 337.91,249.86 338,249.9 338.09,249.95 338.18,249.98 338.28,250.01 338.37,250.02 338.46,250.03 338.55,250.02 338.64,250 338.73,249.97 338.82,249.92 338.92,249.88 339.01,249.83 339.1,249.78 339.19,249.73 339.28,249.69 339.38,249.66 339.47,249.64 339.56,249.63 339.65,249.63 339.74,249.65 339.83,249.68 339.93,249.71 340.02,249.75 340.11,249.79 340.2,249.86 340.29,249.92 340.38,249.98 340.48,250.01 340.57,250.04 340.66,250.04 340.75,250.03 340.84,249.99 340.93,249.94 341.03,249.88 341.12,249.8 341.21,249.73 341.3,249.65 341.39,249.57 341.48,249.51 341.57,249.46 341.67,249.42 341.76,249.41 341.85,249.41 341.94,249.44 342.03,249.47 342.13,249.53 342.22,249.59 342.31,249.66 342.4,249.71 342.49,249.76 342.58,249.81 342.68,249.84 342.77,249.85 342.86,249.86 342.95,249.84 343.04,249.81 343.13,249.77 343.23,249.72 343.32,249.65 343.41,249.59 343.5,249.52 343.59,249.46 343.68,249.41 343.78,249.36 343.87,249.33 343.96,249.32 344.05,249.32 344.14,249.34 344.23,249.37 344.32,249.41 344.42,249.47 344.51,249.52 344.6,249.55 344.69,249.59 344.78,249.61 344.88,249.63 344.97,249.64 345.06,249.64 345.15,249.63 345.24,249.61 345.33,249.58 345.43,249.54 345.52,249.5 345.61,249.45 345.7,249.41 345.79,249.36 345.88,249.33 345.98,249.29 346.07,249.27 346.16,249.26 346.25,249.26 346.34,249.27 346.43,249.29 346.53,249.32 346.62,249.35 346.71,249.38 346.8,249.4 346.89,249.42 346.98,249.43 347.07,249.44 347.17,249.44 347.26,249.44 347.35,249.43 347.44,249.41 347.53,249.39 347.63,249.37 347.72,249.34 347.81,249.32 347.9,249.29 347.99,249.26 348.08,249.24 348.18,249.22 348.27,249.2 348.36,249.19 348.45,249.19 348.54,249.19 348.63,249.2 348.73,249.21 348.82,249.23 348.91,249.25 349,249.31 349.09,249.36 349.18,249.41 349.28,249.44 349.37,249.46 349.46,249.47 349.55,249.45 349.64,249.42 349.73,249.37 349.82,249.32 349.92,249.25 350.01,249.18 350.1,249.11 350.19,249.04 350.28,248.98 350.38,248.94 350.47,248.91 350.56,248.89 350.65,248.9 350.74,248.91 350.83,248.95 350.93,249 351.02,249.05 351.11,249.11 351.2,249.17 351.29,249.23 351.38,249.28 351.48,249.32 351.57,249.34 351.66,249.34 351.75,249.33 351.84,249.29 351.93,249.25 352.03,249.19 352.12,249.12 352.21,249.04 352.3,248.97 352.39,248.9 352.48,248.84 352.57,248.79 352.67,248.76 352.76,248.74 352.85,248.75 352.94,248.77 353.03,248.8 353.13,248.85 353.22,248.91 353.31,248.97 353.4,249.03 353.49,249.08 353.58,249.12 353.68,249.15 353.77,249.17 353.86,249.17 353.95,249.16 354.04,249.13 354.13,249.09 354.23,249.03 354.32,248.97 354.41,248.91 354.5,248.84 354.59,248.78 354.68,248.72 354.78,248.68 354.87,248.65 354.96,248.64 355.05,248.64 355.14,248.66 355.23,248.69 355.32,248.73 355.42,248.78 355.51,248.84 355.6,248.86 355.69,248.89 355.78,248.9 355.88,248.92 355.97,248.92 356.06,248.92 356.15,248.91 356.24,248.89 356.33,248.87 356.43,248.84 356.52,248.81 356.61,248.77 356.7,248.73 356.79,248.7 356.88,248.67 356.98,248.64 357.07,248.63 357.16,248.62 357.25,248.62 357.34,248.62 357.43,248.63 357.53,248.65 357.62,248.68 357.71,248.7 357.8,248.73 357.89,248.76 357.98,248.78 358.07,248.8 358.17,248.81 358.26,248.81 358.35,248.8 358.44,248.78 358.53,248.75 358.63,248.71 358.72,248.67 358.81,248.63 358.9,248.59 358.99,248.55 359.08,248.52 359.18,248.49 359.27,248.47 359.36,248.46 359.45,248.46 359.54,248.47 359.63,248.48 359.73,248.51 359.82,248.53 359.91,248.56 360,248.61 360.09,248.65 360.18,248.68 360.28,248.7 360.37,248.72 360.46,248.72 360.55,248.7 360.64,248.68 360.73,248.65 360.82,248.6 360.92,248.55 361.01,248.5 361.1,248.44 361.19,248.39 361.28,248.35 361.38,248.31 361.47,248.29 361.56,248.28 361.65,248.28 361.74,248.29 361.83,248.31 361.93,248.35 362.02,248.39 362.11,248.43 362.2,248.49 362.29,248.55 362.38,248.6 362.48,248.63 362.57,248.66 362.66,248.66 362.75,248.64 362.84,248.61 362.93,248.56 363.03,248.5 363.12,248.43 363.21,248.36 363.3,248.29 363.39,248.22 363.48,248.15 363.57,248.11 363.67,248.08 363.76,248.06 363.85,248.06 363.94,248.08 364.03,248.12 364.13,248.17 364.22,248.23 364.31,248.29 364.4,248.31 364.49,248.33 364.58,248.35 364.68,248.36 364.77,248.36 364.86,248.36 364.95,248.35 365.04,248.34 365.13,248.31 365.23,248.29 365.32,248.26 365.41,248.22 365.5,248.19 365.59,248.16 365.68,248.13 365.78,248.11 365.87,248.09 365.96,248.08 366.05,248.08 366.14,248.09 366.23,248.1 366.32,248.11 366.42,248.13 366.51,248.15 366.6,248.19 366.69,248.22 366.78,248.24 366.88,248.26 366.97,248.27 367.06,248.27 367.15,248.26 367.24,248.24 367.33,248.21 367.43,248.17 367.52,248.13 367.61,248.09 367.7,248.04 367.79,248 367.88,247.97 367.98,247.94 368.07,247.92 368.16,247.91 368.25,247.91 368.34,247.91 368.43,247.93 368.53,247.96 368.62,247.99 368.71,248.02 368.8,248.03 368.89,248.04 368.98,248.04 369.07,248.05 369.17,248.06 369.26,248.07 369.35,248.07 369.44,248.06 369.53,248.06 369.63,248.05 369.72,248.04 369.81,248.02 369.9,248.01 369.99,248 370.08,247.99 370.18,247.98 370.27,247.98 370.36,247.98 370.45,247.98 370.54,247.99 370.63,248 370.73,248.02 370.82,248.03 370.91,248.05 371,248.07 371.09,248.08 371.18,248.09 371.28,248.1 371.37,248.11 371.46,248.11 371.55,248.12 371.64,248.11 371.73,248.11 371.82,248.1 371.92,248.09 372.01,248.08 372.1,248.07 372.19,248.06 372.28,248.06 372.38,248.05 372.47,248.05 372.56,248.05 372.65,248.05 372.74,248.06 372.83,248.07 372.93,248.08 373.02,248.1 373.11,248.11 373.2,248.14 373.29,248.17 373.38,248.19 373.48,248.21 373.57,248.22 373.66,248.23 373.75,248.23 373.84,248.22 373.93,248.21 374.03,248.19 374.12,248.17 374.21,248.14 374.3,248.12 374.39,248.1 374.48,248.08 374.57,248.06 374.67,248.05 374.76,248.05 374.85,248.06 374.94,248.07 375.03,248.09 375.13,248.12 375.22,248.14 375.31,248.17 375.4,248.24 375.49,248.29 375.58,248.35 375.68,248.39 375.77,248.41 375.86,248.42 375.95,248.42 376.04,248.4 376.13,248.36 376.23,248.31 376.32,248.26 376.41,248.2 376.5,248.14 376.59,248.09 376.68,248.04 376.78,248.01 376.87,247.99 376.96,247.98 377.05,247.99 377.14,248.02 377.23,248.06 377.32,248.11 377.42,248.17 377.51,248.23 377.6,248.29 377.69,248.34 377.78,248.38 377.88,248.42 377.97,248.44 378.06,248.45 378.15,248.45 378.24,248.43 378.33,248.4 378.43,248.36 378.52,248.31 378.61,248.26 378.7,248.21 378.79,248.17 378.88,248.13 378.98,248.1 379.07,248.08 379.16,248.07 379.25,248.08 379.34,248.11 379.43,248.14 379.53,248.19 379.62,248.24 379.71,248.29 379.8,248.33 379.89,248.38 379.98,248.41 380.07,248.45 380.17,248.49 380.26,248.51 380.35,248.53 380.44,248.53 380.53,248.52 380.63,248.51 380.72,248.49 380.81,248.47 380.9,248.45 380.99,248.43 381.08,248.42 381.18,248.42 381.27,248.42 381.36,248.43 381.45,248.46 381.54,248.49 381.63,248.54 381.73,248.59 381.82,248.65 381.91,248.71 382,248.76 382.09,248.82 382.18,248.86 382.28,248.91 382.37,248.94 382.46,248.96 382.55,248.98 382.64,248.98 382.73,248.98 382.83,248.97 382.92,248.96 383.01,248.94 383.1,248.93 383.19,248.91 383.28,248.9 383.38,248.9 383.47,248.9 383.56,248.92 383.65,248.94 383.74,248.98 383.83,249.02 383.93,249.07 384.02,249.12 384.11,249.18 384.2,249.22 384.29,249.27 384.38,249.31 384.48,249.35 384.57,249.38 384.66,249.4 384.75,249.42 384.84,249.43 384.93,249.43 385.03,249.43 385.12,249.42 385.21,249.41 385.3,249.4 385.39,249.4 385.48,249.39 385.58,249.4 385.67,249.41 385.76,249.42 385.85,249.45 385.94,249.48 386.03,249.51 386.13,249.55 386.22,249.6 386.31,249.65 386.4,249.72 386.49,249.8 386.58,249.86 386.68,249.91 386.77,249.96 386.86,249.98 386.95,250 387.04,249.99 387.13,249.98 387.23,249.95 387.32,249.92 387.41,249.88 387.5,249.84 387.59,249.81 387.68,249.78 387.78,249.77 387.87,249.77 387.96,249.78 388.05,249.8 388.14,249.85 388.23,249.9 388.33,249.97 388.42,250.04 388.51,250.12 388.6,250.18 388.69,250.23 388.78,250.28 388.88,250.33 388.97,250.36 389.06,250.39 389.15,250.4 389.24,250.41 389.33,250.4 389.43,250.39 389.52,250.37 389.61,250.35 389.7,250.33 389.79,250.31 389.88,250.3 389.98,250.29 390.07,250.3 390.16,250.31 390.25,250.34 390.34,250.37 390.43,250.42 390.53,250.47 390.62,250.52 390.71,250.58 390.8,250.62 390.89,250.65 390.98,250.69 391.08,250.72 391.17,250.74 391.26,250.76 391.35,250.78 391.44,250.79 391.53,250.8 391.63,250.81 391.72,250.82 391.81,250.82 391.9,250.82 391.99,250.83 392.08,250.83 392.18,250.84 392.27,250.86 392.36,250.88 392.45,250.9 392.54,250.92 392.63,250.95 392.73,250.98 392.82,251.02 392.91,251.05 393,251.12 393.09,251.19 393.18,251.24 393.28,251.29 393.37,251.33 393.46,251.36 393.55,251.37 393.64,251.37 393.73,251.36 393.83,251.34 393.92,251.32 394.01,251.29 394.1,251.26 394.19,251.23 394.28,251.22 394.38,251.21 394.47,251.21 394.56,251.22 394.65,251.25 394.74,251.28 394.83,251.33 394.93,251.39 395.02,251.45 395.11,251.48 395.2,251.53 395.29,251.58 395.38,251.62 395.48,251.65 395.57,251.66 395.66,251.65 395.75,251.62 395.84,251.58 395.93,251.52 396.03,251.45 396.12,251.37 396.21,251.28 396.3,251.2 396.39,251.12 396.48,251.04 396.58,250.98 396.67,250.94 396.76,250.92 396.85,250.91 396.94,250.92 397.03,250.94 397.12,250.98 397.22,251.03 397.31,251.08 397.4,251.08 397.49,251.08 397.58,251.08 397.68,251.07 397.77,251.06 397.86,251.05 397.95,251.03 398.04,251.01 398.13,250.98 398.23,250.95 398.32,250.92 398.41,250.89 398.5,250.85 398.59,250.82 398.68,250.79 398.78,250.77 398.87,250.75 398.96,250.73 399.05,250.71 399.14,250.7 399.23,250.69 399.33,250.69 399.42,250.69 399.51,250.69 399.6,250.74 399.69,250.79 399.78,250.83 399.88,250.85 399.97,250.86 400.06,250.86 400.15,250.83 400.24,250.79 400.33,250.73 400.43,250.66 400.52,250.58 400.61,250.49 400.7,250.4 400.79,250.32 400.88,250.25 400.98,250.19 401.07,250.15 401.16,250.12 401.25,250.12 401.34,250.13 401.43,250.15 401.53,250.19 401.62,250.24 401.71,250.29 401.8,250.29 401.89,250.29 401.98,250.29 402.08,250.28 402.17,250.27 402.26,250.26 402.35,250.24 402.44,250.22 402.53,250.19 402.62,250.16 402.72,250.13 402.81,250.09 402.9,250.06 402.99,250.03 403.08,250 403.18,249.97 403.27,249.95 403.36,249.93 403.45,249.91 403.54,249.9 403.63,249.9 403.73,249.9 403.82,249.9 403.91,249.9 404,249.91 404.09,249.92 404.18,249.93 404.28,249.93 404.37,249.92 404.46,249.91 404.55,249.89 404.64,249.86 404.73,249.83 404.83,249.79 404.92,249.74 405.01,249.7 405.1,249.66 405.19,249.63 405.28,249.59 405.38,249.57 405.47,249.55 405.56,249.54 405.65,249.53 405.74,249.53 405.83,249.54 405.93,249.56 406.02,249.58 406.11,249.6 406.2,249.66 406.29,249.71 406.38,249.76 406.48,249.79 406.57,249.81 406.66,249.81 406.75,249.79 406.84,249.75 406.93,249.7 407.03,249.64 407.12,249.57 407.21,249.5 407.3,249.42 407.39,249.35 407.48,249.29 407.58,249.24 407.67,249.2 407.76,249.19 407.85,249.19 407.94,249.2 408.03,249.24 408.12,249.28 408.22,249.34 408.31,249.39 408.4,249.45 408.49,249.51 408.58,249.55 408.68,249.58 408.77,249.6 408.86,249.6 408.95,249.58 409.04,249.55 409.13,249.5 409.23,249.44 409.32,249.37 409.41,249.29 409.5,249.22 409.59,249.15 409.68,249.09 409.78,249.04 409.87,249 409.96,248.99 410.05,248.99 410.14,249 410.23,249.04 410.33,249.08 410.42,249.13 410.51,249.19 410.6,249.2 410.69,249.22 410.78,249.23 410.88,249.23 410.97,249.23 411.06,249.22 411.15,249.21 411.24,249.2 411.33,249.17 411.43,249.15 411.52,249.12 411.61,249.09 411.7,249.06 411.79,249.03 411.88,249.01 411.98,248.98 412.07,248.97 412.16,248.96 412.25,248.95 412.34,248.95 412.43,248.95 412.53,248.96 412.62,248.98 412.71,248.99 412.8,249.03 412.89,249.07 412.98,249.1 413.08,249.13 413.17,249.14 413.26,249.14 413.35,249.12 413.44,249.09 413.53,249.05 413.62,249 413.72,248.95 413.81,248.89 413.9,248.83 413.99,248.77 414.08,248.72 414.18,248.68 414.27,248.65 414.36,248.64 414.45,248.63 414.54,248.65 414.63,248.67 414.73,248.7 414.82,248.74 414.91,248.79 415,248.82 415.09,248.86 415.18,248.88 415.28,248.9 415.37,248.91 415.46,248.91 415.55,248.9 415.64,248.87 415.73,248.83 415.83,248.79 415.92,248.74 416.01,248.68 416.1,248.63 416.19,248.58 416.28,248.53 416.38,248.5 416.47,248.47 416.56,248.46 416.65,248.45 416.74,248.46 416.83,248.48 416.93,248.51 417.02,248.55 417.11,248.58 417.2,248.61 417.29,248.63 417.38,248.65 417.48,248.66 417.57,248.66 417.66,248.66 417.75,248.65 417.84,248.63 417.93,248.6 418.03,248.57 418.12,248.56 418.21,248.55 418.3,248.53 418.39,248.52 418.48,248.52 418.58,248.52 418.67,248.53 418.76,248.54 418.85,248.57 418.94,248.6 419.03,248.64 419.12,248.69 419.22,248.74 419.31,248.8 419.4,248.87 419.49,248.94 419.58,249.01 419.68,249.06 419.77,249.11 419.86,249.13 419.95,249.15 420.04,249.15 420.13,249.13 420.23,249.11 420.32,249.08 420.41,249.05 420.5,249.01 420.59,248.98 420.68,248.96 420.78,248.95 420.87,248.95 420.96,248.96 421.05,248.99 421.14,249.03 421.23,249.08 421.33,249.15 421.42,249.22 421.51,249.3 421.6,249.36 421.69,249.43 421.78,249.48 421.88,249.53 421.97,249.57 422.06,249.6 422.15,249.61 422.24,249.62 422.33,249.61 422.43,249.59 422.52,249.57 422.61,249.54 422.7,249.52 422.79,249.5 422.88,249.48 422.98,249.47 423.07,249.48 423.16,249.49 423.25,249.52 423.34,249.56 423.43,249.61 423.53,249.66 423.62,249.73 423.71,249.79 423.8,249.84 423.89,249.88 423.98,249.92 424.08,249.96 424.17,249.99 424.26,250.01 424.35,250.03 424.44,250.04 424.53,250.05 424.62,250.05 424.72,250.05 424.81,250.04 424.9,250.04 424.99,250.04 425.08,250.04 425.18,250.05 425.27,250.06 425.36,250.08 425.45,250.1 425.54,250.13 425.63,250.16 425.73,250.2 425.82,250.24 425.91,250.29 426,250.34 426.09,250.4 426.18,250.45 426.28,250.49 426.37,250.52 426.46,250.55 426.55,250.56 426.64,250.57 426.73,250.56 426.83,250.55 426.92,250.54 427.01,250.52 427.1,250.5 427.19,250.48 427.28,250.47 427.38,250.47 427.47,250.47 427.56,250.49 427.65,250.51 427.74,250.55 427.83,250.59 427.93,250.64 428.02,250.69 428.11,250.75 428.2,250.82 428.29,250.89 428.38,250.94 428.48,250.99 428.57,251.03 428.66,251.06 428.75,251.07 428.84,251.07 428.93,251.06 429.03,251.04 429.12,251.01 429.21,250.98 429.3,250.95 429.39,250.92 429.48,250.9 429.58,250.89 429.67,250.89 429.76,250.91 429.85,250.93 429.94,250.97 430.03,251.02 430.12,251.08 430.22,251.14 430.31,251.21 430.4,251.28 430.49,251.34 430.58,251.39 430.68,251.44 430.77,251.48 430.86,251.5 430.95,251.52 431.04,251.52 431.13,251.51 431.23,251.49 431.32,251.47 431.41,251.45 431.5,251.42 431.59,251.4 431.68,251.38 431.78,251.37 431.87,251.37 431.96,251.39 432.05,251.41 432.14,251.45 432.23,251.5 432.33,251.55 432.42,251.61 432.51,251.68 432.6,251.74 432.69,251.79 432.78,251.85 432.88,251.89 432.97,251.93 433.06,251.95 433.15,251.96 433.24,251.97 433.33,251.96 433.43,251.95 433.52,251.93 433.61,251.91 433.7,251.89 433.79,251.87 433.88,251.86 433.98,251.85 434.07,251.86 434.16,251.87 434.25,251.89 434.34,251.93 434.43,251.97 434.53,252.02 434.62,252.08 434.71,252.14 434.8,252.21 434.89,252.28 434.98,252.34 435.08,252.39 435.17,252.43 435.26,252.45 435.35,252.47 435.44,252.47 435.53,252.45 435.62,252.43 435.72,252.4 435.81,252.37 435.9,252.34 435.99,252.31 436.08,252.29 436.18,252.28 436.27,252.28 436.36,252.29 436.45,252.32 436.54,252.36 436.63,252.41 436.73,252.47 436.82,252.53 436.91,252.6 437,252.64 437.09,252.68 437.18,252.71 437.28,252.74 437.37,252.77 437.46,252.79 437.55,252.81 437.64,252.82 437.73,252.83 437.83,252.83 437.92,252.84 438.01,252.84 438.1,252.84 438.19,252.84 438.28,252.85 438.38,252.85 438.47,252.87 438.56,252.88 438.65,252.9 438.74,252.93 438.83,252.96 438.93,253 439.02,253.03 439.11,253.07 439.2,253.1 439.29,253.13 439.38,253.16 439.48,253.19 439.57,253.21 439.66,253.24 439.75,253.25 439.84,253.27 439.93,253.28 440.03,253.29 440.12,253.29 440.21,253.3 440.3,253.31 440.39,253.31 440.48,253.32 440.58,253.33 440.67,253.35 440.76,253.37 440.85,253.39 440.94,253.41 441.03,253.44 441.12,253.47 441.22,253.5 441.31,253.53 441.4,253.56 441.49,253.6 441.58,253.62 441.68,253.65 441.77,253.68 441.86,253.7 441.95,253.71 442.04,253.73 442.13,253.74 442.23,253.75 442.32,253.76 442.41,253.76 442.5,253.77 442.59,253.78 442.68,253.79 442.78,253.8 442.87,253.81 442.96,253.83 443.05,253.85 443.14,253.88 443.23,253.9 443.33,253.93 443.42,253.96 443.51,254 443.6,254.06 443.69,254.12 443.78,254.17 443.88,254.22 443.97,254.26 444.06,254.26 444.15,254.24 444.24,254.21 444.33,254.17 444.43,254.13 444.52,254.07 444.61,254.02 444.7,253.96 444.79,253.91 444.88,253.86 444.98,253.82 445.07,253.79 445.16,253.77 445.25,253.76 445.34,253.77 445.43,253.78 445.53,253.81 445.62,253.83 445.71,253.86 445.8,253.89 445.89,253.9 445.98,253.92 446.08,253.93 446.17,253.93 446.26,253.92 446.35,253.9 446.44,253.88 446.53,253.84 446.62,253.8 446.72,253.76 446.81,253.71 446.9,253.67 446.99,253.62 447.08,253.58 447.18,253.55 447.27,253.52 447.36,253.51 447.45,253.5 447.54,253.5 447.63,253.51 447.73,253.52 447.82,253.54 447.91,253.56 448,253.6 448.09,253.64 448.18,253.67 448.28,253.69 448.37,253.7 448.46,253.7 448.55,253.68 448.64,253.64 448.73,253.6 448.83,253.54 448.92,253.48 449.01,253.41 449.1,253.34 449.19,253.28 449.28,253.22 449.38,253.18 449.47,253.14 449.56,253.12 449.65,253.12 449.74,253.13 449.83,253.15 449.93,253.18 450.02,253.22 450.11,253.26 450.2,253.31" fill="none" stroke="#d95f02" stroke-opacity="0.88" stroke-width="1.3" stroke-linejoin="round"/>
<polyline points="52,308.6 209,308.6 213.2,307.5 219.5,307.5 221.6,308 224.4,304 230,304 231.7,296.9 235,296.9 236.3,302.2 239.8,306.4 243.3,307.5 245.4,303.6 248.2,298 250.3,291 251.7,278.4 253.3,255 254.8,230 256.5,215 258,210.8 259.6,209.2 261.2,219.6 262.8,210.8 265.2,199.6 267.6,195.6 271.6,196 274.8,202 278.5,206.8 281.2,203.6 282.8,201.2 284.4,201.7 286.8,195.6 291.6,190 296.4,188.1 304.4,187.3 314,188.7 323.6,189.7 334,189.2 343.8,191.8 349.4,189.8 357.8,192 366.2,192.6 369.9,196.2 373.2,192.6 378.8,194 385.8,189.8 394.2,187.8 404,190.4 409.6,189.8 418,193.2 425,189 432,188.4 440.4,187.6 453,187.6" fill="none" stroke="#2a2a2a" stroke-width="1.1" stroke-linejoin="round"/>
<rect x="32.1" y="181.4" width="440.9" height="133.6" fill="none" stroke="#111" stroke-width="0.95"/>
<line x1="52" y1="315.0" x2="52" y2="312" stroke="#111" stroke-width="0.8"/>
<line x1="118" y1="315.0" x2="118" y2="312" stroke="#111" stroke-width="0.8"/>
<line x1="186.2" y1="315.0" x2="186.2" y2="312" stroke="#111" stroke-width="0.8"/>
<line x1="252.2" y1="315.0" x2="252.2" y2="312" stroke="#111" stroke-width="0.8"/>
<line x1="320.4" y1="315.0" x2="320.4" y2="312" stroke="#111" stroke-width="0.8"/>
<line x1="388.6" y1="315.0" x2="388.6" y2="312" stroke="#111" stroke-width="0.8"/>
<line x1="450.2" y1="315.0" x2="450.2" y2="312" stroke="#111" stroke-width="0.8"/>
<line x1="32.1" y1="207.3" x2="35.1" y2="207.3" stroke="#111" stroke-width="0.8"/>
<line x1="32.1" y1="244.4" x2="35.1" y2="244.4" stroke="#111" stroke-width="0.8"/>
<line x1="32.1" y1="281.5" x2="35.1" y2="281.5" stroke="#111" stroke-width="0.8"/>
<line x1="473.0" y1="308.6" x2="470" y2="308.6" stroke="#111" stroke-width="0.8"/>
<line x1="473.0" y1="284.24" x2="470" y2="284.24" stroke="#111" stroke-width="0.8"/>
<line x1="473.0" y1="259.88" x2="470" y2="259.88" stroke="#111" stroke-width="0.8"/>
<line x1="473.0" y1="235.52" x2="470" y2="235.52" stroke="#111" stroke-width="0.8"/>
<line x1="473.0" y1="211.16" x2="470" y2="211.16" stroke="#111" stroke-width="0.8"/>
<line x1="473.0" y1="186.8" x2="470" y2="186.8" stroke="#111" stroke-width="0.8"/>
<text x="29.8" y="210.1" font-size="8" text-anchor="end" fill="#2b2b2b">20</text>
<text x="29.8" y="247.2" font-size="8" text-anchor="end" fill="#2b2b2b">0</text>
<text x="29.8" y="284.3" font-size="8" text-anchor="end" fill="#2b2b2b" textLength="14" lengthAdjust="spacingAndGlyphs">−20</text>
<text x="21" y="241" font-size="8" fill="#de8fc2" font-style="italic">T<tspan font-size="5.5" dy="1.3">f</tspan></text>
<text x="475.3" y="312.1" font-size="8" fill="#2b2b2b" textLength="9.8" lengthAdjust="spacingAndGlyphs">0.0</text>
<text x="475.3" y="287.74" font-size="8" fill="#2b2b2b" textLength="9.8" lengthAdjust="spacingAndGlyphs">0.2</text>
<text x="475.3" y="263.38" font-size="8" fill="#2b2b2b" textLength="9.8" lengthAdjust="spacingAndGlyphs">0.4</text>
<text x="475.3" y="239.02" font-size="8" fill="#2b2b2b" textLength="9.8" lengthAdjust="spacingAndGlyphs">0.6</text>
<text x="475.3" y="214.66" font-size="8" fill="#2b2b2b" textLength="9.8" lengthAdjust="spacingAndGlyphs">0.8</text>
<text x="475.3" y="190.3" font-size="8" fill="#2b2b2b" textLength="9.8" lengthAdjust="spacingAndGlyphs">1.0</text>
<text x="0" y="0" font-size="8" fill="#2b2b2b" text-anchor="middle" transform="translate(11.3 248) rotate(-90)" textLength="63" lengthAdjust="spacingAndGlyphs">Temperature (°C)</text>
<text x="0" y="0" font-size="8" fill="#2b2b2b" text-anchor="middle" transform="translate(494 247.2) rotate(-90)" textLength="40" lengthAdjust="spacingAndGlyphs">Probability</text>
<text x="23.8" y="179.4" font-size="8.5" fill="#2b2b2b" textLength="9.2" lengthAdjust="spacingAndGlyphs">(b)</text>
<text x="0" y="0" font-size="8.6" fill="#2b2b2b" text-anchor="end" transform="translate(51.9 320.6) rotate(-45)" textLength="25.5" lengthAdjust="spacingAndGlyphs">Sep 01</text>
<text x="0" y="0" font-size="8.6" fill="#2b2b2b" text-anchor="end" transform="translate(117.9 320.6) rotate(-45)" textLength="25.5" lengthAdjust="spacingAndGlyphs">Oct 01</text>
<text x="0" y="0" font-size="8.6" fill="#2b2b2b" text-anchor="end" transform="translate(186.1 320.6) rotate(-45)" textLength="25.5" lengthAdjust="spacingAndGlyphs">Nov 01</text>
<text x="0" y="0" font-size="8.6" fill="#2b2b2b" text-anchor="end" transform="translate(252.1 320.6) rotate(-45)" textLength="25.5" lengthAdjust="spacingAndGlyphs">Dec 01</text>
<text x="0" y="0" font-size="8.6" fill="#2b2b2b" text-anchor="end" transform="translate(320.3 320.6) rotate(-45)" textLength="25.5" lengthAdjust="spacingAndGlyphs">Jan 01</text>
<text x="0" y="0" font-size="8.6" fill="#2b2b2b" text-anchor="end" transform="translate(388.5 320.6) rotate(-45)" textLength="25.5" lengthAdjust="spacingAndGlyphs">Feb 01</text>
<text x="0" y="0" font-size="8.6" fill="#2b2b2b" text-anchor="end" transform="translate(450.1 320.6) rotate(-45)" textLength="25.5" lengthAdjust="spacingAndGlyphs">Mar 01</text>
<line x1="42" y1="249.6" x2="55.6" y2="249.6" stroke="#d95f02" stroke-opacity="0.88" stroke-width="1.5"/>
<line x1="42" y1="260.2" x2="55.6" y2="260.2" stroke="#1b9e77" stroke-opacity="0.15" stroke-width="1.2"/>
<line x1="42" y1="270.6" x2="55.6" y2="270.6" stroke="#1b9e77" stroke-width="1.4"/>
<line x1="42" y1="281.2" x2="55.6" y2="281.2" stroke="#2a2a2a" stroke-width="1.1"/>
<rect x="42" y="288.79999999999995" width="13.6" height="5.2" fill="#ecf5fd"/>
<text x="59.7" y="252.2" font-size="7.6" fill="#2b2b2b" textLength="49.9" lengthAdjust="spacingAndGlyphs">Soil temperature</text>
<text x="59.7" y="262.8" font-size="7.6" fill="#2b2b2b" textLength="74.3" lengthAdjust="spacingAndGlyphs">Air temperature (hourly)</text>
<text x="59.7" y="273.2" font-size="7.6" fill="#2b2b2b" textLength="112.7" lengthAdjust="spacingAndGlyphs">Air temperature (7-day rolling mean)</text>
<text x="59.7" y="283.8" font-size="7.6" fill="#2b2b2b" textLength="59.9" lengthAdjust="spacingAndGlyphs">Freezing Probability</text>
<text x="59.7" y="294" font-size="7.6" fill="#2b2b2b" textLength="33.6" lengthAdjust="spacingAndGlyphs">Snow cover</text>
</svg>
</body></html>
